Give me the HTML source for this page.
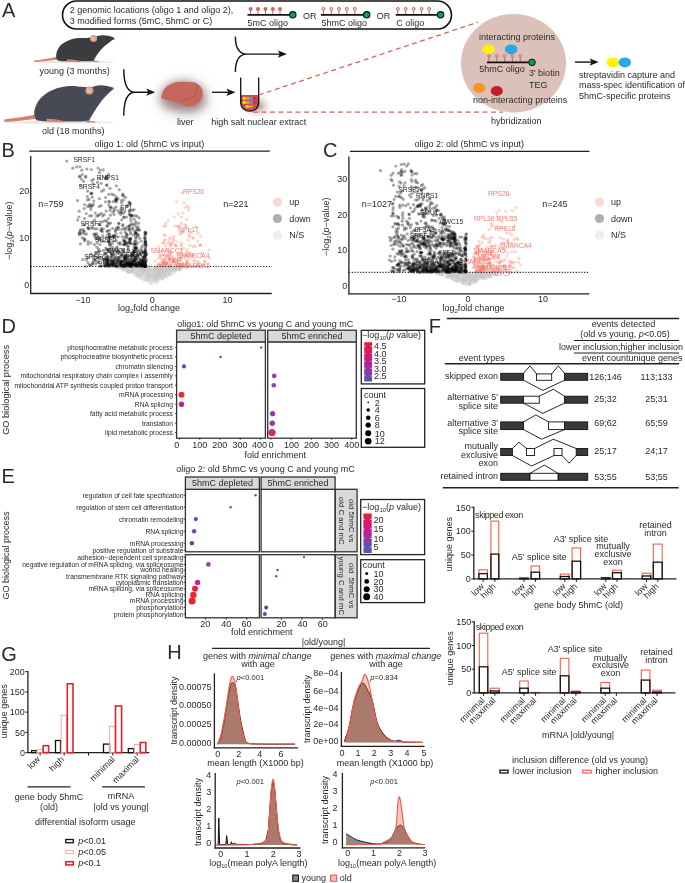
<!DOCTYPE html>
<html><head><meta charset="utf-8"><style>
html,body{margin:0;padding:0;background:#fff;}
svg{display:block;will-change:transform;}
svg{font-family:"Liberation Sans", sans-serif;font-size:9px;fill:#2a2a2a;}
</style></head><body>
<svg width="685" height="883" viewBox="0 0 685 883">
<rect width="685" height="883" fill="#fff"/>
<defs>
<radialGradient id="gshadow" cx="0.5" cy="0.5" r="0.5"><stop offset="0" stop-color="#5a4040" stop-opacity="0.75"/><stop offset="0.55" stop-color="#8a7878" stop-opacity="0.3"/><stop offset="1" stop-color="#ffffff" stop-opacity="0"/></radialGradient>
<radialGradient id="gfaint" cx="0.5" cy="0.5" r="0.5"><stop offset="0" stop-color="#a09090" stop-opacity="0.25"/><stop offset="1" stop-color="#ffffff" stop-opacity="0"/></radialGradient>
<radialGradient id="gtube" cx="0.5" cy="0.5" r="0.5"><stop offset="0" stop-color="#7a2a20" stop-opacity="0.6"/><stop offset="1" stop-color="#ffffff" stop-opacity="0"/></radialGradient>
<radialGradient id="ghalo" cx="0.5" cy="0.5" r="0.5"><stop offset="0.85" stop-color="#b0a0a0" stop-opacity="0.35"/><stop offset="1" stop-color="#ffffff" stop-opacity="0"/></radialGradient>
<linearGradient id="cbar1" x1="0" y1="0" x2="0" y2="1"><stop offset="0" stop-color="#ee1c2e"/><stop offset="0.45" stop-color="#c7168f"/><stop offset="0.75" stop-color="#8a3ca8"/><stop offset="1" stop-color="#4a5bb0"/></linearGradient>
<linearGradient id="cbar2" x1="0" y1="0" x2="0" y2="1"><stop offset="0" stop-color="#ee1c2e"/><stop offset="0.4" stop-color="#d0168a"/><stop offset="0.7" stop-color="#8a3ca8"/><stop offset="1" stop-color="#4a5bb0"/></linearGradient>
<filter id="blur5" x="-50%" y="-50%" width="200%" height="200%"><feGaussianBlur stdDeviation="5"/></filter>
<filter id="blur2" x="-50%" y="-50%" width="200%" height="200%"><feGaussianBlur stdDeviation="3"/></filter>
</defs>
<text x="2.0" y="16.9" font-size="20">A</text>
<rect x="62.5" y="1" width="389" height="28" rx="14" ry="14" fill="none" stroke="#111" stroke-width="1.6"/>
<text x="69.7" y="13.1">2 genomic locations (oligo 1 and oligo 2),</text>
<text x="69.7" y="24.1">3 modified forms (5mC, 5hmC or C)</text>
<line x1="250.6" y1="9.9" x2="250.6" y2="14.8" stroke="#c8695e" stroke-width="1.0"/>
<circle cx="250.6" cy="8.9" r="2.0" fill="#c8695e"/>
<line x1="258.0" y1="9.9" x2="258.0" y2="14.8" stroke="#c8695e" stroke-width="1.0"/>
<circle cx="258.0" cy="8.9" r="2.0" fill="#c8695e"/>
<line x1="265.5" y1="9.9" x2="265.5" y2="14.8" stroke="#c8695e" stroke-width="1.0"/>
<circle cx="265.5" cy="8.9" r="2.0" fill="#c8695e"/>
<line x1="272.8" y1="9.9" x2="272.8" y2="14.8" stroke="#c8695e" stroke-width="1.0"/>
<circle cx="272.8" cy="8.9" r="2.0" fill="#c8695e"/>
<line x1="280.0" y1="9.9" x2="280.0" y2="14.8" stroke="#c8695e" stroke-width="1.0"/>
<circle cx="280.0" cy="8.9" r="2.0" fill="#c8695e"/>
<line x1="247.5" y1="14.8" x2="292.8" y2="14.8" stroke="#111" stroke-width="1.7"/>
<circle cx="292.8" cy="14.8" r="3.2" fill="#00a651" stroke="#111" stroke-width="1.1"/>
<text x="247.5" y="26.0">5mC oligo</text>
<text x="302.9" y="19.4">OR</text>
<line x1="323.5" y1="9.9" x2="323.5" y2="14.8" stroke="#c8695e" stroke-width="1.0"/>
<circle cx="323.5" cy="8.9" r="1.45" fill="#f3dcd6" stroke="#c8695e" stroke-width="1.0"/>
<line x1="331.4" y1="9.9" x2="331.4" y2="14.8" stroke="#c8695e" stroke-width="1.0"/>
<circle cx="331.4" cy="8.9" r="1.45" fill="#f3dcd6" stroke="#c8695e" stroke-width="1.0"/>
<line x1="339.0" y1="9.9" x2="339.0" y2="14.8" stroke="#c8695e" stroke-width="1.0"/>
<circle cx="339.0" cy="8.9" r="1.45" fill="#f3dcd6" stroke="#c8695e" stroke-width="1.0"/>
<line x1="346.8" y1="9.9" x2="346.8" y2="14.8" stroke="#c8695e" stroke-width="1.0"/>
<circle cx="346.8" cy="8.9" r="1.45" fill="#f3dcd6" stroke="#c8695e" stroke-width="1.0"/>
<line x1="354.8" y1="9.9" x2="354.8" y2="14.8" stroke="#c8695e" stroke-width="1.0"/>
<circle cx="354.8" cy="8.9" r="1.45" fill="#f3dcd6" stroke="#c8695e" stroke-width="1.0"/>
<line x1="321.0" y1="14.8" x2="366.7" y2="14.8" stroke="#111" stroke-width="1.7"/>
<circle cx="366.7" cy="14.8" r="3.2" fill="#00a651" stroke="#111" stroke-width="1.1"/>
<text x="321.5" y="26.0">5hmC oligo</text>
<text x="376.7" y="19.4">OR</text>
<line x1="397.8" y1="9.9" x2="397.8" y2="14.8" stroke="#c8695e" stroke-width="1.0"/>
<circle cx="397.8" cy="8.9" r="1.45" fill="#f3dcd6" stroke="#c8695e" stroke-width="1.0"/>
<line x1="405.7" y1="9.9" x2="405.7" y2="14.8" stroke="#c8695e" stroke-width="1.0"/>
<circle cx="405.7" cy="8.9" r="1.45" fill="#f3dcd6" stroke="#c8695e" stroke-width="1.0"/>
<line x1="413.6" y1="9.9" x2="413.6" y2="14.8" stroke="#c8695e" stroke-width="1.0"/>
<circle cx="413.6" cy="8.9" r="1.45" fill="#f3dcd6" stroke="#c8695e" stroke-width="1.0"/>
<line x1="421.5" y1="9.9" x2="421.5" y2="14.8" stroke="#c8695e" stroke-width="1.0"/>
<circle cx="421.5" cy="8.9" r="1.45" fill="#f3dcd6" stroke="#c8695e" stroke-width="1.0"/>
<line x1="429.2" y1="9.9" x2="429.2" y2="14.8" stroke="#c8695e" stroke-width="1.0"/>
<circle cx="429.2" cy="8.9" r="1.45" fill="#f3dcd6" stroke="#c8695e" stroke-width="1.0"/>
<line x1="395.8" y1="14.8" x2="440.6" y2="14.8" stroke="#111" stroke-width="1.7"/>
<circle cx="440.6" cy="14.8" r="3.2" fill="#00a651" stroke="#111" stroke-width="1.1"/>
<text x="396.3" y="26.2">C oligo</text>
<ellipse cx="75" cy="62" rx="40" ry="1.2" fill="#d8d8d8" opacity="0.7"/>
<path d="M34,60.6 C40,59.9 50,58.8 57.5,56.6 L58.5,59.6 C50,60.8 42,61.7 34.3,62.1 Z" fill="#d7806b" stroke="none" stroke-width="1"/>
<path d="M56.8,59.2 C56.2,58.0 55.9,55.6 56.4,53.4 C56.9,51.2 58.2,48.1 60.0,46.0 C61.8,43.9 64.6,42.3 67.3,41.0 C70.0,39.7 72.9,38.8 76.1,38.3 C79.3,37.8 83.6,38.2 86.3,38.0 C89.0,37.8 89.8,37.7 92.2,37.3 C94.6,36.9 98.2,35.6 100.9,35.4 C103.6,35.1 106.0,35.4 108.2,35.8 C110.4,36.2 113.8,37.1 114.3,38.0 C114.8,38.9 112.8,39.5 111.1,41.0 C109.3,42.5 106.0,44.7 103.8,46.8 C101.6,48.9 99.6,51.3 98.0,53.4 C96.4,55.5 95.0,57.9 94.3,59.2 C93.6,60.5 95.4,60.8 93.6,61.1 C91.8,61.5 87.5,61.3 83.4,61.3 C79.3,61.3 72.7,61.4 68.8,61.3 C64.9,61.2 62.0,61.2 60.0,60.9 C58.0,60.5 57.4,60.5 56.8,59.2 Z" fill="#3a3c40" stroke="none" stroke-width="1"/>
<circle cx="93.6" cy="38.5" r="3.5" fill="#d49d8a"/>
<circle cx="93.2" cy="38.7" r="2.1" fill="#e3b8a5"/>
<path d="M67,59.6 C71,59.3 77,60 81,61.3 L80,62.2 C75,62.2 70,62 67,61.6 Z" fill="#d9826e" stroke="none" stroke-width="1"/>
<path d="M93,60.6 L99,61 L98,61.9 L92.5,61.8 Z" fill="#d9826e" stroke="none" stroke-width="1"/>
<circle cx="113.6" cy="39.2" r="0.9" fill="#d0504a"/>
<circle cx="107.2" cy="38.5" r="0.5" fill="#111"/>
<ellipse cx="60" cy="122.3" rx="55" ry="1.3" fill="#d8d8d8" opacity="0.7"/>
<path d="M4.2,119.4 C12,118.6 24,117.2 35.3,114.6 L36.5,118.8 C26,120.4 14,121.5 4.4,121.9 Z" fill="#d7806b" stroke="none" stroke-width="1"/>
<path d="M36.0,119.6 C35.4,118.2 33.9,115.0 34.2,112.0 C34.5,109.0 36.1,104.6 38.0,101.6 C39.9,98.6 42.4,96.2 45.5,94.0 C48.6,91.8 52.8,89.6 56.9,88.3 C61.0,87.0 66.1,86.2 70.2,86.0 C74.3,85.8 78.4,86.6 81.6,86.8 C84.8,87.0 86.3,87.5 89.2,87.3 C92.1,87.1 95.7,85.6 98.7,85.4 C101.7,85.2 104.7,85.5 107.2,86.0 C109.7,86.5 113.0,87.3 113.5,88.3 C114.0,89.3 111.8,90.2 110.0,92.1 C108.2,94.0 104.9,96.8 102.5,99.7 C100.1,102.6 97.9,106.1 95.8,109.2 C93.7,112.3 91.5,116.6 90.1,118.6 C88.7,120.6 91.2,120.6 87.3,121.1 C83.3,121.6 73.1,121.6 66.4,121.6 C59.8,121.6 52.1,121.5 47.4,121.3 C42.7,121.1 39.9,120.8 38.0,120.5 C36.1,120.2 36.6,121.0 36.0,119.6 Z" fill="#474a54" stroke="none" stroke-width="1"/>
<circle cx="89.4" cy="90.4" r="4.0" fill="#d49d8a"/>
<circle cx="89.0" cy="90.6" r="2.5" fill="#e3b8a5"/>
<path d="M46.5,118.8 C52,118.6 59,119.5 64.5,121.2 L63.5,122.3 C57,122.4 51,122.2 46.5,121.6 Z" fill="#d9826e" stroke="none" stroke-width="1"/>
<path d="M86,120.5 L95.5,121.3 L95,122.4 L85.5,122.2 Z" fill="#d9826e" stroke="none" stroke-width="1"/>
<circle cx="113.0" cy="88.6" r="1.0" fill="#d0504a"/>
<circle cx="105.5" cy="88.5" r="0.6" fill="#111"/>
<text x="39.6" y="73.9">young (3 months)</text>
<text x="42.0" y="134.3">old (18 months)</text>
<path d="M123.8,69.2 C123.8,84.2 126.8,92.2 135,92.2 M123.8,115.8 C123.8,100.2 126.8,92.2 135,92.2 L149.3,92.2" fill="none" stroke="#111" stroke-width="1.4"/>
<path d="M155.3,92.2 L146.3,88.60000000000001 L148.3,92.2 L146.3,95.8 Z" fill="#111" stroke="none" stroke-width="1"/>
<path d="M235.4,36.4 C235.4,46.1 238.4,54.1 247,54.1 M235.4,72 C235.4,62.1 238.4,54.1 247,54.1 L280.8,54.1" fill="none" stroke="#111" stroke-width="1.4"/>
<path d="M286.8,54.1 L277.8,50.5 L279.8,54.1 L277.8,57.7 Z" fill="#111" stroke="none" stroke-width="1"/>
<line x1="212.0" y1="92.3" x2="230.0" y2="92.3" stroke="#111" stroke-width="1.4"/>
<path d="M235.4,92.3 L226.4,88.7 L228.4,92.3 L226.4,95.9 Z" fill="#111" stroke="none" stroke-width="1"/>
<ellipse cx="186" cy="100" rx="46" ry="38" fill="url(#gfaint)"/><g filter="url(#blur5)" opacity="0.55"><path d="M160,100 C160,90 168,82 180,81 C192,80 205,86 206,96 C207,106 200,112 190,112 C178,112 160,110 160,100 Z" fill="#5a3838"/></g>
<path d="M161.1,98.3 C162,92 164.5,88 167.5,86 C171,83 175,82 179.2,81.9 C185,81.5 190,81.8 194.4,82.5 C199.5,84.5 202.6,88 202.6,92 C202.8,96.5 201.5,100.5 199,102.4 C196,105 192,106.6 188.5,106.5 C185,106.3 181.5,104.5 179.2,102.4 C176,102.2 173,101.8 171,101.2 C167,100.2 163.5,99.5 161.1,98.3 Z" fill="#c7665a" stroke="none" stroke-width="1"/>
<path d="M194.4,82.5 C197.5,85 198,90 196,94 C193.5,98 188,99.5 182,100" fill="none" stroke="#9b4a44" stroke-width="0.5"/>
<text x="177.0" y="125.1">liver</text>
<ellipse cx="257" cy="106" rx="18" ry="15" fill="url(#gtube)"/>
<path d="M240.9,95 L258.5,95 L258.5,102 C258.5,108 254.5,111 249.7,111 C244.9,111 240.9,108 240.9,102 Z" fill="#c0504d" stroke="none" stroke-width="1"/>
<ellipse cx="244.3" cy="98.3" rx="2.0" ry="1.6" fill="#f7d117"/>
<ellipse cx="247.8" cy="98.3" rx="2.0" ry="1.6" fill="#f39c1c"/>
<ellipse cx="251.3" cy="98.3" rx="2.0" ry="1.6" fill="#3aa7e0"/>
<ellipse cx="254.8" cy="98.3" rx="2.0" ry="1.6" fill="#d92b3a"/>
<ellipse cx="244.3" cy="102.4" rx="2.0" ry="1.6" fill="#f7d117"/>
<ellipse cx="247.8" cy="102.4" rx="2.0" ry="1.6" fill="#f39c1c"/>
<ellipse cx="251.3" cy="102.4" rx="2.0" ry="1.6" fill="#3aa7e0"/>
<ellipse cx="254.8" cy="102.4" rx="2.0" ry="1.6" fill="#d92b3a"/>
<ellipse cx="247.3" cy="106.5" rx="2.0" ry="1.6" fill="#f7d117"/>
<ellipse cx="251" cy="106.5" rx="2.0" ry="1.6" fill="#f39c1c"/>
<path d="M240.7,77.4 L240.7,102 C240.7,108 244.7,111.2 249.7,111.2 C254.7,111.2 258.7,108 258.7,102 L258.7,77.4" fill="none" stroke="#111" stroke-width="1.3"/>
<text x="211.3" y="124.8">high salt nuclear extract</text>
<line x1="258.7" y1="95.0" x2="478.0" y2="22.2" stroke="#c8695e" stroke-width="1.3" stroke-dasharray="5 3.5"/>
<line x1="253.0" y1="112.2" x2="503.0" y2="112.2" stroke="#c8695e" stroke-width="1.3" stroke-dasharray="5 3.5"/>
<ellipse cx="513.5" cy="63.5" rx="56" ry="53" fill="url(#ghalo)"/>
<ellipse cx="513.5" cy="63.2" rx="52.5" ry="49.2" fill="#dcc1b8"/>
<text x="478.9" y="39.5">interacting proteins</text>
<ellipse cx="488.5" cy="49.3" rx="6.3" ry="4.9" fill="#fff200"/>
<ellipse cx="511.2" cy="49.3" rx="6.3" ry="4.9" fill="#27aae1"/>
<line x1="489.0" y1="57.0" x2="489.0" y2="62.4" stroke="#c0574a" stroke-width="0.8"/>
<circle cx="489" cy="55.9" r="1.3" fill="none" stroke="#c0574a" stroke-width="0.7"/>
<line x1="496.8" y1="57.0" x2="496.8" y2="62.4" stroke="#c0574a" stroke-width="0.8"/>
<circle cx="496.8" cy="55.9" r="1.3" fill="none" stroke="#c0574a" stroke-width="0.7"/>
<line x1="504.6" y1="57.0" x2="504.6" y2="62.4" stroke="#c0574a" stroke-width="0.8"/>
<circle cx="504.6" cy="55.9" r="1.3" fill="none" stroke="#c0574a" stroke-width="0.7"/>
<line x1="512.4" y1="57.0" x2="512.4" y2="62.4" stroke="#c0574a" stroke-width="0.8"/>
<circle cx="512.4" cy="55.9" r="1.3" fill="none" stroke="#c0574a" stroke-width="0.7"/>
<line x1="520.3" y1="57.0" x2="520.3" y2="62.4" stroke="#c0574a" stroke-width="0.8"/>
<circle cx="520.3" cy="55.9" r="1.3" fill="none" stroke="#c0574a" stroke-width="0.7"/>
<line x1="487.0" y1="62.4" x2="532.0" y2="62.4" stroke="#111" stroke-width="1.8"/>
<circle cx="532" cy="62.4" r="3.3" fill="#00a651" stroke="#111" stroke-width="1"/>
<text x="479.3" y="72.3">5hmC oligo</text>
<text x="528.9" y="76.4">3' biotin</text>
<text x="529.0" y="87.6">TEG</text>
<ellipse cx="479.3" cy="88" rx="6" ry="4.9" fill="#f7941d"/>
<ellipse cx="496.8" cy="91" rx="6" ry="4.9" fill="#be1e2d"/>
<text x="473.1" y="103.0">non-interacting proteins</text>
<text x="491.1" y="124.4">hybridization</text>
<line x1="575.0" y1="62.1" x2="594.0" y2="62.1" stroke="#111" stroke-width="1.4"/>
<path d="M598.6,62.1 L589.6,58.5 L591.6,62.1 L589.6,65.7 Z" fill="#111" stroke="none" stroke-width="1"/>
<ellipse cx="612.9" cy="62.4" rx="6.2" ry="5" fill="#fff200"/>
<ellipse cx="624.8" cy="62.4" rx="6.2" ry="5" fill="#27aae1"/>
<text x="578.9" y="77.6">streptavidin capture and</text>
<text x="578.9" y="88.4">mass-spec identification of</text>
<text x="578.9" y="99.2">5hmC-specific proteins</text>
<text x="1.5" y="156.9" font-size="20">B</text>
<text x="94.6" y="147.3">oligo 1: old (5hmC vs input)</text>
<line x1="29.2" y1="151.1" x2="269.8" y2="151.1" stroke="#231f20" stroke-width="1.3"/>
<g fill="#c8c8c8" fill-opacity="0.28"><circle cx="152.9" cy="273.6" r="1.55"/><circle cx="172.5" cy="274.2" r="1.55"/><circle cx="147.4" cy="267.4" r="1.55"/><circle cx="161.7" cy="277.0" r="1.55"/><circle cx="164.6" cy="270.0" r="1.55"/><circle cx="178.1" cy="268.6" r="1.55"/><circle cx="163.5" cy="274.2" r="1.55"/><circle cx="146.0" cy="268.9" r="1.55"/><circle cx="165.9" cy="270.9" r="1.55"/><circle cx="149.8" cy="272.5" r="1.55"/><circle cx="137.9" cy="274.1" r="1.55"/><circle cx="158.8" cy="272.6" r="1.55"/><circle cx="120.6" cy="267.3" r="1.55"/><circle cx="144.6" cy="268.7" r="1.55"/><circle cx="127.7" cy="271.2" r="1.55"/><circle cx="167.1" cy="273.1" r="1.55"/><circle cx="140.0" cy="267.5" r="1.55"/><circle cx="164.1" cy="275.8" r="1.55"/><circle cx="161.3" cy="276.0" r="1.55"/><circle cx="148.9" cy="277.6" r="1.55"/><circle cx="158.0" cy="277.1" r="1.55"/><circle cx="170.4" cy="270.4" r="1.55"/><circle cx="141.4" cy="269.5" r="1.55"/><circle cx="123.7" cy="270.4" r="1.55"/><circle cx="161.0" cy="266.6" r="1.55"/><circle cx="175.2" cy="268.2" r="1.55"/><circle cx="162.7" cy="278.6" r="1.55"/><circle cx="168.1" cy="269.8" r="1.55"/><circle cx="162.4" cy="274.0" r="1.55"/><circle cx="123.1" cy="269.2" r="1.55"/><circle cx="148.2" cy="268.5" r="1.55"/><circle cx="145.1" cy="277.9" r="1.55"/><circle cx="158.0" cy="280.0" r="1.55"/><circle cx="162.2" cy="267.6" r="1.55"/><circle cx="160.4" cy="268.6" r="1.55"/><circle cx="170.2" cy="274.2" r="1.55"/><circle cx="149.4" cy="276.4" r="1.55"/><circle cx="173.1" cy="269.7" r="1.55"/><circle cx="126.3" cy="270.1" r="1.55"/><circle cx="160.0" cy="275.5" r="1.55"/><circle cx="135.7" cy="267.0" r="1.55"/><circle cx="131.5" cy="270.1" r="1.55"/><circle cx="173.8" cy="268.0" r="1.55"/><circle cx="147.3" cy="280.1" r="1.55"/><circle cx="156.3" cy="276.9" r="1.55"/><circle cx="185.7" cy="266.9" r="1.55"/><circle cx="142.8" cy="270.0" r="1.55"/><circle cx="178.4" cy="267.4" r="1.55"/><circle cx="140.0" cy="275.6" r="1.55"/><circle cx="152.0" cy="280.2" r="1.55"/><circle cx="140.2" cy="268.5" r="1.55"/><circle cx="157.4" cy="269.4" r="1.55"/><circle cx="148.6" cy="275.1" r="1.55"/><circle cx="144.3" cy="266.6" r="1.55"/><circle cx="149.2" cy="277.2" r="1.55"/><circle cx="174.3" cy="272.9" r="1.55"/><circle cx="187.1" cy="266.8" r="1.55"/><circle cx="144.7" cy="272.2" r="1.55"/><circle cx="174.1" cy="268.8" r="1.55"/><circle cx="138.8" cy="277.0" r="1.55"/><circle cx="162.1" cy="271.1" r="1.55"/><circle cx="147.8" cy="275.4" r="1.55"/><circle cx="155.5" cy="275.3" r="1.55"/><circle cx="152.7" cy="276.7" r="1.55"/><circle cx="145.4" cy="267.5" r="1.55"/><circle cx="117.0" cy="267.1" r="1.55"/><circle cx="165.4" cy="266.9" r="1.55"/><circle cx="161.9" cy="269.6" r="1.55"/><circle cx="174.1" cy="267.6" r="1.55"/><circle cx="169.1" cy="274.0" r="1.55"/><circle cx="140.8" cy="277.7" r="1.55"/><circle cx="144.2" cy="269.6" r="1.55"/><circle cx="143.3" cy="269.0" r="1.55"/><circle cx="156.5" cy="269.1" r="1.55"/><circle cx="120.6" cy="268.4" r="1.55"/><circle cx="156.0" cy="273.0" r="1.55"/><circle cx="161.8" cy="270.6" r="1.55"/><circle cx="140.4" cy="274.5" r="1.55"/><circle cx="164.8" cy="272.8" r="1.55"/><circle cx="187.4" cy="267.0" r="1.55"/><circle cx="158.7" cy="273.6" r="1.55"/><circle cx="161.5" cy="269.9" r="1.55"/><circle cx="155.6" cy="276.9" r="1.55"/><circle cx="127.5" cy="271.4" r="1.55"/><circle cx="171.0" cy="269.7" r="1.55"/><circle cx="154.4" cy="279.3" r="1.55"/><circle cx="162.5" cy="268.7" r="1.55"/><circle cx="157.4" cy="267.7" r="1.55"/><circle cx="153.8" cy="276.7" r="1.55"/><circle cx="149.6" cy="275.7" r="1.55"/><circle cx="158.7" cy="267.9" r="1.55"/><circle cx="161.9" cy="269.1" r="1.55"/><circle cx="166.9" cy="268.3" r="1.55"/><circle cx="140.2" cy="270.6" r="1.55"/><circle cx="143.0" cy="271.2" r="1.55"/><circle cx="142.8" cy="269.5" r="1.55"/><circle cx="138.3" cy="271.0" r="1.55"/><circle cx="153.0" cy="280.9" r="1.55"/><circle cx="152.4" cy="275.8" r="1.55"/><circle cx="181.8" cy="267.6" r="1.55"/><circle cx="160.2" cy="273.1" r="1.55"/><circle cx="128.4" cy="271.4" r="1.55"/><circle cx="168.8" cy="271.3" r="1.55"/><circle cx="156.6" cy="272.9" r="1.55"/><circle cx="153.6" cy="273.3" r="1.55"/><circle cx="157.9" cy="281.6" r="1.55"/><circle cx="162.7" cy="272.1" r="1.55"/><circle cx="165.4" cy="277.1" r="1.55"/><circle cx="134.3" cy="269.9" r="1.55"/><circle cx="180.2" cy="268.6" r="1.55"/><circle cx="143.8" cy="269.6" r="1.55"/><circle cx="144.8" cy="275.1" r="1.55"/><circle cx="153.8" cy="268.3" r="1.55"/><circle cx="155.5" cy="274.0" r="1.55"/><circle cx="140.8" cy="269.0" r="1.55"/><circle cx="127.3" cy="271.4" r="1.55"/><circle cx="165.9" cy="272.5" r="1.55"/><circle cx="151.9" cy="282.0" r="1.55"/><circle cx="147.9" cy="277.2" r="1.55"/><circle cx="154.8" cy="269.9" r="1.55"/><circle cx="145.2" cy="280.3" r="1.55"/><circle cx="161.7" cy="272.4" r="1.55"/><circle cx="127.9" cy="267.1" r="1.55"/><circle cx="148.8" cy="274.4" r="1.55"/><circle cx="168.6" cy="271.8" r="1.55"/><circle cx="145.4" cy="271.4" r="1.55"/><circle cx="167.8" cy="269.2" r="1.55"/><circle cx="169.6" cy="267.2" r="1.55"/><circle cx="164.5" cy="276.2" r="1.55"/><circle cx="165.6" cy="267.7" r="1.55"/><circle cx="118.2" cy="267.0" r="1.55"/><circle cx="162.3" cy="273.3" r="1.55"/><circle cx="158.4" cy="275.5" r="1.55"/><circle cx="177.8" cy="269.6" r="1.55"/><circle cx="160.6" cy="272.1" r="1.55"/><circle cx="132.6" cy="266.8" r="1.55"/><circle cx="158.0" cy="272.8" r="1.55"/><circle cx="162.2" cy="267.2" r="1.55"/><circle cx="120.9" cy="268.0" r="1.55"/><circle cx="156.6" cy="271.6" r="1.55"/><circle cx="155.0" cy="279.7" r="1.55"/><circle cx="160.1" cy="273.6" r="1.55"/><circle cx="171.7" cy="269.8" r="1.55"/><circle cx="157.1" cy="267.6" r="1.55"/><circle cx="134.9" cy="268.0" r="1.55"/><circle cx="177.5" cy="268.7" r="1.55"/><circle cx="147.6" cy="274.2" r="1.55"/><circle cx="144.4" cy="268.7" r="1.55"/><circle cx="141.3" cy="278.4" r="1.55"/><circle cx="126.3" cy="267.7" r="1.55"/><circle cx="143.8" cy="273.8" r="1.55"/><circle cx="148.6" cy="278.6" r="1.55"/><circle cx="154.8" cy="271.9" r="1.55"/><circle cx="158.9" cy="268.0" r="1.55"/><circle cx="131.2" cy="267.8" r="1.55"/><circle cx="147.2" cy="281.2" r="1.55"/><circle cx="122.4" cy="268.8" r="1.55"/><circle cx="159.9" cy="277.8" r="1.55"/><circle cx="179.3" cy="268.2" r="1.55"/><circle cx="155.2" cy="275.2" r="1.55"/><circle cx="139.7" cy="270.4" r="1.55"/><circle cx="151.7" cy="275.5" r="1.55"/><circle cx="166.2" cy="272.1" r="1.55"/><circle cx="139.8" cy="270.7" r="1.55"/><circle cx="195.8" cy="266.6" r="1.55"/><circle cx="106.4" cy="266.6" r="1.55"/><circle cx="137.9" cy="274.0" r="1.55"/><circle cx="149.4" cy="269.7" r="1.55"/><circle cx="167.7" cy="268.0" r="1.55"/><circle cx="155.4" cy="279.5" r="1.55"/><circle cx="157.9" cy="277.2" r="1.55"/><circle cx="161.1" cy="269.8" r="1.55"/><circle cx="173.3" cy="269.5" r="1.55"/><circle cx="151.0" cy="281.7" r="1.55"/><circle cx="143.0" cy="278.7" r="1.55"/><circle cx="106.2" cy="266.6" r="1.55"/><circle cx="161.6" cy="274.5" r="1.55"/><circle cx="169.6" cy="272.4" r="1.55"/><circle cx="158.4" cy="276.2" r="1.55"/><circle cx="148.5" cy="268.8" r="1.55"/><circle cx="178.9" cy="266.7" r="1.55"/><circle cx="175.8" cy="270.3" r="1.55"/><circle cx="116.0" cy="266.7" r="1.55"/><circle cx="152.8" cy="281.1" r="1.55"/><circle cx="150.2" cy="282.7" r="1.55"/><circle cx="127.6" cy="267.0" r="1.55"/><circle cx="145.0" cy="275.4" r="1.55"/><circle cx="159.9" cy="267.8" r="1.55"/><circle cx="157.5" cy="274.4" r="1.55"/><circle cx="164.8" cy="268.4" r="1.55"/><circle cx="143.3" cy="276.3" r="1.55"/><circle cx="181.1" cy="267.3" r="1.55"/><circle cx="168.7" cy="267.3" r="1.55"/><circle cx="143.0" cy="272.8" r="1.55"/><circle cx="154.3" cy="267.9" r="1.55"/><circle cx="162.4" cy="270.9" r="1.55"/><circle cx="142.5" cy="273.2" r="1.55"/><circle cx="178.7" cy="268.2" r="1.55"/><circle cx="159.5" cy="269.8" r="1.55"/><circle cx="159.4" cy="268.2" r="1.55"/><circle cx="158.3" cy="274.3" r="1.55"/><circle cx="158.1" cy="274.0" r="1.55"/><circle cx="158.5" cy="279.1" r="1.55"/><circle cx="161.3" cy="271.8" r="1.55"/><circle cx="138.9" cy="267.6" r="1.55"/><circle cx="148.5" cy="271.3" r="1.55"/><circle cx="151.6" cy="279.9" r="1.55"/><circle cx="176.3" cy="268.7" r="1.55"/><circle cx="173.3" cy="272.0" r="1.55"/><circle cx="150.5" cy="276.2" r="1.55"/><circle cx="147.7" cy="271.3" r="1.55"/><circle cx="154.1" cy="276.2" r="1.55"/><circle cx="151.7" cy="275.7" r="1.55"/><circle cx="155.0" cy="273.7" r="1.55"/><circle cx="131.4" cy="271.4" r="1.55"/><circle cx="151.0" cy="267.2" r="1.55"/><circle cx="164.6" cy="267.7" r="1.55"/><circle cx="127.9" cy="266.7" r="1.55"/><circle cx="141.0" cy="267.1" r="1.55"/><circle cx="149.3" cy="272.1" r="1.55"/><circle cx="173.7" cy="268.1" r="1.55"/><circle cx="139.9" cy="269.9" r="1.55"/><circle cx="127.3" cy="272.0" r="1.55"/><circle cx="167.7" cy="270.9" r="1.55"/><circle cx="145.1" cy="275.6" r="1.55"/><circle cx="169.6" cy="266.7" r="1.55"/><circle cx="144.8" cy="266.9" r="1.55"/><circle cx="159.7" cy="277.2" r="1.55"/><circle cx="147.2" cy="274.7" r="1.55"/><circle cx="180.2" cy="269.8" r="1.55"/><circle cx="149.1" cy="267.4" r="1.55"/><circle cx="121.2" cy="267.3" r="1.55"/><circle cx="134.8" cy="268.4" r="1.55"/><circle cx="164.2" cy="272.7" r="1.55"/><circle cx="149.1" cy="280.2" r="1.55"/><circle cx="164.1" cy="274.7" r="1.55"/><circle cx="140.3" cy="273.4" r="1.55"/><circle cx="164.2" cy="273.3" r="1.55"/><circle cx="167.7" cy="267.9" r="1.55"/><circle cx="156.1" cy="282.8" r="1.55"/><circle cx="165.3" cy="267.7" r="1.55"/><circle cx="153.8" cy="270.1" r="1.55"/><circle cx="131.8" cy="271.9" r="1.55"/><circle cx="145.4" cy="276.0" r="1.55"/><circle cx="150.6" cy="270.7" r="1.55"/><circle cx="157.6" cy="276.5" r="1.55"/><circle cx="169.6" cy="275.2" r="1.55"/><circle cx="158.2" cy="266.8" r="1.55"/><circle cx="147.0" cy="271.6" r="1.55"/><circle cx="155.9" cy="267.7" r="1.55"/><circle cx="131.7" cy="266.7" r="1.55"/><circle cx="164.4" cy="275.6" r="1.55"/><circle cx="156.3" cy="271.6" r="1.55"/><circle cx="135.6" cy="269.0" r="1.55"/><circle cx="158.1" cy="270.8" r="1.55"/><circle cx="140.0" cy="269.6" r="1.55"/><circle cx="165.2" cy="271.1" r="1.55"/><circle cx="169.4" cy="273.9" r="1.55"/><circle cx="150.4" cy="274.3" r="1.55"/><circle cx="151.7" cy="276.6" r="1.55"/><circle cx="131.6" cy="268.3" r="1.55"/><circle cx="139.4" cy="266.8" r="1.55"/><circle cx="124.3" cy="270.0" r="1.55"/><circle cx="162.2" cy="267.0" r="1.55"/><circle cx="170.0" cy="271.9" r="1.55"/><circle cx="126.6" cy="268.9" r="1.55"/><circle cx="144.7" cy="272.6" r="1.55"/><circle cx="170.8" cy="272.0" r="1.55"/><circle cx="151.9" cy="277.2" r="1.55"/><circle cx="136.6" cy="272.1" r="1.55"/><circle cx="137.8" cy="274.6" r="1.55"/><circle cx="157.9" cy="267.4" r="1.55"/><circle cx="170.1" cy="267.6" r="1.55"/><circle cx="143.1" cy="267.7" r="1.55"/><circle cx="130.0" cy="271.6" r="1.55"/><circle cx="169.0" cy="266.6" r="1.55"/><circle cx="170.1" cy="268.3" r="1.55"/><circle cx="148.8" cy="266.7" r="1.55"/><circle cx="146.2" cy="278.0" r="1.55"/><circle cx="174.2" cy="270.1" r="1.55"/><circle cx="142.2" cy="271.7" r="1.55"/><circle cx="162.2" cy="279.3" r="1.55"/><circle cx="154.9" cy="271.8" r="1.55"/><circle cx="125.9" cy="266.8" r="1.55"/><circle cx="155.0" cy="269.9" r="1.55"/><circle cx="130.2" cy="272.6" r="1.55"/><circle cx="137.2" cy="268.5" r="1.55"/><circle cx="135.4" cy="268.1" r="1.55"/><circle cx="180.3" cy="270.8" r="1.55"/><circle cx="173.3" cy="270.0" r="1.55"/><circle cx="133.8" cy="272.2" r="1.55"/><circle cx="136.1" cy="272.0" r="1.55"/><circle cx="133.3" cy="272.9" r="1.55"/><circle cx="161.8" cy="270.6" r="1.55"/><circle cx="165.2" cy="275.9" r="1.55"/><circle cx="139.3" cy="274.7" r="1.55"/><circle cx="122.6" cy="269.1" r="1.55"/><circle cx="124.9" cy="269.7" r="1.55"/><circle cx="122.8" cy="268.0" r="1.55"/><circle cx="158.8" cy="274.3" r="1.55"/><circle cx="142.5" cy="277.5" r="1.55"/><circle cx="154.1" cy="279.1" r="1.55"/><circle cx="162.5" cy="267.8" r="1.55"/><circle cx="131.9" cy="272.1" r="1.55"/><circle cx="158.0" cy="279.8" r="1.55"/><circle cx="178.9" cy="269.1" r="1.55"/><circle cx="136.6" cy="275.3" r="1.55"/><circle cx="153.2" cy="270.8" r="1.55"/><circle cx="177.1" cy="268.8" r="1.55"/><circle cx="157.6" cy="279.0" r="1.55"/><circle cx="173.6" cy="269.1" r="1.55"/><circle cx="129.2" cy="266.7" r="1.55"/><circle cx="170.9" cy="269.4" r="1.55"/><circle cx="154.7" cy="270.4" r="1.55"/><circle cx="149.3" cy="271.7" r="1.55"/><circle cx="179.2" cy="269.1" r="1.55"/><circle cx="150.3" cy="283.5" r="1.55"/><circle cx="172.2" cy="268.3" r="1.55"/><circle cx="151.7" cy="277.2" r="1.55"/><circle cx="161.0" cy="276.5" r="1.55"/><circle cx="144.6" cy="268.3" r="1.55"/><circle cx="146.1" cy="267.3" r="1.55"/><circle cx="150.6" cy="270.5" r="1.55"/><circle cx="151.8" cy="273.0" r="1.55"/><circle cx="189.7" cy="266.6" r="1.55"/><circle cx="157.4" cy="274.9" r="1.55"/><circle cx="118.0" cy="266.8" r="1.55"/><circle cx="132.7" cy="270.6" r="1.55"/><circle cx="192.6" cy="266.6" r="1.55"/><circle cx="172.2" cy="266.7" r="1.55"/><circle cx="179.2" cy="267.0" r="1.55"/><circle cx="114.1" cy="266.6" r="1.55"/><circle cx="155.4" cy="270.4" r="1.55"/><circle cx="170.7" cy="266.9" r="1.55"/><circle cx="171.0" cy="268.4" r="1.55"/><circle cx="139.7" cy="274.6" r="1.55"/><circle cx="166.2" cy="272.8" r="1.55"/><circle cx="166.5" cy="276.5" r="1.55"/><circle cx="165.6" cy="269.8" r="1.55"/><circle cx="145.2" cy="268.3" r="1.55"/><circle cx="156.2" cy="268.4" r="1.55"/><circle cx="147.7" cy="276.4" r="1.55"/><circle cx="163.5" cy="272.1" r="1.55"/><circle cx="180.6" cy="268.6" r="1.55"/><circle cx="133.5" cy="269.4" r="1.55"/><circle cx="179.7" cy="268.8" r="1.55"/><circle cx="137.6" cy="270.8" r="1.55"/><circle cx="140.9" cy="267.4" r="1.55"/><circle cx="178.0" cy="269.0" r="1.55"/><circle cx="154.7" cy="267.7" r="1.55"/><circle cx="151.3" cy="269.2" r="1.55"/><circle cx="166.8" cy="271.5" r="1.55"/><circle cx="154.0" cy="277.6" r="1.55"/><circle cx="159.3" cy="271.8" r="1.55"/><circle cx="186.1" cy="267.3" r="1.55"/><circle cx="134.2" cy="268.8" r="1.55"/><circle cx="137.5" cy="276.7" r="1.55"/><circle cx="157.7" cy="269.2" r="1.55"/><circle cx="139.7" cy="270.9" r="1.55"/><circle cx="142.5" cy="271.0" r="1.55"/><circle cx="140.4" cy="267.4" r="1.55"/><circle cx="185.9" cy="267.1" r="1.55"/><circle cx="176.9" cy="268.5" r="1.55"/><circle cx="149.8" cy="279.9" r="1.55"/><circle cx="159.8" cy="277.0" r="1.55"/><circle cx="168.3" cy="269.4" r="1.55"/><circle cx="172.2" cy="269.2" r="1.55"/><circle cx="134.9" cy="274.4" r="1.55"/><circle cx="155.2" cy="280.7" r="1.55"/><circle cx="147.0" cy="279.8" r="1.55"/><circle cx="168.5" cy="274.8" r="1.55"/><circle cx="153.7" cy="269.6" r="1.55"/><circle cx="149.4" cy="269.8" r="1.55"/><circle cx="128.3" cy="270.3" r="1.55"/><circle cx="136.8" cy="275.5" r="1.55"/><circle cx="142.4" cy="270.8" r="1.55"/><circle cx="164.6" cy="277.2" r="1.55"/><circle cx="141.2" cy="270.8" r="1.55"/><circle cx="144.6" cy="279.4" r="1.55"/><circle cx="154.4" cy="276.9" r="1.55"/><circle cx="146.9" cy="272.1" r="1.55"/><circle cx="155.9" cy="271.6" r="1.55"/><circle cx="178.9" cy="269.8" r="1.55"/><circle cx="142.9" cy="271.0" r="1.55"/><circle cx="156.0" cy="271.2" r="1.55"/><circle cx="142.7" cy="273.9" r="1.55"/><circle cx="155.4" cy="280.6" r="1.55"/><circle cx="137.5" cy="271.3" r="1.55"/><circle cx="133.7" cy="269.6" r="1.55"/><circle cx="160.6" cy="277.5" r="1.55"/><circle cx="163.7" cy="277.5" r="1.55"/><circle cx="135.3" cy="274.8" r="1.55"/><circle cx="132.4" cy="270.2" r="1.55"/><circle cx="128.8" cy="272.6" r="1.55"/><circle cx="141.3" cy="274.9" r="1.55"/><circle cx="193.3" cy="266.6" r="1.55"/><circle cx="131.6" cy="270.7" r="1.55"/><circle cx="171.5" cy="270.1" r="1.55"/><circle cx="128.0" cy="268.4" r="1.55"/><circle cx="170.9" cy="272.0" r="1.55"/><circle cx="139.0" cy="273.8" r="1.55"/><circle cx="172.2" cy="269.1" r="1.55"/><circle cx="146.0" cy="275.1" r="1.55"/><circle cx="188.1" cy="266.7" r="1.55"/><circle cx="168.0" cy="270.5" r="1.55"/><circle cx="163.2" cy="270.2" r="1.55"/><circle cx="156.9" cy="274.9" r="1.55"/><circle cx="130.4" cy="272.6" r="1.55"/><circle cx="146.5" cy="273.4" r="1.55"/><circle cx="163.9" cy="272.6" r="1.55"/><circle cx="136.7" cy="270.1" r="1.55"/><circle cx="150.3" cy="268.3" r="1.55"/><circle cx="137.2" cy="272.0" r="1.55"/><circle cx="160.6" cy="271.7" r="1.55"/><circle cx="187.8" cy="267.1" r="1.55"/><circle cx="149.1" cy="274.5" r="1.55"/><circle cx="160.6" cy="269.4" r="1.55"/><circle cx="143.8" cy="280.2" r="1.55"/><circle cx="155.6" cy="274.4" r="1.55"/><circle cx="133.8" cy="269.1" r="1.55"/><circle cx="168.3" cy="272.4" r="1.55"/><circle cx="160.5" cy="271.9" r="1.55"/><circle cx="194.9" cy="266.6" r="1.55"/><circle cx="169.5" cy="270.5" r="1.55"/><circle cx="153.2" cy="273.2" r="1.55"/><circle cx="169.5" cy="267.5" r="1.55"/><circle cx="157.5" cy="267.7" r="1.55"/><circle cx="153.8" cy="270.8" r="1.55"/><circle cx="170.7" cy="273.3" r="1.55"/><circle cx="123.9" cy="267.7" r="1.55"/><circle cx="123.8" cy="268.8" r="1.55"/><circle cx="152.6" cy="278.6" r="1.55"/><circle cx="170.0" cy="266.6" r="1.55"/><circle cx="156.7" cy="275.4" r="1.55"/><circle cx="176.5" cy="266.7" r="1.55"/><circle cx="156.3" cy="279.0" r="1.55"/><circle cx="151.5" cy="277.8" r="1.55"/><circle cx="169.4" cy="268.0" r="1.55"/><circle cx="161.0" cy="269.0" r="1.55"/><circle cx="156.4" cy="275.9" r="1.55"/><circle cx="187.7" cy="266.9" r="1.55"/><circle cx="156.7" cy="278.4" r="1.55"/><circle cx="162.5" cy="278.9" r="1.55"/><circle cx="159.5" cy="277.2" r="1.55"/><circle cx="127.7" cy="271.2" r="1.55"/><circle cx="132.1" cy="271.6" r="1.55"/><circle cx="133.0" cy="267.8" r="1.55"/><circle cx="151.5" cy="270.0" r="1.55"/><circle cx="162.0" cy="271.3" r="1.55"/><circle cx="175.7" cy="271.2" r="1.55"/><circle cx="118.0" cy="267.1" r="1.55"/><circle cx="147.9" cy="280.4" r="1.55"/><circle cx="187.8" cy="267.0" r="1.55"/><circle cx="193.4" cy="266.6" r="1.55"/><circle cx="166.4" cy="269.3" r="1.55"/><circle cx="192.6" cy="266.6" r="1.55"/><circle cx="144.7" cy="272.1" r="1.55"/><circle cx="129.9" cy="268.2" r="1.55"/><circle cx="150.7" cy="269.0" r="1.55"/><circle cx="158.5" cy="272.7" r="1.55"/><circle cx="174.3" cy="269.0" r="1.55"/><circle cx="167.2" cy="268.7" r="1.55"/><circle cx="158.7" cy="267.2" r="1.55"/><circle cx="153.2" cy="274.8" r="1.55"/><circle cx="116.5" cy="266.6" r="1.55"/><circle cx="153.7" cy="279.0" r="1.55"/><circle cx="128.3" cy="267.8" r="1.55"/><circle cx="138.2" cy="273.5" r="1.55"/><circle cx="142.1" cy="268.1" r="1.55"/><circle cx="166.6" cy="270.4" r="1.55"/><circle cx="164.8" cy="274.6" r="1.55"/><circle cx="153.8" cy="268.0" r="1.55"/><circle cx="129.0" cy="268.1" r="1.55"/><circle cx="154.0" cy="272.1" r="1.55"/><circle cx="175.9" cy="268.7" r="1.55"/><circle cx="166.7" cy="271.0" r="1.55"/><circle cx="164.4" cy="271.8" r="1.55"/><circle cx="146.1" cy="269.7" r="1.55"/><circle cx="139.9" cy="268.6" r="1.55"/><circle cx="159.1" cy="279.0" r="1.55"/><circle cx="174.0" cy="270.7" r="1.55"/><circle cx="149.5" cy="275.8" r="1.55"/><circle cx="161.2" cy="268.9" r="1.55"/><circle cx="174.9" cy="268.2" r="1.55"/><circle cx="140.0" cy="267.9" r="1.55"/><circle cx="148.3" cy="270.5" r="1.55"/><circle cx="127.4" cy="267.6" r="1.55"/><circle cx="136.9" cy="268.6" r="1.55"/><circle cx="121.0" cy="268.6" r="1.55"/><circle cx="150.0" cy="269.6" r="1.55"/><circle cx="170.8" cy="267.2" r="1.55"/><circle cx="160.9" cy="268.3" r="1.55"/><circle cx="155.7" cy="281.1" r="1.55"/><circle cx="160.7" cy="271.7" r="1.55"/><circle cx="129.6" cy="271.1" r="1.55"/><circle cx="135.7" cy="266.6" r="1.55"/><circle cx="159.5" cy="273.6" r="1.55"/><circle cx="119.1" cy="266.6" r="1.55"/><circle cx="142.1" cy="269.6" r="1.55"/><circle cx="142.5" cy="273.0" r="1.55"/><circle cx="149.6" cy="273.7" r="1.55"/><circle cx="137.9" cy="272.0" r="1.55"/><circle cx="153.6" cy="271.4" r="1.55"/><circle cx="189.8" cy="266.6" r="1.55"/><circle cx="154.3" cy="267.0" r="1.55"/><circle cx="146.4" cy="280.3" r="1.55"/><circle cx="161.7" cy="274.9" r="1.55"/><circle cx="158.8" cy="274.0" r="1.55"/><circle cx="121.3" cy="268.0" r="1.55"/><circle cx="190.4" cy="266.6" r="1.55"/><circle cx="151.4" cy="278.5" r="1.55"/><circle cx="131.3" cy="270.1" r="1.55"/><circle cx="106.3" cy="266.6" r="1.55"/><circle cx="166.6" cy="270.8" r="1.55"/><circle cx="164.8" cy="274.0" r="1.55"/><circle cx="191.8" cy="266.6" r="1.55"/><circle cx="129.8" cy="270.8" r="1.55"/><circle cx="175.9" cy="270.6" r="1.55"/><circle cx="169.6" cy="268.0" r="1.55"/><circle cx="132.7" cy="271.1" r="1.55"/><circle cx="178.2" cy="267.1" r="1.55"/><circle cx="145.1" cy="269.6" r="1.55"/><circle cx="133.0" cy="268.0" r="1.55"/><circle cx="161.9" cy="273.0" r="1.55"/><circle cx="128.6" cy="272.5" r="1.55"/><circle cx="152.6" cy="271.6" r="1.55"/><circle cx="151.9" cy="273.3" r="1.55"/><circle cx="162.1" cy="279.0" r="1.55"/><circle cx="156.0" cy="281.0" r="1.55"/><circle cx="158.8" cy="274.0" r="1.55"/><circle cx="117.4" cy="267.3" r="1.55"/><circle cx="147.9" cy="267.3" r="1.55"/><circle cx="149.6" cy="277.1" r="1.55"/><circle cx="155.8" cy="283.2" r="1.55"/><circle cx="144.9" cy="271.0" r="1.55"/><circle cx="182.7" cy="267.5" r="1.55"/><circle cx="146.7" cy="271.1" r="1.55"/><circle cx="158.6" cy="270.5" r="1.55"/><circle cx="165.0" cy="274.5" r="1.55"/><circle cx="157.2" cy="276.7" r="1.55"/><circle cx="135.6" cy="272.5" r="1.55"/><circle cx="146.3" cy="268.9" r="1.55"/><circle cx="157.0" cy="268.3" r="1.55"/><circle cx="140.6" cy="272.3" r="1.55"/><circle cx="164.3" cy="270.8" r="1.55"/><circle cx="184.6" cy="266.7" r="1.55"/><circle cx="156.1" cy="269.4" r="1.55"/><circle cx="155.9" cy="278.1" r="1.55"/><circle cx="129.8" cy="271.0" r="1.55"/><circle cx="149.4" cy="267.6" r="1.55"/><circle cx="145.2" cy="272.5" r="1.55"/><circle cx="163.8" cy="266.8" r="1.55"/><circle cx="142.3" cy="276.0" r="1.55"/><circle cx="147.6" cy="276.0" r="1.55"/><circle cx="146.6" cy="269.3" r="1.55"/><circle cx="168.2" cy="274.4" r="1.55"/><circle cx="136.1" cy="272.2" r="1.55"/><circle cx="141.5" cy="268.8" r="1.55"/><circle cx="133.0" cy="268.9" r="1.55"/><circle cx="163.7" cy="267.7" r="1.55"/><circle cx="137.2" cy="268.9" r="1.55"/><circle cx="154.4" cy="267.7" r="1.55"/><circle cx="166.1" cy="275.0" r="1.55"/><circle cx="130.6" cy="270.3" r="1.55"/><circle cx="157.2" cy="268.9" r="1.55"/><circle cx="157.3" cy="270.4" r="1.55"/><circle cx="147.0" cy="278.4" r="1.55"/><circle cx="169.3" cy="271.3" r="1.55"/><circle cx="100.8" cy="266.6" r="1.55"/><circle cx="158.1" cy="271.0" r="1.55"/><circle cx="164.0" cy="266.6" r="1.55"/><circle cx="175.8" cy="267.2" r="1.55"/><circle cx="167.9" cy="268.6" r="1.55"/><circle cx="166.3" cy="276.1" r="1.55"/><circle cx="143.6" cy="267.3" r="1.55"/><circle cx="159.2" cy="275.1" r="1.55"/><circle cx="150.3" cy="271.3" r="1.55"/><circle cx="156.1" cy="269.0" r="1.55"/><circle cx="161.3" cy="269.2" r="1.55"/><circle cx="147.6" cy="270.3" r="1.55"/><circle cx="144.3" cy="270.6" r="1.55"/><circle cx="140.3" cy="269.2" r="1.55"/><circle cx="152.7" cy="284.3" r="1.55"/><circle cx="153.4" cy="271.6" r="1.55"/><circle cx="134.0" cy="269.7" r="1.55"/><circle cx="127.3" cy="270.0" r="1.55"/><circle cx="155.0" cy="277.4" r="1.55"/><circle cx="155.7" cy="276.0" r="1.55"/><circle cx="132.6" cy="267.3" r="1.55"/><circle cx="146.1" cy="278.4" r="1.55"/><circle cx="149.2" cy="280.1" r="1.55"/><circle cx="174.4" cy="267.3" r="1.55"/><circle cx="180.3" cy="268.2" r="1.55"/><circle cx="142.1" cy="274.4" r="1.55"/><circle cx="184.3" cy="266.6" r="1.55"/><circle cx="159.8" cy="271.7" r="1.55"/><circle cx="167.2" cy="276.0" r="1.55"/><circle cx="180.9" cy="269.5" r="1.55"/><circle cx="131.7" cy="268.1" r="1.55"/><circle cx="145.9" cy="271.2" r="1.55"/><circle cx="158.5" cy="269.2" r="1.55"/><circle cx="146.5" cy="270.1" r="1.55"/><circle cx="147.6" cy="271.8" r="1.55"/><circle cx="123.2" cy="267.0" r="1.55"/><circle cx="128.2" cy="267.6" r="1.55"/><circle cx="141.8" cy="272.3" r="1.55"/><circle cx="135.0" cy="271.7" r="1.55"/><circle cx="148.4" cy="273.7" r="1.55"/><circle cx="192.8" cy="266.6" r="1.55"/><circle cx="141.4" cy="272.6" r="1.55"/><circle cx="134.5" cy="266.6" r="1.55"/><circle cx="148.0" cy="274.0" r="1.55"/><circle cx="127.4" cy="270.2" r="1.55"/><circle cx="132.2" cy="268.1" r="1.55"/><circle cx="158.1" cy="275.6" r="1.55"/><circle cx="159.4" cy="267.4" r="1.55"/><circle cx="166.7" cy="267.3" r="1.55"/><circle cx="157.9" cy="269.5" r="1.55"/><circle cx="147.1" cy="279.8" r="1.55"/><circle cx="162.3" cy="275.0" r="1.55"/><circle cx="137.5" cy="267.1" r="1.55"/><circle cx="166.1" cy="269.7" r="1.55"/><circle cx="115.1" cy="266.6" r="1.55"/><circle cx="186.3" cy="267.6" r="1.55"/><circle cx="142.8" cy="271.8" r="1.55"/><circle cx="160.5" cy="274.7" r="1.55"/><circle cx="152.7" cy="276.2" r="1.55"/><circle cx="164.6" cy="267.2" r="1.55"/><circle cx="130.2" cy="270.1" r="1.55"/><circle cx="156.6" cy="276.7" r="1.55"/><circle cx="160.8" cy="267.1" r="1.55"/><circle cx="161.1" cy="277.0" r="1.55"/><circle cx="129.9" cy="271.7" r="1.55"/><circle cx="175.2" cy="269.3" r="1.55"/><circle cx="151.6" cy="275.5" r="1.55"/><circle cx="176.0" cy="269.8" r="1.55"/><circle cx="157.7" cy="270.2" r="1.55"/><circle cx="139.5" cy="277.2" r="1.55"/><circle cx="138.4" cy="276.3" r="1.55"/><circle cx="150.0" cy="272.5" r="1.55"/><circle cx="117.2" cy="267.1" r="1.55"/><circle cx="157.6" cy="278.6" r="1.55"/><circle cx="145.6" cy="270.5" r="1.55"/><circle cx="163.4" cy="270.6" r="1.55"/><circle cx="138.7" cy="275.5" r="1.55"/><circle cx="146.5" cy="273.6" r="1.55"/><circle cx="127.3" cy="272.2" r="1.55"/><circle cx="137.6" cy="269.7" r="1.55"/><circle cx="150.4" cy="274.8" r="1.55"/><circle cx="145.5" cy="274.5" r="1.55"/></g>
<g fill="#f47a68" fill-opacity="0.3"><circle cx="165.8" cy="226.1" r="1.6"/><circle cx="191.4" cy="255.3" r="1.6"/><circle cx="170.5" cy="265.2" r="1.6"/><circle cx="177.1" cy="261.8" r="1.6"/><circle cx="158.8" cy="246.3" r="1.6"/><circle cx="180.9" cy="265.9" r="1.6"/><circle cx="190.6" cy="252.9" r="1.6"/><circle cx="198.3" cy="262.3" r="1.6"/><circle cx="178.1" cy="255.7" r="1.6"/><circle cx="165.2" cy="255.7" r="1.6"/><circle cx="181.3" cy="258.6" r="1.6"/><circle cx="163.9" cy="263.5" r="1.6"/><circle cx="164.0" cy="258.9" r="1.6"/><circle cx="164.0" cy="262.2" r="1.6"/><circle cx="187.9" cy="252.6" r="1.6"/><circle cx="163.5" cy="254.6" r="1.6"/><circle cx="173.4" cy="261.6" r="1.6"/><circle cx="161.0" cy="265.4" r="1.6"/><circle cx="194.3" cy="259.6" r="1.6"/><circle cx="178.0" cy="253.7" r="1.6"/><circle cx="185.8" cy="264.1" r="1.6"/><circle cx="169.2" cy="258.4" r="1.6"/><circle cx="178.5" cy="264.1" r="1.6"/><circle cx="159.3" cy="253.3" r="1.6"/><circle cx="163.9" cy="263.0" r="1.6"/><circle cx="202.7" cy="265.0" r="1.6"/><circle cx="181.4" cy="254.4" r="1.6"/><circle cx="175.3" cy="260.6" r="1.6"/><circle cx="160.1" cy="265.6" r="1.6"/><circle cx="173.7" cy="260.2" r="1.6"/><circle cx="186.1" cy="251.9" r="1.6"/><circle cx="169.6" cy="256.3" r="1.6"/><circle cx="176.6" cy="201.9" r="1.6"/><circle cx="181.2" cy="257.8" r="1.6"/><circle cx="161.9" cy="262.1" r="1.6"/><circle cx="160.9" cy="265.7" r="1.6"/><circle cx="165.7" cy="223.4" r="1.6"/><circle cx="180.1" cy="264.4" r="1.6"/><circle cx="172.9" cy="261.6" r="1.6"/><circle cx="191.1" cy="233.2" r="1.6"/><circle cx="166.7" cy="264.1" r="1.6"/><circle cx="160.3" cy="255.8" r="1.6"/><circle cx="156.3" cy="265.9" r="1.6"/><circle cx="160.6" cy="256.4" r="1.6"/><circle cx="189.3" cy="254.2" r="1.6"/><circle cx="188.6" cy="266.2" r="1.6"/><circle cx="201.7" cy="255.7" r="1.6"/><circle cx="170.9" cy="265.3" r="1.6"/><circle cx="187.5" cy="264.6" r="1.6"/><circle cx="165.6" cy="245.8" r="1.6"/><circle cx="182.7" cy="265.9" r="1.6"/><circle cx="193.0" cy="246.7" r="1.6"/><circle cx="163.1" cy="261.9" r="1.6"/><circle cx="170.3" cy="266.4" r="1.6"/><circle cx="203.0" cy="265.2" r="1.6"/><circle cx="180.1" cy="234.1" r="1.6"/><circle cx="187.3" cy="249.2" r="1.6"/><circle cx="197.6" cy="264.3" r="1.6"/><circle cx="201.3" cy="252.6" r="1.6"/><circle cx="170.3" cy="246.1" r="1.6"/><circle cx="171.1" cy="255.9" r="1.6"/><circle cx="180.3" cy="232.4" r="1.6"/><circle cx="167.8" cy="251.0" r="1.6"/><circle cx="163.5" cy="226.1" r="1.6"/><circle cx="173.6" cy="258.5" r="1.6"/><circle cx="181.2" cy="249.4" r="1.6"/><circle cx="170.2" cy="253.4" r="1.6"/><circle cx="159.0" cy="264.8" r="1.6"/><circle cx="178.4" cy="263.2" r="1.6"/><circle cx="165.1" cy="259.4" r="1.6"/><circle cx="166.2" cy="263.6" r="1.6"/><circle cx="168.3" cy="220.7" r="1.6"/><circle cx="173.0" cy="256.0" r="1.6"/><circle cx="178.3" cy="226.3" r="1.6"/><circle cx="163.2" cy="242.9" r="1.6"/><circle cx="195.1" cy="246.3" r="1.6"/><circle cx="209.4" cy="258.0" r="1.6"/><circle cx="161.0" cy="263.6" r="1.6"/><circle cx="176.4" cy="265.7" r="1.6"/><circle cx="162.3" cy="254.5" r="1.6"/><circle cx="175.4" cy="245.4" r="1.6"/><circle cx="171.3" cy="252.1" r="1.6"/><circle cx="173.7" cy="260.4" r="1.6"/><circle cx="181.4" cy="254.2" r="1.6"/><circle cx="171.7" cy="261.7" r="1.6"/><circle cx="176.5" cy="263.7" r="1.6"/><circle cx="163.0" cy="266.3" r="1.6"/><circle cx="201.5" cy="265.9" r="1.6"/><circle cx="187.1" cy="262.0" r="1.6"/><circle cx="189.1" cy="259.1" r="1.6"/><circle cx="166.2" cy="250.0" r="1.6"/><circle cx="209.0" cy="250.0" r="1.6"/><circle cx="168.0" cy="254.4" r="1.6"/><circle cx="166.4" cy="261.7" r="1.6"/><circle cx="204.6" cy="261.6" r="1.6"/><circle cx="200.6" cy="236.3" r="1.6"/><circle cx="183.5" cy="248.4" r="1.6"/><circle cx="169.5" cy="251.2" r="1.6"/><circle cx="186.5" cy="255.7" r="1.6"/><circle cx="194.0" cy="261.3" r="1.6"/><circle cx="179.5" cy="264.8" r="1.6"/><circle cx="180.1" cy="260.4" r="1.6"/><circle cx="168.8" cy="265.8" r="1.6"/><circle cx="167.0" cy="256.6" r="1.6"/><circle cx="190.0" cy="236.8" r="1.6"/><circle cx="176.6" cy="246.1" r="1.6"/><circle cx="165.8" cy="239.9" r="1.6"/><circle cx="169.4" cy="259.4" r="1.6"/><circle cx="163.9" cy="261.3" r="1.6"/><circle cx="164.5" cy="265.9" r="1.6"/><circle cx="162.6" cy="264.8" r="1.6"/><circle cx="177.2" cy="260.0" r="1.6"/><circle cx="186.0" cy="255.4" r="1.6"/><circle cx="164.0" cy="240.1" r="1.6"/><circle cx="175.6" cy="245.3" r="1.6"/><circle cx="177.2" cy="265.8" r="1.6"/><circle cx="173.7" cy="236.6" r="1.6"/><circle cx="170.4" cy="244.1" r="1.6"/><circle cx="186.2" cy="225.3" r="1.6"/><circle cx="182.0" cy="265.4" r="1.6"/><circle cx="180.5" cy="257.7" r="1.6"/><circle cx="164.3" cy="255.3" r="1.6"/><circle cx="171.2" cy="264.3" r="1.6"/><circle cx="167.6" cy="264.1" r="1.6"/><circle cx="182.6" cy="262.9" r="1.6"/><circle cx="162.1" cy="250.6" r="1.6"/><circle cx="169.3" cy="239.1" r="1.6"/><circle cx="162.4" cy="264.6" r="1.6"/><circle cx="181.6" cy="264.4" r="1.6"/><circle cx="168.0" cy="255.4" r="1.6"/><circle cx="170.5" cy="253.1" r="1.6"/><circle cx="185.5" cy="264.5" r="1.6"/><circle cx="167.3" cy="262.9" r="1.6"/><circle cx="166.4" cy="264.2" r="1.6"/><circle cx="180.0" cy="260.8" r="1.6"/><circle cx="170.1" cy="258.6" r="1.6"/><circle cx="187.3" cy="262.4" r="1.6"/><circle cx="205.2" cy="261.4" r="1.6"/><circle cx="182.2" cy="264.7" r="1.6"/><circle cx="164.7" cy="263.4" r="1.6"/><circle cx="177.3" cy="265.6" r="1.6"/><circle cx="158.1" cy="263.7" r="1.6"/><circle cx="173.3" cy="239.0" r="1.6"/><circle cx="184.5" cy="255.2" r="1.6"/><circle cx="172.4" cy="258.5" r="1.6"/><circle cx="186.6" cy="262.8" r="1.6"/><circle cx="197.6" cy="261.1" r="1.6"/><circle cx="189.9" cy="245.3" r="1.6"/><circle cx="172.2" cy="242.6" r="1.6"/><circle cx="176.9" cy="241.5" r="1.6"/><circle cx="185.3" cy="259.3" r="1.6"/><circle cx="183.3" cy="266.2" r="1.6"/><circle cx="158.8" cy="258.0" r="1.6"/><circle cx="161.4" cy="259.3" r="1.6"/><circle cx="173.6" cy="240.3" r="1.6"/><circle cx="181.2" cy="245.9" r="1.6"/><circle cx="177.7" cy="226.1" r="1.6"/><circle cx="175.1" cy="263.9" r="1.6"/><circle cx="165.9" cy="265.4" r="1.6"/><circle cx="164.0" cy="263.8" r="1.6"/><circle cx="187.3" cy="261.1" r="1.6"/><circle cx="181.5" cy="244.3" r="1.6"/><circle cx="198.6" cy="264.9" r="1.6"/><circle cx="169.5" cy="259.8" r="1.6"/><circle cx="193.2" cy="255.6" r="1.6"/><circle cx="155.0" cy="260.8" r="1.6"/><circle cx="174.6" cy="265.0" r="1.6"/><circle cx="182.2" cy="232.8" r="1.6"/><circle cx="159.1" cy="265.2" r="1.6"/><circle cx="183.7" cy="231.7" r="1.6"/><circle cx="190.3" cy="229.2" r="1.6"/><circle cx="174.4" cy="260.1" r="1.6"/><circle cx="167.7" cy="256.1" r="1.6"/><circle cx="172.9" cy="261.9" r="1.6"/><circle cx="199.1" cy="265.2" r="1.6"/><circle cx="200.5" cy="244.5" r="1.6"/><circle cx="181.5" cy="242.6" r="1.6"/><circle cx="174.1" cy="216.9" r="1.6"/><circle cx="189.0" cy="232.6" r="1.6"/><circle cx="187.9" cy="239.9" r="1.6"/><circle cx="188.3" cy="210.3" r="1.6"/><circle cx="164.1" cy="242.8" r="1.6"/><circle cx="173.2" cy="244.1" r="1.6"/><circle cx="197.9" cy="233.2" r="1.6"/><circle cx="186.6" cy="219.5" r="1.6"/><circle cx="188.8" cy="235.6" r="1.6"/><circle cx="171.1" cy="244.8" r="1.6"/><circle cx="169.4" cy="241.9" r="1.6"/><circle cx="193.4" cy="237.5" r="1.6"/><circle cx="178.1" cy="213.7" r="1.6"/><circle cx="199.9" cy="245.5" r="1.6"/><circle cx="185.6" cy="227.3" r="1.6"/><circle cx="170.4" cy="237.5" r="1.6"/><circle cx="192.9" cy="238.7" r="1.6"/><circle cx="184.6" cy="224.5" r="1.6"/><circle cx="164.2" cy="234.6" r="1.6"/><circle cx="195.9" cy="226.6" r="1.6"/><circle cx="179.9" cy="226.0" r="1.6"/><circle cx="188.8" cy="207.4" r="1.6"/><circle cx="182.3" cy="230.8" r="1.6"/><circle cx="181.4" cy="217.1" r="1.6"/><circle cx="187.2" cy="205.9" r="1.6"/><circle cx="185.2" cy="207.5" r="1.6"/><circle cx="181.3" cy="223.4" r="1.6"/><circle cx="197.5" cy="241.2" r="1.6"/><circle cx="174.9" cy="226.2" r="1.6"/><circle cx="167.7" cy="243.4" r="1.6"/><circle cx="182.9" cy="213.0" r="1.6"/><circle cx="200.3" cy="245.4" r="1.6"/><circle cx="165.1" cy="235.7" r="1.6"/><circle cx="182.3" cy="193.0" r="1.6"/><circle cx="183.8" cy="202.9" r="1.6"/></g>
<g fill="#000" fill-opacity="0.34"><circle cx="82.3" cy="237.8" r="1.6"/><circle cx="115.5" cy="199.9" r="1.6"/><circle cx="127.1" cy="226.9" r="1.6"/><circle cx="96.0" cy="238.7" r="1.6"/><circle cx="94.9" cy="234.2" r="1.6"/><circle cx="135.3" cy="233.6" r="1.6"/><circle cx="87.4" cy="200.0" r="1.6"/><circle cx="109.7" cy="243.9" r="1.6"/><circle cx="139.2" cy="218.0" r="1.6"/><circle cx="97.5" cy="182.4" r="1.6"/><circle cx="109.6" cy="202.0" r="1.6"/><circle cx="121.2" cy="208.3" r="1.6"/><circle cx="108.7" cy="238.3" r="1.6"/><circle cx="129.7" cy="229.7" r="1.6"/><circle cx="108.8" cy="194.3" r="1.6"/><circle cx="123.0" cy="194.2" r="1.6"/><circle cx="105.5" cy="201.8" r="1.6"/><circle cx="85.0" cy="239.6" r="1.6"/><circle cx="97.0" cy="228.8" r="1.6"/><circle cx="109.0" cy="233.5" r="1.6"/><circle cx="136.9" cy="233.7" r="1.6"/><circle cx="105.1" cy="177.8" r="1.6"/><circle cx="129.2" cy="213.9" r="1.6"/><circle cx="135.7" cy="221.8" r="1.6"/><circle cx="100.3" cy="170.1" r="1.6"/><circle cx="80.2" cy="176.3" r="1.6"/><circle cx="107.4" cy="225.9" r="1.6"/><circle cx="110.7" cy="223.0" r="1.6"/><circle cx="132.7" cy="215.9" r="1.6"/><circle cx="126.4" cy="237.2" r="1.6"/><circle cx="108.6" cy="241.9" r="1.6"/><circle cx="126.2" cy="243.8" r="1.6"/><circle cx="106.0" cy="237.7" r="1.6"/><circle cx="132.3" cy="210.3" r="1.6"/><circle cx="99.3" cy="178.6" r="1.6"/><circle cx="91.8" cy="193.5" r="1.6"/><circle cx="96.7" cy="216.2" r="1.6"/><circle cx="118.7" cy="229.3" r="1.6"/><circle cx="93.2" cy="204.4" r="1.6"/><circle cx="129.1" cy="202.1" r="1.6"/><circle cx="101.4" cy="230.3" r="1.6"/><circle cx="84.4" cy="233.9" r="1.6"/><circle cx="80.1" cy="230.9" r="1.6"/><circle cx="125.3" cy="241.5" r="1.6"/><circle cx="120.8" cy="232.9" r="1.6"/><circle cx="95.3" cy="213.1" r="1.6"/><circle cx="108.4" cy="218.6" r="1.6"/><circle cx="87.5" cy="206.4" r="1.6"/><circle cx="135.0" cy="244.6" r="1.6"/><circle cx="84.7" cy="204.5" r="1.6"/><circle cx="101.1" cy="230.7" r="1.6"/><circle cx="139.7" cy="238.3" r="1.6"/><circle cx="136.0" cy="226.6" r="1.6"/><circle cx="80.5" cy="229.8" r="1.6"/><circle cx="84.3" cy="208.6" r="1.6"/><circle cx="135.4" cy="243.9" r="1.6"/><circle cx="80.3" cy="243.8" r="1.6"/><circle cx="98.2" cy="236.4" r="1.6"/><circle cx="138.6" cy="223.2" r="1.6"/><circle cx="137.0" cy="228.7" r="1.6"/><circle cx="130.6" cy="218.2" r="1.6"/><circle cx="99.4" cy="198.7" r="1.6"/><circle cx="99.2" cy="214.7" r="1.6"/><circle cx="130.7" cy="238.6" r="1.6"/><circle cx="91.6" cy="180.6" r="1.6"/><circle cx="110.1" cy="236.9" r="1.6"/><circle cx="101.1" cy="228.7" r="1.6"/><circle cx="134.7" cy="231.0" r="1.6"/><circle cx="136.0" cy="231.8" r="1.6"/><circle cx="137.0" cy="216.3" r="1.6"/><circle cx="116.2" cy="199.8" r="1.6"/><circle cx="99.1" cy="239.4" r="1.6"/><circle cx="118.4" cy="243.2" r="1.6"/><circle cx="110.3" cy="206.8" r="1.6"/><circle cx="127.6" cy="205.6" r="1.6"/><circle cx="93.6" cy="179.3" r="1.6"/><circle cx="112.0" cy="207.9" r="1.6"/><circle cx="110.0" cy="188.3" r="1.6"/><circle cx="99.9" cy="244.5" r="1.6"/><circle cx="131.0" cy="220.8" r="1.6"/><circle cx="124.8" cy="241.1" r="1.6"/><circle cx="93.8" cy="201.1" r="1.6"/><circle cx="126.5" cy="217.0" r="1.6"/><circle cx="117.9" cy="210.3" r="1.6"/><circle cx="89.7" cy="215.8" r="1.6"/><circle cx="101.8" cy="191.3" r="1.6"/><circle cx="113.3" cy="201.7" r="1.6"/><circle cx="123.5" cy="200.1" r="1.6"/><circle cx="132.5" cy="243.8" r="1.6"/><circle cx="122.0" cy="229.3" r="1.6"/><circle cx="86.3" cy="213.5" r="1.6"/><circle cx="131.8" cy="215.4" r="1.6"/><circle cx="86.6" cy="234.1" r="1.6"/><circle cx="123.5" cy="196.2" r="1.6"/><circle cx="84.4" cy="240.9" r="1.6"/><circle cx="123.6" cy="217.2" r="1.6"/><circle cx="130.0" cy="239.2" r="1.6"/><circle cx="111.9" cy="194.2" r="1.6"/><circle cx="105.1" cy="220.5" r="1.6"/><circle cx="80.8" cy="185.6" r="1.6"/><circle cx="109.1" cy="223.8" r="1.6"/><circle cx="121.3" cy="200.7" r="1.6"/><circle cx="133.1" cy="235.0" r="1.6"/><circle cx="118.6" cy="227.2" r="1.6"/><circle cx="131.6" cy="215.3" r="1.6"/><circle cx="121.7" cy="203.0" r="1.6"/><circle cx="112.8" cy="212.2" r="1.6"/><circle cx="90.8" cy="193.8" r="1.6"/><circle cx="99.2" cy="206.6" r="1.6"/><circle cx="77.6" cy="220.0" r="1.6"/><circle cx="119.0" cy="212.8" r="1.6"/><circle cx="116.0" cy="233.8" r="1.6"/><circle cx="121.2" cy="212.7" r="1.6"/><circle cx="117.5" cy="227.3" r="1.6"/><circle cx="90.0" cy="207.0" r="1.6"/><circle cx="82.4" cy="174.5" r="1.6"/><circle cx="103.3" cy="228.6" r="1.6"/><circle cx="109.3" cy="240.6" r="1.6"/><circle cx="134.0" cy="209.7" r="1.6"/><circle cx="130.7" cy="224.5" r="1.6"/><circle cx="137.1" cy="236.8" r="1.6"/><circle cx="110.2" cy="237.1" r="1.6"/><circle cx="107.7" cy="178.7" r="1.6"/><circle cx="121.7" cy="219.9" r="1.6"/><circle cx="114.4" cy="208.8" r="1.6"/><circle cx="118.7" cy="223.5" r="1.6"/><circle cx="112.9" cy="241.0" r="1.6"/><circle cx="108.9" cy="201.3" r="1.6"/><circle cx="94.9" cy="229.0" r="1.6"/><circle cx="129.7" cy="241.3" r="1.6"/><circle cx="93.0" cy="183.7" r="1.6"/><circle cx="87.8" cy="227.3" r="1.6"/><circle cx="135.5" cy="233.5" r="1.6"/><circle cx="130.4" cy="215.4" r="1.6"/><circle cx="79.6" cy="232.9" r="1.6"/><circle cx="135.5" cy="236.6" r="1.6"/><circle cx="106.5" cy="176.4" r="1.6"/><circle cx="86.9" cy="169.1" r="1.6"/><circle cx="120.8" cy="214.3" r="1.6"/><circle cx="77.5" cy="200.7" r="1.6"/><circle cx="130.6" cy="232.0" r="1.6"/><circle cx="84.1" cy="238.5" r="1.6"/><circle cx="84.5" cy="218.6" r="1.6"/><circle cx="130.4" cy="243.5" r="1.6"/><circle cx="106.6" cy="221.1" r="1.6"/><circle cx="106.1" cy="211.1" r="1.6"/><circle cx="114.3" cy="236.0" r="1.6"/><circle cx="129.1" cy="226.0" r="1.6"/><circle cx="103.2" cy="169.8" r="1.6"/><circle cx="124.2" cy="239.6" r="1.6"/><circle cx="138.6" cy="229.9" r="1.6"/><circle cx="102.5" cy="231.7" r="1.6"/><circle cx="83.7" cy="231.3" r="1.6"/><circle cx="99.2" cy="224.1" r="1.6"/><circle cx="139.7" cy="230.1" r="1.6"/><circle cx="92.8" cy="222.1" r="1.6"/><circle cx="108.2" cy="241.5" r="1.6"/><circle cx="110.4" cy="215.2" r="1.6"/><circle cx="135.4" cy="232.8" r="1.6"/><circle cx="123.2" cy="213.2" r="1.6"/><circle cx="91.6" cy="206.1" r="1.6"/><circle cx="109.2" cy="237.4" r="1.6"/><circle cx="79.9" cy="166.8" r="1.6"/><circle cx="85.5" cy="177.3" r="1.6"/><circle cx="104.1" cy="241.3" r="1.6"/><circle cx="138.4" cy="227.0" r="1.6"/><circle cx="106.5" cy="185.2" r="1.6"/><circle cx="124.3" cy="228.2" r="1.6"/><circle cx="124.8" cy="211.4" r="1.6"/><circle cx="91.4" cy="193.1" r="1.6"/><circle cx="135.8" cy="223.8" r="1.6"/><circle cx="129.4" cy="202.9" r="1.6"/><circle cx="129.2" cy="228.2" r="1.6"/><circle cx="115.9" cy="200.8" r="1.6"/><circle cx="120.0" cy="242.7" r="1.6"/><circle cx="83.1" cy="229.3" r="1.6"/><circle cx="130.4" cy="238.5" r="1.6"/><circle cx="101.2" cy="183.3" r="1.6"/><circle cx="88.3" cy="228.8" r="1.6"/><circle cx="97.1" cy="243.0" r="1.6"/><circle cx="126.2" cy="233.4" r="1.6"/><circle cx="106.7" cy="226.0" r="1.6"/><circle cx="83.5" cy="181.2" r="1.6"/><circle cx="88.7" cy="228.4" r="1.6"/><circle cx="125.0" cy="231.7" r="1.6"/><circle cx="112.7" cy="228.3" r="1.6"/><circle cx="115.8" cy="230.1" r="1.6"/><circle cx="109.6" cy="244.5" r="1.6"/><circle cx="79.1" cy="211.2" r="1.6"/><circle cx="130.4" cy="203.8" r="1.6"/><circle cx="129.6" cy="225.9" r="1.6"/><circle cx="120.7" cy="211.6" r="1.6"/><circle cx="125.5" cy="197.4" r="1.6"/><circle cx="102.7" cy="216.1" r="1.6"/><circle cx="128.2" cy="238.3" r="1.6"/><circle cx="85.9" cy="176.1" r="1.6"/><circle cx="79.2" cy="176.6" r="1.6"/><circle cx="135.7" cy="241.2" r="1.6"/><circle cx="126.9" cy="235.0" r="1.6"/><circle cx="98.1" cy="168.0" r="1.6"/><circle cx="134.2" cy="219.2" r="1.6"/><circle cx="108.4" cy="174.4" r="1.6"/><circle cx="116.4" cy="185.8" r="1.6"/><circle cx="125.0" cy="243.7" r="1.6"/><circle cx="129.3" cy="210.7" r="1.6"/><circle cx="133.9" cy="224.8" r="1.6"/><circle cx="81.2" cy="179.1" r="1.6"/><circle cx="107.6" cy="235.2" r="1.6"/><circle cx="93.9" cy="234.1" r="1.6"/><circle cx="130.3" cy="243.2" r="1.6"/><circle cx="135.9" cy="244.5" r="1.6"/><circle cx="125.1" cy="237.0" r="1.6"/><circle cx="113.1" cy="237.2" r="1.6"/><circle cx="134.9" cy="241.3" r="1.6"/><circle cx="110.3" cy="207.6" r="1.6"/><circle cx="109.5" cy="234.4" r="1.6"/><circle cx="99.3" cy="172.7" r="1.6"/><circle cx="88.1" cy="244.2" r="1.6"/><circle cx="135.4" cy="215.5" r="1.6"/><circle cx="123.0" cy="224.7" r="1.6"/><circle cx="137.7" cy="234.5" r="1.6"/><circle cx="78.9" cy="217.0" r="1.6"/><circle cx="114.0" cy="214.6" r="1.6"/><circle cx="134.3" cy="243.5" r="1.6"/><circle cx="132.4" cy="227.8" r="1.6"/><circle cx="125.6" cy="228.9" r="1.6"/><circle cx="99.7" cy="224.7" r="1.6"/><circle cx="98.3" cy="215.6" r="1.6"/><circle cx="118.0" cy="198.5" r="1.6"/><circle cx="91.6" cy="215.8" r="1.6"/><circle cx="114.1" cy="195.2" r="1.6"/><circle cx="124.4" cy="217.4" r="1.6"/><circle cx="122.4" cy="225.6" r="1.6"/><circle cx="129.8" cy="211.2" r="1.6"/><circle cx="116.1" cy="240.6" r="1.6"/><circle cx="107.8" cy="231.0" r="1.6"/><circle cx="92.8" cy="227.6" r="1.6"/><circle cx="130.5" cy="233.8" r="1.6"/><circle cx="108.0" cy="223.0" r="1.6"/><circle cx="92.3" cy="205.8" r="1.6"/><circle cx="107.2" cy="177.2" r="1.6"/><circle cx="119.2" cy="189.7" r="1.6"/><circle cx="132.7" cy="229.2" r="1.6"/><circle cx="79.2" cy="233.4" r="1.6"/><circle cx="87.6" cy="191.2" r="1.6"/><circle cx="89.0" cy="199.4" r="1.6"/><circle cx="101.4" cy="213.4" r="1.6"/><circle cx="127.0" cy="234.7" r="1.6"/><circle cx="91.4" cy="228.2" r="1.6"/><circle cx="137.3" cy="229.8" r="1.6"/><circle cx="99.1" cy="237.7" r="1.6"/><circle cx="83.7" cy="224.8" r="1.6"/><circle cx="118.9" cy="223.3" r="1.6"/><circle cx="130.1" cy="203.6" r="1.6"/><circle cx="116.4" cy="228.7" r="1.6"/><circle cx="129.1" cy="242.7" r="1.6"/><circle cx="127.2" cy="205.9" r="1.6"/><circle cx="128.1" cy="242.3" r="1.6"/><circle cx="117.0" cy="199.5" r="1.6"/><circle cx="106.9" cy="185.1" r="1.6"/><circle cx="91.0" cy="209.4" r="1.6"/><circle cx="115.7" cy="199.1" r="1.6"/><circle cx="106.9" cy="231.2" r="1.6"/><circle cx="124.5" cy="241.5" r="1.6"/><circle cx="104.2" cy="214.7" r="1.6"/><circle cx="128.7" cy="229.9" r="1.6"/><circle cx="115.9" cy="207.1" r="1.6"/><circle cx="122.4" cy="195.0" r="1.6"/><circle cx="110.1" cy="210.3" r="1.6"/><circle cx="79.5" cy="234.8" r="1.6"/><circle cx="96.6" cy="233.5" r="1.6"/><circle cx="113.4" cy="236.1" r="1.6"/><circle cx="116.4" cy="197.1" r="1.6"/><circle cx="84.1" cy="231.4" r="1.6"/><circle cx="112.1" cy="243.3" r="1.6"/><circle cx="89.4" cy="205.5" r="1.6"/><circle cx="106.2" cy="178.9" r="1.6"/><circle cx="116.4" cy="202.0" r="1.6"/><circle cx="102.9" cy="221.6" r="1.6"/><circle cx="132.4" cy="223.9" r="1.6"/><circle cx="135.7" cy="238.7" r="1.6"/><circle cx="87.3" cy="196.6" r="1.6"/><circle cx="88.1" cy="241.6" r="1.6"/><circle cx="105.6" cy="197.6" r="1.6"/><circle cx="103.8" cy="189.9" r="1.6"/><circle cx="109.6" cy="230.2" r="1.6"/><circle cx="114.3" cy="210.9" r="1.6"/><circle cx="89.9" cy="204.1" r="1.6"/><circle cx="91.2" cy="169.5" r="1.6"/><circle cx="114.1" cy="235.9" r="1.6"/><circle cx="81.6" cy="233.3" r="1.6"/><circle cx="101.1" cy="205.6" r="1.6"/><circle cx="121.8" cy="210.1" r="1.6"/><circle cx="108.7" cy="204.8" r="1.6"/><circle cx="115.4" cy="231.2" r="1.6"/><circle cx="94.6" cy="219.9" r="1.6"/><circle cx="123.2" cy="240.6" r="1.6"/><circle cx="120.2" cy="244.3" r="1.6"/><circle cx="92.2" cy="197.2" r="1.6"/><circle cx="129.9" cy="214.8" r="1.6"/><circle cx="131.0" cy="256.4" r="1.6"/><circle cx="143.6" cy="244.5" r="1.6"/><circle cx="140.5" cy="253.9" r="1.6"/><circle cx="94.4" cy="244.7" r="1.6"/><circle cx="108.5" cy="265.1" r="1.6"/><circle cx="125.8" cy="263.3" r="1.6"/><circle cx="135.5" cy="264.7" r="1.6"/><circle cx="109.3" cy="266.4" r="1.6"/><circle cx="131.4" cy="265.1" r="1.6"/><circle cx="136.3" cy="247.5" r="1.6"/><circle cx="140.7" cy="265.9" r="1.6"/><circle cx="96.5" cy="238.7" r="1.6"/><circle cx="95.3" cy="260.6" r="1.6"/><circle cx="107.7" cy="249.7" r="1.6"/><circle cx="137.6" cy="266.1" r="1.6"/><circle cx="112.8" cy="235.9" r="1.6"/><circle cx="121.2" cy="261.6" r="1.6"/><circle cx="95.0" cy="259.8" r="1.6"/><circle cx="96.9" cy="247.2" r="1.6"/><circle cx="135.1" cy="255.6" r="1.6"/><circle cx="96.2" cy="252.7" r="1.6"/><circle cx="121.5" cy="254.9" r="1.6"/><circle cx="129.1" cy="256.1" r="1.6"/><circle cx="133.8" cy="256.6" r="1.6"/><circle cx="88.1" cy="257.4" r="1.6"/><circle cx="135.4" cy="265.6" r="1.6"/><circle cx="139.6" cy="265.4" r="1.6"/><circle cx="133.5" cy="249.8" r="1.6"/><circle cx="131.8" cy="266.4" r="1.6"/><circle cx="142.8" cy="266.2" r="1.6"/><circle cx="102.8" cy="235.7" r="1.6"/><circle cx="125.9" cy="257.5" r="1.6"/><circle cx="110.5" cy="245.6" r="1.6"/><circle cx="112.6" cy="247.4" r="1.6"/><circle cx="97.4" cy="257.1" r="1.6"/><circle cx="131.8" cy="259.2" r="1.6"/><circle cx="106.9" cy="257.0" r="1.6"/><circle cx="134.8" cy="261.7" r="1.6"/><circle cx="92.7" cy="262.3" r="1.6"/><circle cx="123.8" cy="261.5" r="1.6"/><circle cx="135.6" cy="257.6" r="1.6"/><circle cx="98.5" cy="251.2" r="1.6"/><circle cx="134.4" cy="251.0" r="1.6"/><circle cx="113.3" cy="265.6" r="1.6"/><circle cx="87.9" cy="262.8" r="1.6"/><circle cx="91.0" cy="254.0" r="1.6"/><circle cx="128.5" cy="246.6" r="1.6"/><circle cx="89.9" cy="265.4" r="1.6"/><circle cx="123.1" cy="250.2" r="1.6"/><circle cx="85.5" cy="266.4" r="1.6"/><circle cx="134.9" cy="249.2" r="1.6"/><circle cx="132.5" cy="263.1" r="1.6"/><circle cx="109.1" cy="251.2" r="1.6"/><circle cx="104.4" cy="263.8" r="1.6"/><circle cx="122.3" cy="236.8" r="1.6"/><circle cx="86.6" cy="259.8" r="1.6"/><circle cx="92.2" cy="264.8" r="1.6"/><circle cx="133.9" cy="246.8" r="1.6"/><circle cx="135.4" cy="247.9" r="1.6"/><circle cx="103.5" cy="250.4" r="1.6"/><circle cx="94.0" cy="259.9" r="1.6"/><circle cx="124.5" cy="257.8" r="1.6"/><circle cx="125.8" cy="261.7" r="1.6"/><circle cx="101.7" cy="257.7" r="1.6"/><circle cx="120.8" cy="264.0" r="1.6"/><circle cx="111.2" cy="260.7" r="1.6"/><circle cx="118.4" cy="259.8" r="1.6"/><circle cx="130.2" cy="265.1" r="1.6"/><circle cx="123.1" cy="252.6" r="1.6"/><circle cx="97.7" cy="258.0" r="1.6"/><circle cx="82.9" cy="259.6" r="1.6"/><circle cx="118.5" cy="257.5" r="1.6"/><circle cx="132.8" cy="260.7" r="1.6"/><circle cx="117.1" cy="262.2" r="1.6"/><circle cx="125.6" cy="265.5" r="1.6"/><circle cx="89.9" cy="264.8" r="1.6"/><circle cx="116.8" cy="248.0" r="1.6"/><circle cx="95.6" cy="252.6" r="1.6"/><circle cx="136.8" cy="247.8" r="1.6"/><circle cx="92.9" cy="263.4" r="1.6"/><circle cx="134.5" cy="251.1" r="1.6"/><circle cx="99.6" cy="257.3" r="1.6"/><circle cx="137.4" cy="263.0" r="1.6"/><circle cx="131.6" cy="264.0" r="1.6"/><circle cx="143.7" cy="265.5" r="1.6"/><circle cx="114.5" cy="259.7" r="1.6"/><circle cx="141.8" cy="251.0" r="1.6"/><circle cx="125.0" cy="255.5" r="1.6"/><circle cx="132.5" cy="255.7" r="1.6"/><circle cx="120.4" cy="262.5" r="1.6"/><circle cx="137.0" cy="264.7" r="1.6"/><circle cx="140.4" cy="262.4" r="1.6"/><circle cx="123.5" cy="266.1" r="1.6"/><circle cx="105.9" cy="262.8" r="1.6"/><circle cx="131.8" cy="255.7" r="1.6"/><circle cx="143.4" cy="262.5" r="1.6"/><circle cx="139.3" cy="262.3" r="1.6"/><circle cx="98.4" cy="262.6" r="1.6"/><circle cx="143.7" cy="253.0" r="1.6"/><circle cx="135.3" cy="264.8" r="1.6"/><circle cx="124.8" cy="244.2" r="1.6"/><circle cx="104.8" cy="258.9" r="1.6"/><circle cx="111.9" cy="261.0" r="1.6"/><circle cx="142.1" cy="260.9" r="1.6"/><circle cx="116.2" cy="236.6" r="1.6"/><circle cx="140.4" cy="264.2" r="1.6"/><circle cx="115.8" cy="263.5" r="1.6"/><circle cx="127.1" cy="264.3" r="1.6"/><circle cx="118.9" cy="257.6" r="1.6"/><circle cx="112.4" cy="265.2" r="1.6"/><circle cx="95.7" cy="263.8" r="1.6"/><circle cx="141.8" cy="266.5" r="1.6"/><circle cx="139.6" cy="250.9" r="1.6"/><circle cx="110.0" cy="248.7" r="1.6"/><circle cx="141.2" cy="241.0" r="1.6"/><circle cx="120.4" cy="261.7" r="1.6"/><circle cx="130.2" cy="239.3" r="1.6"/><circle cx="114.3" cy="262.6" r="1.6"/><circle cx="117.6" cy="265.8" r="1.6"/><circle cx="137.7" cy="251.6" r="1.6"/><circle cx="120.7" cy="262.0" r="1.6"/><circle cx="136.4" cy="258.6" r="1.6"/><circle cx="113.3" cy="262.6" r="1.6"/><circle cx="113.3" cy="254.6" r="1.6"/><circle cx="136.5" cy="265.8" r="1.6"/><circle cx="127.5" cy="246.1" r="1.6"/><circle cx="125.4" cy="256.4" r="1.6"/><circle cx="121.0" cy="263.0" r="1.6"/><circle cx="128.5" cy="264.0" r="1.6"/><circle cx="135.7" cy="247.7" r="1.6"/><circle cx="117.0" cy="247.2" r="1.6"/><circle cx="111.1" cy="253.4" r="1.6"/><circle cx="103.8" cy="259.8" r="1.6"/><circle cx="113.0" cy="263.9" r="1.6"/><circle cx="134.4" cy="264.0" r="1.6"/><circle cx="114.1" cy="254.3" r="1.6"/><circle cx="106.7" cy="261.5" r="1.6"/><circle cx="125.7" cy="255.0" r="1.6"/><circle cx="118.3" cy="237.0" r="1.6"/><circle cx="138.8" cy="258.3" r="1.6"/><circle cx="141.7" cy="260.6" r="1.6"/><circle cx="99.4" cy="239.2" r="1.6"/><circle cx="123.9" cy="251.5" r="1.6"/><circle cx="109.4" cy="237.0" r="1.6"/><circle cx="144.0" cy="256.9" r="1.6"/><circle cx="121.2" cy="254.7" r="1.6"/><circle cx="108.7" cy="258.8" r="1.6"/><circle cx="130.1" cy="240.5" r="1.6"/><circle cx="142.6" cy="261.1" r="1.6"/><circle cx="127.6" cy="258.7" r="1.6"/><circle cx="94.6" cy="236.4" r="1.6"/><circle cx="136.9" cy="249.6" r="1.6"/><circle cx="141.1" cy="248.9" r="1.6"/><circle cx="123.3" cy="244.4" r="1.6"/><circle cx="143.6" cy="252.4" r="1.6"/><circle cx="135.1" cy="248.3" r="1.6"/><circle cx="104.6" cy="266.1" r="1.6"/><circle cx="93.9" cy="256.6" r="1.6"/><circle cx="142.7" cy="258.9" r="1.6"/><circle cx="141.1" cy="264.2" r="1.6"/><circle cx="100.1" cy="251.0" r="1.6"/><circle cx="137.9" cy="242.8" r="1.6"/><circle cx="124.3" cy="259.7" r="1.6"/><circle cx="135.5" cy="257.1" r="1.6"/><circle cx="111.4" cy="249.8" r="1.6"/><circle cx="94.6" cy="255.9" r="1.6"/><circle cx="142.3" cy="263.2" r="1.6"/><circle cx="135.3" cy="265.9" r="1.6"/><circle cx="98.6" cy="249.1" r="1.6"/><circle cx="144.0" cy="266.0" r="1.6"/><circle cx="120.1" cy="256.8" r="1.6"/><circle cx="107.1" cy="256.1" r="1.6"/><circle cx="124.5" cy="244.8" r="1.6"/><circle cx="133.7" cy="252.0" r="1.6"/><circle cx="136.4" cy="251.1" r="1.6"/><circle cx="100.0" cy="265.9" r="1.6"/><circle cx="120.0" cy="263.8" r="1.6"/><circle cx="126.8" cy="243.4" r="1.6"/><circle cx="123.1" cy="262.1" r="1.6"/><circle cx="97.9" cy="261.8" r="1.6"/><circle cx="133.7" cy="260.2" r="1.6"/><circle cx="134.2" cy="260.9" r="1.6"/><circle cx="139.2" cy="253.5" r="1.6"/><circle cx="131.0" cy="266.5" r="1.6"/><circle cx="121.9" cy="265.0" r="1.6"/><circle cx="105.5" cy="253.3" r="1.6"/><circle cx="126.0" cy="263.6" r="1.6"/><circle cx="132.3" cy="252.5" r="1.6"/><circle cx="105.9" cy="248.0" r="1.6"/><circle cx="130.0" cy="261.7" r="1.6"/><circle cx="98.4" cy="252.9" r="1.6"/><circle cx="134.9" cy="258.0" r="1.6"/><circle cx="111.9" cy="263.7" r="1.6"/><circle cx="106.3" cy="253.3" r="1.6"/><circle cx="101.5" cy="241.4" r="1.6"/><circle cx="133.1" cy="254.1" r="1.6"/><circle cx="103.8" cy="259.9" r="1.6"/><circle cx="142.2" cy="264.7" r="1.6"/><circle cx="107.6" cy="265.9" r="1.6"/><circle cx="125.2" cy="259.4" r="1.6"/><circle cx="142.5" cy="251.7" r="1.6"/><circle cx="100.4" cy="266.0" r="1.6"/><circle cx="109.2" cy="251.5" r="1.6"/><circle cx="109.3" cy="242.0" r="1.6"/><circle cx="136.9" cy="254.7" r="1.6"/><circle cx="101.6" cy="265.9" r="1.6"/><circle cx="129.5" cy="263.6" r="1.6"/><circle cx="106.6" cy="249.7" r="1.6"/><circle cx="96.3" cy="235.3" r="1.6"/><circle cx="142.0" cy="246.7" r="1.6"/><circle cx="127.4" cy="263.4" r="1.6"/><circle cx="130.1" cy="262.3" r="1.6"/><circle cx="138.5" cy="235.3" r="1.6"/><circle cx="125.3" cy="258.4" r="1.6"/><circle cx="118.3" cy="250.9" r="1.6"/><circle cx="139.0" cy="263.6" r="1.6"/><circle cx="117.0" cy="250.7" r="1.6"/><circle cx="90.9" cy="242.9" r="1.6"/><circle cx="136.2" cy="257.9" r="1.6"/><circle cx="128.9" cy="260.7" r="1.6"/><circle cx="140.0" cy="263.4" r="1.6"/><circle cx="143.3" cy="262.0" r="1.6"/><circle cx="113.7" cy="263.2" r="1.6"/><circle cx="107.9" cy="256.8" r="1.6"/><circle cx="115.3" cy="266.1" r="1.6"/><circle cx="112.7" cy="261.1" r="1.6"/><circle cx="107.3" cy="259.3" r="1.6"/><circle cx="114.3" cy="251.3" r="1.6"/><circle cx="107.6" cy="263.9" r="1.6"/><circle cx="137.7" cy="255.1" r="1.6"/><circle cx="124.5" cy="257.5" r="1.6"/><circle cx="127.4" cy="255.6" r="1.6"/><circle cx="129.0" cy="261.3" r="1.6"/><circle cx="129.0" cy="265.9" r="1.6"/><circle cx="132.8" cy="256.0" r="1.6"/><circle cx="134.9" cy="265.1" r="1.6"/><circle cx="116.4" cy="259.4" r="1.6"/><circle cx="140.4" cy="261.3" r="1.6"/><circle cx="112.1" cy="256.9" r="1.6"/><circle cx="128.8" cy="266.0" r="1.6"/><circle cx="110.3" cy="265.0" r="1.6"/><circle cx="122.6" cy="256.5" r="1.6"/><circle cx="117.3" cy="266.5" r="1.6"/><circle cx="120.4" cy="259.1" r="1.6"/><circle cx="135.8" cy="259.0" r="1.6"/><circle cx="115.6" cy="264.7" r="1.6"/><circle cx="108.7" cy="265.7" r="1.6"/><circle cx="107.1" cy="261.4" r="1.6"/><circle cx="142.0" cy="260.4" r="1.6"/><circle cx="131.6" cy="254.1" r="1.6"/><circle cx="120.8" cy="264.8" r="1.6"/><circle cx="139.0" cy="266.0" r="1.6"/><circle cx="135.2" cy="265.6" r="1.6"/><circle cx="122.5" cy="264.4" r="1.6"/><circle cx="125.0" cy="263.3" r="1.6"/><circle cx="108.1" cy="261.7" r="1.6"/><circle cx="123.3" cy="261.1" r="1.6"/><circle cx="104.9" cy="253.3" r="1.6"/><circle cx="107.0" cy="260.0" r="1.6"/><circle cx="127.2" cy="259.0" r="1.6"/><circle cx="108.6" cy="262.8" r="1.6"/><circle cx="118.1" cy="251.5" r="1.6"/><circle cx="135.9" cy="264.0" r="1.6"/><circle cx="123.2" cy="265.7" r="1.6"/><circle cx="145.1" cy="264.2" r="1.6"/><circle cx="106.9" cy="265.5" r="1.6"/><circle cx="141.2" cy="265.1" r="1.6"/><circle cx="107.1" cy="263.1" r="1.6"/><circle cx="130.4" cy="263.5" r="1.6"/><circle cx="118.1" cy="260.8" r="1.6"/><circle cx="105.5" cy="266.0" r="1.6"/><circle cx="122.2" cy="249.5" r="1.6"/><circle cx="120.2" cy="265.8" r="1.6"/><circle cx="136.7" cy="265.4" r="1.6"/><circle cx="111.6" cy="253.8" r="1.6"/><circle cx="132.3" cy="261.8" r="1.6"/><circle cx="130.6" cy="263.2" r="1.6"/><circle cx="121.3" cy="265.1" r="1.6"/><circle cx="122.3" cy="260.6" r="1.6"/><circle cx="117.7" cy="264.9" r="1.6"/><circle cx="115.7" cy="256.7" r="1.6"/><circle cx="135.6" cy="262.6" r="1.6"/><circle cx="119.6" cy="264.1" r="1.6"/><circle cx="110.9" cy="260.5" r="1.6"/><circle cx="119.1" cy="253.7" r="1.6"/><circle cx="123.0" cy="266.1" r="1.6"/><circle cx="106.5" cy="259.4" r="1.6"/><circle cx="132.5" cy="263.2" r="1.6"/><circle cx="114.1" cy="261.3" r="1.6"/><circle cx="127.9" cy="262.8" r="1.6"/><circle cx="130.6" cy="265.3" r="1.6"/><circle cx="114.1" cy="249.5" r="1.6"/><circle cx="128.0" cy="250.3" r="1.6"/><circle cx="144.5" cy="266.2" r="1.6"/><circle cx="134.5" cy="260.7" r="1.6"/><circle cx="132.2" cy="255.2" r="1.6"/><circle cx="126.0" cy="255.5" r="1.6"/><circle cx="134.0" cy="264.9" r="1.6"/><circle cx="124.8" cy="259.4" r="1.6"/><circle cx="127.0" cy="257.3" r="1.6"/><circle cx="112.5" cy="262.1" r="1.6"/><circle cx="127.8" cy="263.8" r="1.6"/><circle cx="138.7" cy="262.8" r="1.6"/><circle cx="125.3" cy="265.1" r="1.6"/><circle cx="140.3" cy="260.6" r="1.6"/><circle cx="115.7" cy="266.3" r="1.6"/><circle cx="111.6" cy="254.4" r="1.6"/><circle cx="141.9" cy="264.1" r="1.6"/><circle cx="131.7" cy="264.7" r="1.6"/><circle cx="126.0" cy="260.5" r="1.6"/><circle cx="124.7" cy="266.4" r="1.6"/><circle cx="128.6" cy="264.3" r="1.6"/><circle cx="116.7" cy="261.6" r="1.6"/><circle cx="132.0" cy="261.4" r="1.6"/><circle cx="134.4" cy="259.3" r="1.6"/><circle cx="117.3" cy="253.4" r="1.6"/><circle cx="111.6" cy="266.2" r="1.6"/><circle cx="121.2" cy="265.8" r="1.6"/><circle cx="134.9" cy="265.2" r="1.6"/><circle cx="106.4" cy="259.2" r="1.6"/><circle cx="143.3" cy="261.2" r="1.6"/><circle cx="144.0" cy="261.1" r="1.6"/><circle cx="143.2" cy="263.3" r="1.6"/><circle cx="138.1" cy="265.8" r="1.6"/><circle cx="111.1" cy="263.9" r="1.6"/><circle cx="132.1" cy="263.8" r="1.6"/><circle cx="141.2" cy="265.8" r="1.6"/><circle cx="111.7" cy="263.6" r="1.6"/><circle cx="121.4" cy="261.8" r="1.6"/><circle cx="105.0" cy="263.0" r="1.6"/><circle cx="144.6" cy="265.9" r="1.6"/><circle cx="143.9" cy="257.4" r="1.6"/><circle cx="111.9" cy="251.6" r="1.6"/><circle cx="111.2" cy="257.9" r="1.6"/><circle cx="116.9" cy="257.8" r="1.6"/><circle cx="112.5" cy="262.4" r="1.6"/><circle cx="130.3" cy="265.6" r="1.6"/><circle cx="128.5" cy="264.7" r="1.6"/><circle cx="140.5" cy="264.6" r="1.6"/><circle cx="136.4" cy="261.2" r="1.6"/><circle cx="142.5" cy="265.7" r="1.6"/><circle cx="142.9" cy="263.8" r="1.6"/><circle cx="126.5" cy="263.6" r="1.6"/><circle cx="124.2" cy="257.6" r="1.6"/><circle cx="128.9" cy="264.8" r="1.6"/><circle cx="126.5" cy="266.1" r="1.6"/><circle cx="113.1" cy="265.2" r="1.6"/><circle cx="126.6" cy="262.5" r="1.6"/><circle cx="131.1" cy="264.8" r="1.6"/><circle cx="119.7" cy="251.5" r="1.6"/><circle cx="138.5" cy="264.3" r="1.6"/><circle cx="133.0" cy="263.2" r="1.6"/><circle cx="130.4" cy="265.9" r="1.6"/><circle cx="108.3" cy="262.9" r="1.6"/><circle cx="133.3" cy="254.4" r="1.6"/><circle cx="136.8" cy="263.6" r="1.6"/><circle cx="106.0" cy="265.2" r="1.6"/><circle cx="121.3" cy="261.7" r="1.6"/><circle cx="122.7" cy="266.5" r="1.6"/><circle cx="108.5" cy="264.5" r="1.6"/><circle cx="131.1" cy="266.4" r="1.6"/><circle cx="114.2" cy="257.3" r="1.6"/><circle cx="136.6" cy="266.1" r="1.6"/><circle cx="107.6" cy="259.4" r="1.6"/><circle cx="141.1" cy="264.3" r="1.6"/><circle cx="104.5" cy="265.3" r="1.6"/><circle cx="113.6" cy="264.4" r="1.6"/><circle cx="123.7" cy="264.2" r="1.6"/><circle cx="142.6" cy="259.3" r="1.6"/><circle cx="110.8" cy="256.6" r="1.6"/><circle cx="141.8" cy="261.7" r="1.6"/><circle cx="128.0" cy="265.4" r="1.6"/><circle cx="134.2" cy="260.5" r="1.6"/><circle cx="117.6" cy="262.8" r="1.6"/><circle cx="139.5" cy="264.0" r="1.6"/><circle cx="133.5" cy="252.3" r="1.6"/><circle cx="107.8" cy="260.3" r="1.6"/><circle cx="132.3" cy="264.4" r="1.6"/><circle cx="145.4" cy="262.8" r="1.6"/><circle cx="137.2" cy="255.1" r="1.6"/><circle cx="130.6" cy="258.6" r="1.6"/><circle cx="122.6" cy="254.9" r="1.6"/><circle cx="128.0" cy="262.3" r="1.6"/><circle cx="118.4" cy="260.8" r="1.6"/><circle cx="129.8" cy="265.4" r="1.6"/><circle cx="143.0" cy="257.1" r="1.6"/><circle cx="141.3" cy="265.4" r="1.6"/><circle cx="115.6" cy="265.1" r="1.6"/><circle cx="114.3" cy="259.7" r="1.6"/><circle cx="110.3" cy="264.4" r="1.6"/><circle cx="141.2" cy="253.8" r="1.6"/><circle cx="107.7" cy="264.4" r="1.6"/><circle cx="125.4" cy="266.4" r="1.6"/><circle cx="134.2" cy="252.7" r="1.6"/><circle cx="124.8" cy="265.1" r="1.6"/><circle cx="108.5" cy="250.1" r="1.6"/><circle cx="131.4" cy="264.2" r="1.6"/><circle cx="141.5" cy="263.8" r="1.6"/><circle cx="123.6" cy="265.5" r="1.6"/><circle cx="138.5" cy="256.5" r="1.6"/><circle cx="145.3" cy="241.4" r="1.6"/><circle cx="144.9" cy="264.0" r="1.6"/><circle cx="144.6" cy="261.5" r="1.6"/><circle cx="145.6" cy="254.8" r="1.6"/><circle cx="145.1" cy="252.1" r="1.6"/><circle cx="145.4" cy="256.1" r="1.6"/><circle cx="145.9" cy="244.3" r="1.6"/><circle cx="145.4" cy="242.3" r="1.6"/><circle cx="146.0" cy="260.4" r="1.6"/><circle cx="145.5" cy="249.9" r="1.6"/><circle cx="145.8" cy="233.4" r="1.6"/><circle cx="145.0" cy="263.5" r="1.6"/><circle cx="145.4" cy="240.0" r="1.6"/><circle cx="146.2" cy="265.6" r="1.6"/><circle cx="145.6" cy="266.1" r="1.6"/><circle cx="144.9" cy="254.9" r="1.6"/><circle cx="145.3" cy="265.6" r="1.6"/><circle cx="145.6" cy="243.1" r="1.6"/><circle cx="146.3" cy="259.6" r="1.6"/><circle cx="145.4" cy="254.3" r="1.6"/><circle cx="145.8" cy="244.5" r="1.6"/><circle cx="145.6" cy="251.8" r="1.6"/><circle cx="145.5" cy="252.5" r="1.6"/><circle cx="145.0" cy="262.2" r="1.6"/><circle cx="144.7" cy="262.7" r="1.6"/><circle cx="144.9" cy="232.5" r="1.6"/><circle cx="145.3" cy="249.8" r="1.6"/><circle cx="145.0" cy="237.9" r="1.6"/><circle cx="145.3" cy="251.2" r="1.6"/><circle cx="145.9" cy="232.7" r="1.6"/><circle cx="145.7" cy="256.9" r="1.6"/><circle cx="145.1" cy="234.6" r="1.6"/><circle cx="144.7" cy="237.4" r="1.6"/><circle cx="144.7" cy="266.4" r="1.6"/><circle cx="145.2" cy="266.2" r="1.6"/><circle cx="144.9" cy="263.9" r="1.6"/><circle cx="145.3" cy="232.4" r="1.6"/><circle cx="145.3" cy="266.0" r="1.6"/><circle cx="145.1" cy="247.9" r="1.6"/><circle cx="144.3" cy="258.1" r="1.6"/><circle cx="145.6" cy="245.3" r="1.6"/><circle cx="146.0" cy="246.6" r="1.6"/><circle cx="145.3" cy="266.0" r="1.6"/><circle cx="144.7" cy="252.5" r="1.6"/><circle cx="144.9" cy="238.5" r="1.6"/><circle cx="145.4" cy="242.0" r="1.6"/><circle cx="145.2" cy="266.4" r="1.6"/><circle cx="145.3" cy="234.9" r="1.6"/><circle cx="145.6" cy="266.6" r="1.6"/><circle cx="145.0" cy="260.8" r="1.6"/><circle cx="144.8" cy="257.8" r="1.6"/><circle cx="145.1" cy="241.7" r="1.6"/><circle cx="145.7" cy="262.2" r="1.6"/><circle cx="146.1" cy="254.6" r="1.6"/><circle cx="146.7" cy="254.2" r="1.6"/><circle cx="66.8" cy="161.1" r="1.6"/><circle cx="72.8" cy="168.2" r="1.6"/><circle cx="76.6" cy="166.8" r="1.6"/><circle cx="81.8" cy="170.2" r="1.6"/></g>
<line x1="30.7" y1="266.5" x2="271.7" y2="266.5" stroke="#231f20" stroke-width="1.1" stroke-dasharray="1.2 1.6"/>
<line x1="30.7" y1="156.0" x2="30.7" y2="294.1" stroke="#231f20" stroke-width="1.3"/>
<line x1="30.1" y1="293.5" x2="271.7" y2="293.5" stroke="#231f20" stroke-width="1.3"/>
<text x="29.3" y="193.5" text-anchor="end">20</text>
<text x="29.3" y="240.9" text-anchor="end">10</text>
<text x="29.3" y="288.4" text-anchor="end">0</text>
<text x="82.9" y="302.6" text-anchor="middle">−10</text>
<text x="152.3" y="302.6" text-anchor="middle">0</text>
<text x="227.4" y="302.6" text-anchor="middle">10</text>
<text x="118" y="311">log<tspan font-size="6" dy="2">2</tspan><tspan dy="-2">fold change</tspan></text>
<text transform="translate(12.4,230.7) rotate(-90)" text-anchor="middle">−log<tspan font-size="6" dy="2">2</tspan><tspan dy="-2">(</tspan><tspan font-style="italic">p</tspan>−value)</text>
<text x="38.2" y="207.3">n=759</text>
<text x="223.2" y="207.3">n=221</text>
<text x="73.4" y="162.1" font-size="6.7">SRSF1</text>
<text x="96.7" y="180.2" font-size="6.7">RNPS1</text>
<text x="78.4" y="188.5" font-size="6.7">SRSF4</text>
<text x="120.1" y="210.4" font-size="6.7">SF1</text>
<text x="80.4" y="226.0" font-size="6.7">SRSF2</text>
<text x="95.0" y="241.8" font-size="6.7">SRSF5</text>
<text x="106.8" y="253.1" font-size="6.7">CWC15</text>
<text x="84.2" y="258.9" font-size="6.7">SRSF6</text>
<text x="125.6" y="256.9" font-size="6.7">SF3A2</text>
<text x="98.0" y="264.4" font-size="6.7">SRSF7</text>
<text x="125.6" y="263.3" font-size="6.7">SF3A1</text>
<text x="182.9" y="193.8" font-size="6.7" fill="#f37f70">RPS26</text>
<text x="178.2" y="232.0" font-size="6.7" fill="#f37f70">RPL17</text>
<text x="150.5" y="252.5" font-size="6.7" fill="#f37f70">SMARCC1</text>
<text x="177.1" y="257.7" font-size="6.7" fill="#f37f70">SMARCA4</text>
<text x="162.8" y="263.0" font-size="6.7" fill="#f37f70">CTCF</text>
<text x="177.7" y="268.3" font-size="6.7" fill="#f37f70">SMARCA5</text>
<circle cx="277.4" cy="202.0" r="4.6" fill="#fbd9d3"/>
<circle cx="277.4" cy="218.5" r="4.6" fill="#b0b0b0"/>
<circle cx="277.4" cy="235.2" r="4.6" fill="#eeeeee"/>
<text x="289.2" y="204.6">up</text>
<text x="289.2" y="221.5">down</text>
<text x="289.2" y="238.3">N/S</text>
<text x="323.1" y="156.9" font-size="20">C</text>
<text x="414.5" y="147.3">oligo 2: old (5hmC vs input)</text>
<line x1="350.0" y1="151.3" x2="589.4" y2="151.3" stroke="#231f20" stroke-width="1.3"/>
<g fill="#c8c8c8" fill-opacity="0.28"><circle cx="473.4" cy="275.8" r="1.55"/><circle cx="441.2" cy="275.0" r="1.55"/><circle cx="467.3" cy="272.6" r="1.55"/><circle cx="456.0" cy="279.4" r="1.55"/><circle cx="464.6" cy="275.3" r="1.55"/><circle cx="476.7" cy="274.9" r="1.55"/><circle cx="442.6" cy="274.9" r="1.55"/><circle cx="491.3" cy="273.4" r="1.55"/><circle cx="500.7" cy="273.1" r="1.55"/><circle cx="452.7" cy="276.4" r="1.55"/><circle cx="477.4" cy="274.9" r="1.55"/><circle cx="455.7" cy="281.2" r="1.55"/><circle cx="465.8" cy="277.6" r="1.55"/><circle cx="469.9" cy="276.2" r="1.55"/><circle cx="456.4" cy="278.6" r="1.55"/><circle cx="475.5" cy="279.7" r="1.55"/><circle cx="450.3" cy="275.0" r="1.55"/><circle cx="475.8" cy="277.5" r="1.55"/><circle cx="473.9" cy="280.4" r="1.55"/><circle cx="471.6" cy="279.6" r="1.55"/><circle cx="470.8" cy="280.9" r="1.55"/><circle cx="462.9" cy="274.8" r="1.55"/><circle cx="452.5" cy="276.0" r="1.55"/><circle cx="447.6" cy="275.8" r="1.55"/><circle cx="469.2" cy="284.9" r="1.55"/><circle cx="464.0" cy="272.6" r="1.55"/><circle cx="489.3" cy="276.8" r="1.55"/><circle cx="485.6" cy="276.1" r="1.55"/><circle cx="457.0" cy="281.1" r="1.55"/><circle cx="469.7" cy="282.8" r="1.55"/><circle cx="457.2" cy="273.2" r="1.55"/><circle cx="457.6" cy="274.8" r="1.55"/><circle cx="478.0" cy="279.2" r="1.55"/><circle cx="467.1" cy="276.1" r="1.55"/><circle cx="467.7" cy="276.7" r="1.55"/><circle cx="460.3" cy="279.8" r="1.55"/><circle cx="477.7" cy="278.4" r="1.55"/><circle cx="465.9" cy="273.4" r="1.55"/><circle cx="475.9" cy="280.5" r="1.55"/><circle cx="463.9" cy="283.7" r="1.55"/><circle cx="471.0" cy="275.1" r="1.55"/><circle cx="487.1" cy="273.2" r="1.55"/><circle cx="478.4" cy="275.0" r="1.55"/><circle cx="479.1" cy="273.0" r="1.55"/><circle cx="475.5" cy="282.1" r="1.55"/><circle cx="442.8" cy="274.1" r="1.55"/><circle cx="462.7" cy="273.5" r="1.55"/><circle cx="481.3" cy="273.8" r="1.55"/><circle cx="446.7" cy="277.5" r="1.55"/><circle cx="464.0" cy="274.0" r="1.55"/><circle cx="439.6" cy="273.9" r="1.55"/><circle cx="465.9" cy="282.3" r="1.55"/><circle cx="451.8" cy="276.1" r="1.55"/><circle cx="447.3" cy="276.3" r="1.55"/><circle cx="480.1" cy="276.0" r="1.55"/><circle cx="474.0" cy="278.2" r="1.55"/><circle cx="481.2" cy="276.6" r="1.55"/><circle cx="465.0" cy="284.4" r="1.55"/><circle cx="487.1" cy="274.3" r="1.55"/><circle cx="452.7" cy="273.7" r="1.55"/><circle cx="467.0" cy="272.9" r="1.55"/><circle cx="454.8" cy="276.2" r="1.55"/><circle cx="488.0" cy="272.6" r="1.55"/><circle cx="478.3" cy="277.4" r="1.55"/><circle cx="438.2" cy="273.3" r="1.55"/><circle cx="457.4" cy="274.7" r="1.55"/><circle cx="453.2" cy="279.9" r="1.55"/><circle cx="448.8" cy="272.8" r="1.55"/><circle cx="437.4" cy="273.5" r="1.55"/><circle cx="488.2" cy="277.7" r="1.55"/><circle cx="472.9" cy="277.0" r="1.55"/><circle cx="460.6" cy="274.1" r="1.55"/><circle cx="471.2" cy="280.8" r="1.55"/><circle cx="458.5" cy="275.3" r="1.55"/><circle cx="452.7" cy="276.9" r="1.55"/><circle cx="476.0" cy="277.1" r="1.55"/><circle cx="462.0" cy="282.6" r="1.55"/><circle cx="484.5" cy="277.2" r="1.55"/><circle cx="490.6" cy="273.1" r="1.55"/><circle cx="459.1" cy="272.6" r="1.55"/><circle cx="475.8" cy="274.8" r="1.55"/><circle cx="466.4" cy="279.8" r="1.55"/><circle cx="480.7" cy="277.4" r="1.55"/><circle cx="457.3" cy="281.1" r="1.55"/><circle cx="462.5" cy="283.3" r="1.55"/><circle cx="469.0" cy="278.4" r="1.55"/><circle cx="474.4" cy="276.8" r="1.55"/><circle cx="474.4" cy="277.9" r="1.55"/><circle cx="463.9" cy="278.7" r="1.55"/><circle cx="460.7" cy="277.5" r="1.55"/><circle cx="468.3" cy="278.5" r="1.55"/><circle cx="480.1" cy="276.7" r="1.55"/><circle cx="466.3" cy="275.2" r="1.55"/><circle cx="483.5" cy="277.9" r="1.55"/><circle cx="451.8" cy="273.3" r="1.55"/><circle cx="461.8" cy="279.5" r="1.55"/><circle cx="479.6" cy="272.8" r="1.55"/><circle cx="466.1" cy="275.5" r="1.55"/><circle cx="477.4" cy="273.9" r="1.55"/><circle cx="458.4" cy="273.9" r="1.55"/><circle cx="459.7" cy="279.0" r="1.55"/><circle cx="457.4" cy="275.3" r="1.55"/><circle cx="482.3" cy="276.6" r="1.55"/><circle cx="452.3" cy="276.8" r="1.55"/><circle cx="469.4" cy="280.7" r="1.55"/><circle cx="437.2" cy="272.7" r="1.55"/><circle cx="470.0" cy="276.9" r="1.55"/><circle cx="427.4" cy="272.4" r="1.55"/><circle cx="459.3" cy="273.6" r="1.55"/><circle cx="463.1" cy="274.6" r="1.55"/><circle cx="476.4" cy="276.3" r="1.55"/><circle cx="459.6" cy="273.0" r="1.55"/><circle cx="467.5" cy="273.6" r="1.55"/><circle cx="465.8" cy="281.8" r="1.55"/><circle cx="441.9" cy="272.9" r="1.55"/><circle cx="474.4" cy="278.8" r="1.55"/><circle cx="489.1" cy="273.4" r="1.55"/><circle cx="463.4" cy="279.2" r="1.55"/><circle cx="497.8" cy="274.3" r="1.55"/><circle cx="454.5" cy="279.5" r="1.55"/><circle cx="447.4" cy="276.1" r="1.55"/><circle cx="471.1" cy="279.8" r="1.55"/><circle cx="471.7" cy="276.5" r="1.55"/><circle cx="456.6" cy="277.9" r="1.55"/><circle cx="464.0" cy="272.9" r="1.55"/><circle cx="455.5" cy="276.5" r="1.55"/><circle cx="465.9" cy="276.8" r="1.55"/><circle cx="483.0" cy="275.8" r="1.55"/><circle cx="451.3" cy="272.7" r="1.55"/><circle cx="464.2" cy="281.5" r="1.55"/><circle cx="482.1" cy="273.5" r="1.55"/><circle cx="461.5" cy="279.1" r="1.55"/><circle cx="486.4" cy="273.7" r="1.55"/><circle cx="452.9" cy="279.7" r="1.55"/><circle cx="455.9" cy="274.1" r="1.55"/><circle cx="474.7" cy="277.6" r="1.55"/><circle cx="458.8" cy="278.1" r="1.55"/><circle cx="482.7" cy="279.1" r="1.55"/><circle cx="463.2" cy="274.5" r="1.55"/><circle cx="468.3" cy="277.3" r="1.55"/><circle cx="453.0" cy="276.8" r="1.55"/><circle cx="436.5" cy="272.9" r="1.55"/><circle cx="484.0" cy="273.1" r="1.55"/><circle cx="458.5" cy="281.2" r="1.55"/><circle cx="465.9" cy="272.6" r="1.55"/><circle cx="485.5" cy="273.0" r="1.55"/><circle cx="488.5" cy="273.3" r="1.55"/><circle cx="457.4" cy="276.0" r="1.55"/><circle cx="467.7" cy="274.4" r="1.55"/><circle cx="475.5" cy="273.2" r="1.55"/><circle cx="487.8" cy="272.7" r="1.55"/><circle cx="472.1" cy="283.8" r="1.55"/><circle cx="466.6" cy="285.0" r="1.55"/><circle cx="478.0" cy="279.0" r="1.55"/><circle cx="468.6" cy="283.1" r="1.55"/><circle cx="464.1" cy="282.7" r="1.55"/><circle cx="480.9" cy="276.7" r="1.55"/><circle cx="464.0" cy="279.0" r="1.55"/><circle cx="453.7" cy="273.2" r="1.55"/><circle cx="452.1" cy="277.9" r="1.55"/><circle cx="452.1" cy="275.3" r="1.55"/><circle cx="462.4" cy="272.9" r="1.55"/><circle cx="483.1" cy="274.1" r="1.55"/><circle cx="481.0" cy="275.4" r="1.55"/><circle cx="492.5" cy="274.6" r="1.55"/><circle cx="472.9" cy="279.6" r="1.55"/><circle cx="472.7" cy="279.8" r="1.55"/><circle cx="478.3" cy="279.3" r="1.55"/><circle cx="469.4" cy="283.7" r="1.55"/><circle cx="479.5" cy="274.7" r="1.55"/><circle cx="476.5" cy="279.8" r="1.55"/><circle cx="472.7" cy="276.7" r="1.55"/><circle cx="461.1" cy="273.1" r="1.55"/><circle cx="489.4" cy="274.5" r="1.55"/><circle cx="462.5" cy="279.8" r="1.55"/><circle cx="462.9" cy="274.0" r="1.55"/><circle cx="461.8" cy="280.6" r="1.55"/><circle cx="454.3" cy="273.8" r="1.55"/><circle cx="479.9" cy="277.2" r="1.55"/><circle cx="495.3" cy="272.8" r="1.55"/><circle cx="502.0" cy="272.5" r="1.55"/><circle cx="472.1" cy="279.6" r="1.55"/><circle cx="474.6" cy="280.9" r="1.55"/><circle cx="463.2" cy="280.0" r="1.55"/><circle cx="487.1" cy="275.7" r="1.55"/><circle cx="475.1" cy="273.9" r="1.55"/><circle cx="430.9" cy="272.4" r="1.55"/><circle cx="472.9" cy="279.5" r="1.55"/><circle cx="451.7" cy="272.9" r="1.55"/><circle cx="494.4" cy="272.6" r="1.55"/><circle cx="477.4" cy="274.8" r="1.55"/><circle cx="479.2" cy="272.8" r="1.55"/><circle cx="479.5" cy="275.6" r="1.55"/><circle cx="472.4" cy="279.0" r="1.55"/><circle cx="463.6" cy="275.4" r="1.55"/><circle cx="460.2" cy="280.1" r="1.55"/><circle cx="489.6" cy="273.8" r="1.55"/><circle cx="479.6" cy="275.3" r="1.55"/><circle cx="451.3" cy="274.4" r="1.55"/><circle cx="462.9" cy="279.8" r="1.55"/><circle cx="450.3" cy="274.2" r="1.55"/><circle cx="490.2" cy="276.9" r="1.55"/><circle cx="467.7" cy="278.7" r="1.55"/><circle cx="472.5" cy="278.0" r="1.55"/><circle cx="493.5" cy="274.3" r="1.55"/><circle cx="432.0" cy="272.4" r="1.55"/><circle cx="476.3" cy="272.7" r="1.55"/><circle cx="469.5" cy="282.8" r="1.55"/><circle cx="496.9" cy="272.9" r="1.55"/><circle cx="494.8" cy="274.4" r="1.55"/><circle cx="481.9" cy="273.5" r="1.55"/><circle cx="451.6" cy="274.6" r="1.55"/><circle cx="471.8" cy="275.5" r="1.55"/><circle cx="470.0" cy="283.0" r="1.55"/><circle cx="436.7" cy="273.1" r="1.55"/><circle cx="449.4" cy="274.9" r="1.55"/><circle cx="440.6" cy="273.6" r="1.55"/><circle cx="476.9" cy="278.2" r="1.55"/><circle cx="466.7" cy="277.2" r="1.55"/><circle cx="450.9" cy="278.5" r="1.55"/><circle cx="449.4" cy="277.1" r="1.55"/><circle cx="435.1" cy="272.5" r="1.55"/><circle cx="481.7" cy="278.9" r="1.55"/><circle cx="485.1" cy="274.8" r="1.55"/><circle cx="453.1" cy="276.3" r="1.55"/><circle cx="475.8" cy="280.0" r="1.55"/><circle cx="450.0" cy="273.4" r="1.55"/><circle cx="489.1" cy="275.1" r="1.55"/><circle cx="464.6" cy="273.2" r="1.55"/><circle cx="468.1" cy="273.4" r="1.55"/><circle cx="480.6" cy="277.3" r="1.55"/><circle cx="469.1" cy="272.7" r="1.55"/><circle cx="455.8" cy="276.3" r="1.55"/><circle cx="475.2" cy="281.8" r="1.55"/><circle cx="476.3" cy="277.8" r="1.55"/><circle cx="485.8" cy="276.1" r="1.55"/><circle cx="475.8" cy="276.6" r="1.55"/><circle cx="431.2" cy="272.4" r="1.55"/><circle cx="488.9" cy="274.5" r="1.55"/><circle cx="472.6" cy="275.6" r="1.55"/><circle cx="470.4" cy="275.6" r="1.55"/><circle cx="453.0" cy="274.4" r="1.55"/><circle cx="487.4" cy="274.0" r="1.55"/><circle cx="458.8" cy="277.1" r="1.55"/><circle cx="483.6" cy="273.0" r="1.55"/><circle cx="465.4" cy="279.5" r="1.55"/><circle cx="480.8" cy="275.2" r="1.55"/><circle cx="466.2" cy="278.3" r="1.55"/><circle cx="483.7" cy="275.4" r="1.55"/><circle cx="470.3" cy="281.6" r="1.55"/><circle cx="466.9" cy="279.7" r="1.55"/><circle cx="476.9" cy="274.7" r="1.55"/><circle cx="466.9" cy="279.9" r="1.55"/><circle cx="465.0" cy="278.8" r="1.55"/><circle cx="486.8" cy="278.4" r="1.55"/><circle cx="451.9" cy="277.3" r="1.55"/><circle cx="463.5" cy="281.0" r="1.55"/><circle cx="472.3" cy="275.9" r="1.55"/><circle cx="466.5" cy="275.5" r="1.55"/><circle cx="443.2" cy="274.5" r="1.55"/><circle cx="477.0" cy="272.9" r="1.55"/><circle cx="449.0" cy="275.0" r="1.55"/><circle cx="483.6" cy="276.3" r="1.55"/><circle cx="432.1" cy="272.4" r="1.55"/><circle cx="479.3" cy="272.8" r="1.55"/><circle cx="451.9" cy="274.3" r="1.55"/><circle cx="459.5" cy="273.9" r="1.55"/><circle cx="496.0" cy="274.9" r="1.55"/><circle cx="483.8" cy="273.0" r="1.55"/><circle cx="453.3" cy="273.1" r="1.55"/><circle cx="484.1" cy="278.5" r="1.55"/><circle cx="467.7" cy="281.9" r="1.55"/><circle cx="462.7" cy="272.4" r="1.55"/><circle cx="470.0" cy="275.3" r="1.55"/><circle cx="462.5" cy="281.0" r="1.55"/><circle cx="441.8" cy="272.7" r="1.55"/><circle cx="489.4" cy="275.7" r="1.55"/><circle cx="477.6" cy="274.2" r="1.55"/><circle cx="477.5" cy="281.0" r="1.55"/><circle cx="471.8" cy="276.4" r="1.55"/><circle cx="512.3" cy="272.4" r="1.55"/><circle cx="452.4" cy="274.6" r="1.55"/><circle cx="491.0" cy="274.3" r="1.55"/><circle cx="474.6" cy="276.7" r="1.55"/><circle cx="460.3" cy="278.3" r="1.55"/><circle cx="485.1" cy="274.1" r="1.55"/><circle cx="497.5" cy="273.4" r="1.55"/><circle cx="463.9" cy="280.0" r="1.55"/><circle cx="437.3" cy="273.9" r="1.55"/><circle cx="462.7" cy="274.7" r="1.55"/><circle cx="484.8" cy="278.8" r="1.55"/><circle cx="442.1" cy="272.8" r="1.55"/><circle cx="452.2" cy="273.2" r="1.55"/><circle cx="462.1" cy="280.0" r="1.55"/><circle cx="496.4" cy="274.4" r="1.55"/><circle cx="479.1" cy="274.8" r="1.55"/><circle cx="469.4" cy="285.0" r="1.55"/><circle cx="468.9" cy="280.4" r="1.55"/><circle cx="462.8" cy="273.8" r="1.55"/><circle cx="459.0" cy="276.0" r="1.55"/><circle cx="464.2" cy="272.7" r="1.55"/><circle cx="483.2" cy="273.4" r="1.55"/><circle cx="448.1" cy="276.2" r="1.55"/><circle cx="444.5" cy="275.1" r="1.55"/><circle cx="492.0" cy="273.0" r="1.55"/><circle cx="449.2" cy="277.3" r="1.55"/><circle cx="476.4" cy="272.5" r="1.55"/><circle cx="469.3" cy="276.4" r="1.55"/><circle cx="447.6" cy="277.7" r="1.55"/><circle cx="475.1" cy="274.6" r="1.55"/><circle cx="465.0" cy="275.3" r="1.55"/><circle cx="459.1" cy="279.3" r="1.55"/><circle cx="479.6" cy="276.8" r="1.55"/><circle cx="453.4" cy="273.7" r="1.55"/><circle cx="459.9" cy="280.5" r="1.55"/><circle cx="468.2" cy="275.9" r="1.55"/><circle cx="456.8" cy="275.8" r="1.55"/><circle cx="467.6" cy="273.7" r="1.55"/><circle cx="467.7" cy="275.0" r="1.55"/><circle cx="499.3" cy="273.0" r="1.55"/><circle cx="493.0" cy="274.5" r="1.55"/><circle cx="489.1" cy="275.7" r="1.55"/><circle cx="476.4" cy="280.2" r="1.55"/><circle cx="466.6" cy="274.4" r="1.55"/><circle cx="458.6" cy="274.0" r="1.55"/><circle cx="452.0" cy="272.8" r="1.55"/><circle cx="460.6" cy="276.4" r="1.55"/><circle cx="486.4" cy="274.6" r="1.55"/><circle cx="455.3" cy="275.3" r="1.55"/><circle cx="462.1" cy="274.2" r="1.55"/><circle cx="457.0" cy="280.9" r="1.55"/><circle cx="459.3" cy="277.4" r="1.55"/><circle cx="437.9" cy="273.2" r="1.55"/><circle cx="481.9" cy="277.8" r="1.55"/><circle cx="467.0" cy="280.8" r="1.55"/><circle cx="483.1" cy="275.8" r="1.55"/><circle cx="511.5" cy="272.4" r="1.55"/><circle cx="455.0" cy="278.1" r="1.55"/><circle cx="449.3" cy="273.5" r="1.55"/><circle cx="472.8" cy="279.0" r="1.55"/><circle cx="474.3" cy="282.9" r="1.55"/><circle cx="487.6" cy="277.1" r="1.55"/><circle cx="480.7" cy="276.0" r="1.55"/><circle cx="455.8" cy="279.8" r="1.55"/><circle cx="462.4" cy="277.1" r="1.55"/><circle cx="486.4" cy="277.2" r="1.55"/><circle cx="481.1" cy="272.4" r="1.55"/><circle cx="490.8" cy="276.3" r="1.55"/><circle cx="474.2" cy="277.3" r="1.55"/><circle cx="470.4" cy="272.5" r="1.55"/><circle cx="442.3" cy="273.1" r="1.55"/><circle cx="472.8" cy="275.8" r="1.55"/><circle cx="452.4" cy="278.0" r="1.55"/><circle cx="471.2" cy="276.1" r="1.55"/><circle cx="456.0" cy="277.8" r="1.55"/><circle cx="480.2" cy="273.7" r="1.55"/><circle cx="474.9" cy="272.9" r="1.55"/><circle cx="463.7" cy="278.6" r="1.55"/><circle cx="495.0" cy="274.8" r="1.55"/><circle cx="462.9" cy="273.1" r="1.55"/><circle cx="472.7" cy="281.9" r="1.55"/><circle cx="471.5" cy="278.7" r="1.55"/><circle cx="509.0" cy="272.4" r="1.55"/><circle cx="453.2" cy="276.8" r="1.55"/><circle cx="466.2" cy="276.7" r="1.55"/><circle cx="487.9" cy="273.9" r="1.55"/><circle cx="466.5" cy="272.6" r="1.55"/><circle cx="476.6" cy="274.3" r="1.55"/><circle cx="460.8" cy="273.0" r="1.55"/><circle cx="466.4" cy="275.2" r="1.55"/><circle cx="479.6" cy="275.6" r="1.55"/><circle cx="461.3" cy="280.2" r="1.55"/><circle cx="457.6" cy="277.1" r="1.55"/><circle cx="454.6" cy="273.5" r="1.55"/><circle cx="473.6" cy="279.7" r="1.55"/><circle cx="456.2" cy="276.2" r="1.55"/><circle cx="485.2" cy="273.0" r="1.55"/><circle cx="453.2" cy="274.2" r="1.55"/><circle cx="493.8" cy="274.2" r="1.55"/><circle cx="469.1" cy="275.4" r="1.55"/><circle cx="478.4" cy="277.3" r="1.55"/><circle cx="466.2" cy="283.5" r="1.55"/><circle cx="473.4" cy="279.1" r="1.55"/><circle cx="488.5" cy="275.2" r="1.55"/><circle cx="464.7" cy="272.7" r="1.55"/><circle cx="483.2" cy="276.2" r="1.55"/><circle cx="471.1" cy="278.0" r="1.55"/><circle cx="459.4" cy="273.7" r="1.55"/><circle cx="474.1" cy="279.5" r="1.55"/><circle cx="466.4" cy="275.2" r="1.55"/><circle cx="448.8" cy="276.3" r="1.55"/><circle cx="460.9" cy="274.2" r="1.55"/><circle cx="489.2" cy="275.3" r="1.55"/><circle cx="477.2" cy="274.6" r="1.55"/><circle cx="463.2" cy="276.0" r="1.55"/><circle cx="447.1" cy="275.6" r="1.55"/><circle cx="499.2" cy="273.0" r="1.55"/><circle cx="470.0" cy="284.2" r="1.55"/><circle cx="477.1" cy="276.6" r="1.55"/><circle cx="482.6" cy="275.6" r="1.55"/><circle cx="459.6" cy="279.4" r="1.55"/><circle cx="456.6" cy="272.7" r="1.55"/><circle cx="491.4" cy="276.0" r="1.55"/><circle cx="446.7" cy="275.6" r="1.55"/><circle cx="473.7" cy="272.9" r="1.55"/><circle cx="459.3" cy="276.7" r="1.55"/><circle cx="486.1" cy="273.1" r="1.55"/><circle cx="465.1" cy="273.0" r="1.55"/><circle cx="481.0" cy="272.9" r="1.55"/><circle cx="440.4" cy="273.7" r="1.55"/><circle cx="448.1" cy="275.0" r="1.55"/><circle cx="484.7" cy="275.5" r="1.55"/><circle cx="470.5" cy="283.2" r="1.55"/><circle cx="483.1" cy="275.8" r="1.55"/><circle cx="453.6" cy="273.9" r="1.55"/><circle cx="474.2" cy="275.1" r="1.55"/><circle cx="439.3" cy="274.5" r="1.55"/><circle cx="494.8" cy="272.7" r="1.55"/><circle cx="464.6" cy="279.1" r="1.55"/><circle cx="485.2" cy="277.0" r="1.55"/><circle cx="473.9" cy="275.8" r="1.55"/><circle cx="471.1" cy="274.7" r="1.55"/><circle cx="469.4" cy="284.7" r="1.55"/><circle cx="482.7" cy="275.4" r="1.55"/><circle cx="470.5" cy="279.9" r="1.55"/><circle cx="450.9" cy="272.9" r="1.55"/><circle cx="479.6" cy="274.2" r="1.55"/><circle cx="467.9" cy="273.8" r="1.55"/><circle cx="455.1" cy="273.1" r="1.55"/><circle cx="466.7" cy="275.9" r="1.55"/><circle cx="469.9" cy="283.7" r="1.55"/><circle cx="487.3" cy="275.0" r="1.55"/><circle cx="476.8" cy="275.3" r="1.55"/><circle cx="457.0" cy="278.1" r="1.55"/><circle cx="470.6" cy="277.5" r="1.55"/><circle cx="442.8" cy="273.4" r="1.55"/><circle cx="471.0" cy="280.9" r="1.55"/><circle cx="457.3" cy="281.2" r="1.55"/><circle cx="466.8" cy="274.1" r="1.55"/><circle cx="439.2" cy="272.7" r="1.55"/><circle cx="491.9" cy="272.6" r="1.55"/><circle cx="457.6" cy="275.8" r="1.55"/><circle cx="449.9" cy="273.9" r="1.55"/><circle cx="490.6" cy="276.3" r="1.55"/><circle cx="487.2" cy="273.1" r="1.55"/><circle cx="488.9" cy="274.2" r="1.55"/><circle cx="490.4" cy="277.1" r="1.55"/><circle cx="468.1" cy="276.8" r="1.55"/><circle cx="462.5" cy="276.0" r="1.55"/><circle cx="489.2" cy="273.9" r="1.55"/><circle cx="480.4" cy="276.2" r="1.55"/><circle cx="472.9" cy="281.0" r="1.55"/><circle cx="449.5" cy="273.0" r="1.55"/><circle cx="442.6" cy="274.5" r="1.55"/><circle cx="465.2" cy="280.0" r="1.55"/><circle cx="453.7" cy="274.2" r="1.55"/><circle cx="484.2" cy="276.7" r="1.55"/><circle cx="451.2" cy="272.7" r="1.55"/><circle cx="483.4" cy="275.7" r="1.55"/><circle cx="481.4" cy="273.9" r="1.55"/><circle cx="463.5" cy="277.2" r="1.55"/><circle cx="469.7" cy="280.1" r="1.55"/><circle cx="487.8" cy="274.2" r="1.55"/><circle cx="493.4" cy="272.6" r="1.55"/><circle cx="457.0" cy="279.9" r="1.55"/><circle cx="518.8" cy="272.4" r="1.55"/><circle cx="457.0" cy="274.2" r="1.55"/><circle cx="473.1" cy="274.5" r="1.55"/><circle cx="460.8" cy="283.0" r="1.55"/><circle cx="459.4" cy="278.8" r="1.55"/><circle cx="468.2" cy="280.6" r="1.55"/><circle cx="436.8" cy="272.5" r="1.55"/><circle cx="447.8" cy="276.5" r="1.55"/><circle cx="468.9" cy="282.7" r="1.55"/><circle cx="464.4" cy="282.2" r="1.55"/><circle cx="477.6" cy="275.7" r="1.55"/><circle cx="485.0" cy="272.7" r="1.55"/><circle cx="476.6" cy="274.4" r="1.55"/><circle cx="474.1" cy="282.4" r="1.55"/><circle cx="472.7" cy="279.6" r="1.55"/><circle cx="484.3" cy="274.5" r="1.55"/><circle cx="456.8" cy="277.6" r="1.55"/><circle cx="466.5" cy="278.9" r="1.55"/><circle cx="468.1" cy="275.6" r="1.55"/><circle cx="455.8" cy="275.7" r="1.55"/><circle cx="468.6" cy="284.0" r="1.55"/><circle cx="466.6" cy="274.0" r="1.55"/><circle cx="465.2" cy="278.8" r="1.55"/><circle cx="468.4" cy="275.5" r="1.55"/><circle cx="474.8" cy="275.7" r="1.55"/><circle cx="484.4" cy="273.6" r="1.55"/><circle cx="482.8" cy="274.9" r="1.55"/><circle cx="441.6" cy="272.7" r="1.55"/><circle cx="442.4" cy="275.8" r="1.55"/><circle cx="468.4" cy="281.1" r="1.55"/><circle cx="463.8" cy="276.3" r="1.55"/><circle cx="479.8" cy="274.3" r="1.55"/><circle cx="473.3" cy="278.9" r="1.55"/><circle cx="494.2" cy="274.7" r="1.55"/><circle cx="446.2" cy="277.3" r="1.55"/><circle cx="464.3" cy="276.1" r="1.55"/><circle cx="475.8" cy="276.0" r="1.55"/><circle cx="445.8" cy="272.6" r="1.55"/><circle cx="466.5" cy="275.2" r="1.55"/><circle cx="475.8" cy="281.5" r="1.55"/><circle cx="456.5" cy="277.1" r="1.55"/><circle cx="485.5" cy="272.7" r="1.55"/><circle cx="451.6" cy="276.2" r="1.55"/><circle cx="454.6" cy="273.5" r="1.55"/><circle cx="464.0" cy="280.9" r="1.55"/><circle cx="461.0" cy="272.7" r="1.55"/><circle cx="462.5" cy="278.0" r="1.55"/><circle cx="470.3" cy="273.4" r="1.55"/><circle cx="465.4" cy="279.4" r="1.55"/><circle cx="463.7" cy="275.9" r="1.55"/><circle cx="465.4" cy="280.3" r="1.55"/><circle cx="455.8" cy="273.2" r="1.55"/><circle cx="487.3" cy="273.8" r="1.55"/><circle cx="478.6" cy="274.2" r="1.55"/><circle cx="466.5" cy="283.0" r="1.55"/><circle cx="450.7" cy="277.0" r="1.55"/><circle cx="472.7" cy="273.0" r="1.55"/><circle cx="446.1" cy="272.5" r="1.55"/><circle cx="472.2" cy="274.4" r="1.55"/><circle cx="478.8" cy="276.9" r="1.55"/><circle cx="477.3" cy="278.8" r="1.55"/><circle cx="450.0" cy="273.4" r="1.55"/><circle cx="479.2" cy="273.4" r="1.55"/><circle cx="462.3" cy="275.5" r="1.55"/><circle cx="469.2" cy="275.7" r="1.55"/><circle cx="482.9" cy="275.3" r="1.55"/><circle cx="453.4" cy="279.8" r="1.55"/><circle cx="452.4" cy="274.6" r="1.55"/><circle cx="452.8" cy="273.8" r="1.55"/><circle cx="469.8" cy="278.5" r="1.55"/><circle cx="476.0" cy="272.6" r="1.55"/><circle cx="451.5" cy="272.9" r="1.55"/><circle cx="472.1" cy="273.9" r="1.55"/><circle cx="460.7" cy="278.8" r="1.55"/><circle cx="468.5" cy="273.6" r="1.55"/><circle cx="479.3" cy="274.0" r="1.55"/><circle cx="477.4" cy="275.5" r="1.55"/><circle cx="449.5" cy="275.8" r="1.55"/><circle cx="475.0" cy="278.3" r="1.55"/><circle cx="467.2" cy="278.5" r="1.55"/><circle cx="450.9" cy="277.1" r="1.55"/><circle cx="456.8" cy="275.2" r="1.55"/><circle cx="480.0" cy="273.0" r="1.55"/><circle cx="473.4" cy="280.5" r="1.55"/><circle cx="463.5" cy="283.1" r="1.55"/></g>
<g fill="#f47a68" fill-opacity="0.3"><circle cx="474.5" cy="259.9" r="1.6"/><circle cx="488.2" cy="258.5" r="1.6"/><circle cx="492.5" cy="265.6" r="1.6"/><circle cx="499.4" cy="271.3" r="1.6"/><circle cx="493.6" cy="258.2" r="1.6"/><circle cx="491.7" cy="251.5" r="1.6"/><circle cx="478.5" cy="257.8" r="1.6"/><circle cx="508.1" cy="241.3" r="1.6"/><circle cx="505.9" cy="268.6" r="1.6"/><circle cx="505.7" cy="270.2" r="1.6"/><circle cx="483.0" cy="259.6" r="1.6"/><circle cx="487.8" cy="271.3" r="1.6"/><circle cx="500.5" cy="238.1" r="1.6"/><circle cx="491.5" cy="272.1" r="1.6"/><circle cx="475.7" cy="261.4" r="1.6"/><circle cx="491.2" cy="268.7" r="1.6"/><circle cx="500.1" cy="267.6" r="1.6"/><circle cx="518.4" cy="262.4" r="1.6"/><circle cx="486.7" cy="269.2" r="1.6"/><circle cx="478.9" cy="263.5" r="1.6"/><circle cx="478.3" cy="259.1" r="1.6"/><circle cx="484.6" cy="269.5" r="1.6"/><circle cx="482.5" cy="265.4" r="1.6"/><circle cx="510.7" cy="263.3" r="1.6"/><circle cx="481.3" cy="266.1" r="1.6"/><circle cx="475.9" cy="252.1" r="1.6"/><circle cx="484.0" cy="260.3" r="1.6"/><circle cx="497.0" cy="268.7" r="1.6"/><circle cx="484.1" cy="270.9" r="1.6"/><circle cx="514.7" cy="262.1" r="1.6"/><circle cx="484.3" cy="269.2" r="1.6"/><circle cx="474.6" cy="266.9" r="1.6"/><circle cx="501.9" cy="221.9" r="1.6"/><circle cx="498.2" cy="270.0" r="1.6"/><circle cx="478.3" cy="266.1" r="1.6"/><circle cx="479.6" cy="245.1" r="1.6"/><circle cx="477.6" cy="266.8" r="1.6"/><circle cx="485.5" cy="253.4" r="1.6"/><circle cx="490.6" cy="265.8" r="1.6"/><circle cx="480.0" cy="270.1" r="1.6"/><circle cx="488.0" cy="249.0" r="1.6"/><circle cx="482.9" cy="269.3" r="1.6"/><circle cx="481.5" cy="268.8" r="1.6"/><circle cx="479.6" cy="260.6" r="1.6"/><circle cx="477.5" cy="251.4" r="1.6"/><circle cx="506.7" cy="233.1" r="1.6"/><circle cx="473.7" cy="256.6" r="1.6"/><circle cx="488.7" cy="269.9" r="1.6"/><circle cx="475.1" cy="265.0" r="1.6"/><circle cx="491.4" cy="252.5" r="1.6"/><circle cx="483.0" cy="267.9" r="1.6"/><circle cx="492.4" cy="271.3" r="1.6"/><circle cx="480.5" cy="258.5" r="1.6"/><circle cx="488.4" cy="254.6" r="1.6"/><circle cx="482.8" cy="257.9" r="1.6"/><circle cx="483.7" cy="237.5" r="1.6"/><circle cx="479.6" cy="270.7" r="1.6"/><circle cx="483.5" cy="267.1" r="1.6"/><circle cx="511.9" cy="268.4" r="1.6"/><circle cx="507.9" cy="252.9" r="1.6"/><circle cx="488.5" cy="265.4" r="1.6"/><circle cx="476.2" cy="269.9" r="1.6"/><circle cx="520.6" cy="264.9" r="1.6"/><circle cx="514.1" cy="239.6" r="1.6"/><circle cx="486.9" cy="267.5" r="1.6"/><circle cx="496.8" cy="267.2" r="1.6"/><circle cx="474.2" cy="264.7" r="1.6"/><circle cx="495.7" cy="271.7" r="1.6"/><circle cx="485.4" cy="256.5" r="1.6"/><circle cx="485.3" cy="266.1" r="1.6"/><circle cx="490.6" cy="254.5" r="1.6"/><circle cx="474.4" cy="263.2" r="1.6"/><circle cx="485.2" cy="271.2" r="1.6"/><circle cx="503.1" cy="270.8" r="1.6"/><circle cx="500.4" cy="262.0" r="1.6"/><circle cx="489.7" cy="263.3" r="1.6"/><circle cx="496.2" cy="271.9" r="1.6"/><circle cx="480.9" cy="271.2" r="1.6"/><circle cx="496.7" cy="256.1" r="1.6"/><circle cx="477.3" cy="268.2" r="1.6"/><circle cx="480.9" cy="249.2" r="1.6"/><circle cx="482.2" cy="242.6" r="1.6"/><circle cx="488.9" cy="264.6" r="1.6"/><circle cx="478.8" cy="267.3" r="1.6"/><circle cx="473.8" cy="261.0" r="1.6"/><circle cx="481.8" cy="236.8" r="1.6"/><circle cx="507.2" cy="271.5" r="1.6"/><circle cx="505.8" cy="269.6" r="1.6"/><circle cx="494.3" cy="269.9" r="1.6"/><circle cx="491.1" cy="254.6" r="1.6"/><circle cx="503.4" cy="261.0" r="1.6"/><circle cx="483.3" cy="267.6" r="1.6"/><circle cx="483.2" cy="267.7" r="1.6"/><circle cx="498.9" cy="257.9" r="1.6"/><circle cx="499.8" cy="261.7" r="1.6"/><circle cx="496.4" cy="261.7" r="1.6"/><circle cx="512.7" cy="263.2" r="1.6"/><circle cx="491.0" cy="268.0" r="1.6"/><circle cx="477.1" cy="266.5" r="1.6"/><circle cx="489.2" cy="262.1" r="1.6"/><circle cx="490.3" cy="238.1" r="1.6"/><circle cx="478.8" cy="241.4" r="1.6"/><circle cx="485.3" cy="251.1" r="1.6"/><circle cx="504.6" cy="259.6" r="1.6"/><circle cx="480.3" cy="271.7" r="1.6"/><circle cx="488.4" cy="258.5" r="1.6"/><circle cx="498.8" cy="262.3" r="1.6"/><circle cx="491.5" cy="226.8" r="1.6"/><circle cx="477.3" cy="264.3" r="1.6"/><circle cx="490.0" cy="272.1" r="1.6"/><circle cx="473.4" cy="267.6" r="1.6"/><circle cx="503.8" cy="239.2" r="1.6"/><circle cx="507.1" cy="256.0" r="1.6"/><circle cx="490.6" cy="254.0" r="1.6"/><circle cx="516.8" cy="271.2" r="1.6"/><circle cx="483.9" cy="255.5" r="1.6"/><circle cx="514.0" cy="267.3" r="1.6"/><circle cx="497.3" cy="272.0" r="1.6"/><circle cx="503.9" cy="265.7" r="1.6"/><circle cx="499.3" cy="267.7" r="1.6"/><circle cx="505.3" cy="266.2" r="1.6"/><circle cx="476.4" cy="253.3" r="1.6"/><circle cx="475.2" cy="258.3" r="1.6"/><circle cx="479.3" cy="268.2" r="1.6"/><circle cx="482.8" cy="254.6" r="1.6"/><circle cx="487.6" cy="258.8" r="1.6"/><circle cx="482.6" cy="271.3" r="1.6"/><circle cx="505.7" cy="249.7" r="1.6"/><circle cx="482.7" cy="266.7" r="1.6"/><circle cx="519.1" cy="258.4" r="1.6"/><circle cx="482.4" cy="269.3" r="1.6"/><circle cx="478.3" cy="262.0" r="1.6"/><circle cx="482.3" cy="260.8" r="1.6"/><circle cx="483.6" cy="269.3" r="1.6"/><circle cx="493.0" cy="264.3" r="1.6"/><circle cx="492.7" cy="224.8" r="1.6"/><circle cx="475.9" cy="272.1" r="1.6"/><circle cx="476.9" cy="270.4" r="1.6"/><circle cx="510.7" cy="266.2" r="1.6"/><circle cx="494.0" cy="271.4" r="1.6"/><circle cx="486.3" cy="265.1" r="1.6"/><circle cx="493.7" cy="256.2" r="1.6"/><circle cx="476.6" cy="265.9" r="1.6"/><circle cx="491.7" cy="271.2" r="1.6"/><circle cx="482.1" cy="266.4" r="1.6"/><circle cx="500.6" cy="270.0" r="1.6"/><circle cx="485.4" cy="256.0" r="1.6"/><circle cx="475.5" cy="257.6" r="1.6"/><circle cx="494.5" cy="245.8" r="1.6"/><circle cx="478.6" cy="252.1" r="1.6"/><circle cx="509.6" cy="266.7" r="1.6"/><circle cx="509.4" cy="261.2" r="1.6"/><circle cx="483.0" cy="264.0" r="1.6"/><circle cx="474.0" cy="257.8" r="1.6"/><circle cx="507.7" cy="239.8" r="1.6"/><circle cx="491.5" cy="247.0" r="1.6"/><circle cx="491.0" cy="251.4" r="1.6"/><circle cx="474.5" cy="267.7" r="1.6"/><circle cx="485.3" cy="260.0" r="1.6"/><circle cx="476.5" cy="271.1" r="1.6"/><circle cx="494.7" cy="269.3" r="1.6"/><circle cx="509.4" cy="265.7" r="1.6"/><circle cx="477.5" cy="270.1" r="1.6"/><circle cx="511.5" cy="261.5" r="1.6"/><circle cx="481.4" cy="267.5" r="1.6"/><circle cx="500.7" cy="260.9" r="1.6"/><circle cx="498.4" cy="269.7" r="1.6"/><circle cx="511.8" cy="251.8" r="1.6"/><circle cx="499.2" cy="263.9" r="1.6"/><circle cx="481.0" cy="268.9" r="1.6"/><circle cx="488.2" cy="259.5" r="1.6"/><circle cx="477.1" cy="271.6" r="1.6"/><circle cx="501.6" cy="266.7" r="1.6"/><circle cx="474.9" cy="253.9" r="1.6"/><circle cx="481.2" cy="266.0" r="1.6"/><circle cx="495.1" cy="258.6" r="1.6"/><circle cx="481.4" cy="271.4" r="1.6"/><circle cx="488.9" cy="229.7" r="1.6"/><circle cx="491.3" cy="251.6" r="1.6"/><circle cx="492.0" cy="237.5" r="1.6"/><circle cx="480.0" cy="269.8" r="1.6"/><circle cx="504.9" cy="265.7" r="1.6"/><circle cx="488.6" cy="251.8" r="1.6"/><circle cx="486.1" cy="259.9" r="1.6"/><circle cx="480.3" cy="261.7" r="1.6"/><circle cx="479.8" cy="268.0" r="1.6"/><circle cx="490.1" cy="265.2" r="1.6"/><circle cx="497.6" cy="256.1" r="1.6"/><circle cx="486.9" cy="262.6" r="1.6"/><circle cx="480.4" cy="271.0" r="1.6"/><circle cx="489.6" cy="262.5" r="1.6"/><circle cx="509.9" cy="271.0" r="1.6"/><circle cx="483.5" cy="258.1" r="1.6"/><circle cx="484.3" cy="266.8" r="1.6"/><circle cx="496.1" cy="268.0" r="1.6"/><circle cx="498.5" cy="246.2" r="1.6"/><circle cx="516.7" cy="238.2" r="1.6"/><circle cx="509.2" cy="243.4" r="1.6"/><circle cx="487.2" cy="246.8" r="1.6"/><circle cx="483.1" cy="251.8" r="1.6"/><circle cx="476.5" cy="246.4" r="1.6"/><circle cx="507.2" cy="242.2" r="1.6"/><circle cx="496.7" cy="212.9" r="1.6"/><circle cx="477.9" cy="249.8" r="1.6"/><circle cx="484.9" cy="238.5" r="1.6"/><circle cx="495.1" cy="245.8" r="1.6"/><circle cx="499.4" cy="210.4" r="1.6"/><circle cx="512.4" cy="243.1" r="1.6"/><circle cx="481.8" cy="251.0" r="1.6"/><circle cx="501.9" cy="243.4" r="1.6"/><circle cx="503.6" cy="243.1" r="1.6"/><circle cx="505.8" cy="211.3" r="1.6"/><circle cx="497.1" cy="216.6" r="1.6"/><circle cx="486.5" cy="253.2" r="1.6"/><circle cx="477.9" cy="246.1" r="1.6"/><circle cx="478.6" cy="246.9" r="1.6"/><circle cx="501.8" cy="248.3" r="1.6"/><circle cx="514.3" cy="225.8" r="1.6"/><circle cx="493.8" cy="249.1" r="1.6"/><circle cx="497.7" cy="227.1" r="1.6"/><circle cx="510.0" cy="217.4" r="1.6"/><circle cx="490.7" cy="246.3" r="1.6"/><circle cx="487.6" cy="239.0" r="1.6"/><circle cx="478.8" cy="252.7" r="1.6"/><circle cx="490.3" cy="241.1" r="1.6"/><circle cx="475.8" cy="253.3" r="1.6"/><circle cx="487.6" cy="252.2" r="1.6"/><circle cx="489.0" cy="242.7" r="1.6"/><circle cx="505.1" cy="228.8" r="1.6"/><circle cx="509.8" cy="233.1" r="1.6"/><circle cx="477.4" cy="253.5" r="1.6"/><circle cx="491.1" cy="223.7" r="1.6"/><circle cx="515.3" cy="251.5" r="1.6"/><circle cx="491.8" cy="245.8" r="1.6"/><circle cx="517.8" cy="239.4" r="1.6"/><circle cx="498.8" cy="219.9" r="1.6"/><circle cx="477.0" cy="247.2" r="1.6"/><circle cx="501.9" cy="228.3" r="1.6"/><circle cx="483.9" cy="234.9" r="1.6"/><circle cx="511.7" cy="234.8" r="1.6"/><circle cx="509.2" cy="194.7" r="1.6"/><circle cx="515.9" cy="207.6" r="1.6"/><circle cx="512.2" cy="210.5" r="1.6"/></g>
<g fill="#000" fill-opacity="0.34"><circle cx="398.4" cy="173.3" r="1.6"/><circle cx="422.0" cy="193.1" r="1.6"/><circle cx="445.1" cy="236.7" r="1.6"/><circle cx="424.8" cy="187.5" r="1.6"/><circle cx="401.2" cy="235.1" r="1.6"/><circle cx="394.3" cy="241.6" r="1.6"/><circle cx="426.5" cy="246.2" r="1.6"/><circle cx="435.0" cy="212.5" r="1.6"/><circle cx="423.2" cy="238.0" r="1.6"/><circle cx="406.5" cy="221.2" r="1.6"/><circle cx="432.2" cy="234.5" r="1.6"/><circle cx="455.0" cy="241.7" r="1.6"/><circle cx="400.0" cy="242.6" r="1.6"/><circle cx="452.0" cy="238.7" r="1.6"/><circle cx="405.1" cy="182.8" r="1.6"/><circle cx="393.1" cy="173.1" r="1.6"/><circle cx="455.4" cy="234.9" r="1.6"/><circle cx="411.7" cy="171.6" r="1.6"/><circle cx="449.3" cy="244.1" r="1.6"/><circle cx="436.0" cy="244.1" r="1.6"/><circle cx="404.1" cy="164.2" r="1.6"/><circle cx="401.5" cy="174.9" r="1.6"/><circle cx="451.3" cy="231.2" r="1.6"/><circle cx="398.4" cy="217.2" r="1.6"/><circle cx="430.3" cy="208.8" r="1.6"/><circle cx="420.6" cy="204.1" r="1.6"/><circle cx="397.2" cy="192.0" r="1.6"/><circle cx="410.4" cy="207.8" r="1.6"/><circle cx="444.6" cy="219.4" r="1.6"/><circle cx="440.3" cy="214.9" r="1.6"/><circle cx="411.0" cy="239.5" r="1.6"/><circle cx="455.1" cy="238.8" r="1.6"/><circle cx="444.8" cy="220.0" r="1.6"/><circle cx="442.4" cy="223.6" r="1.6"/><circle cx="413.9" cy="236.8" r="1.6"/><circle cx="399.5" cy="181.9" r="1.6"/><circle cx="455.5" cy="237.1" r="1.6"/><circle cx="423.9" cy="228.1" r="1.6"/><circle cx="402.9" cy="218.2" r="1.6"/><circle cx="400.1" cy="193.4" r="1.6"/><circle cx="429.9" cy="227.1" r="1.6"/><circle cx="422.0" cy="203.9" r="1.6"/><circle cx="428.1" cy="225.8" r="1.6"/><circle cx="401.5" cy="169.5" r="1.6"/><circle cx="402.8" cy="212.9" r="1.6"/><circle cx="450.0" cy="246.0" r="1.6"/><circle cx="424.6" cy="217.2" r="1.6"/><circle cx="421.7" cy="244.5" r="1.6"/><circle cx="453.9" cy="232.4" r="1.6"/><circle cx="402.6" cy="205.2" r="1.6"/><circle cx="415.6" cy="241.4" r="1.6"/><circle cx="414.5" cy="191.8" r="1.6"/><circle cx="411.0" cy="170.4" r="1.6"/><circle cx="438.4" cy="210.7" r="1.6"/><circle cx="447.3" cy="228.9" r="1.6"/><circle cx="455.1" cy="239.8" r="1.6"/><circle cx="398.0" cy="224.2" r="1.6"/><circle cx="415.9" cy="182.2" r="1.6"/><circle cx="435.6" cy="229.6" r="1.6"/><circle cx="411.9" cy="181.5" r="1.6"/><circle cx="417.5" cy="191.5" r="1.6"/><circle cx="420.4" cy="205.2" r="1.6"/><circle cx="450.5" cy="234.7" r="1.6"/><circle cx="449.1" cy="236.7" r="1.6"/><circle cx="403.1" cy="236.8" r="1.6"/><circle cx="399.1" cy="225.1" r="1.6"/><circle cx="394.6" cy="236.9" r="1.6"/><circle cx="416.8" cy="187.7" r="1.6"/><circle cx="421.4" cy="185.7" r="1.6"/><circle cx="414.6" cy="173.5" r="1.6"/><circle cx="453.1" cy="232.8" r="1.6"/><circle cx="431.4" cy="237.6" r="1.6"/><circle cx="425.0" cy="214.1" r="1.6"/><circle cx="421.6" cy="190.0" r="1.6"/><circle cx="418.0" cy="245.2" r="1.6"/><circle cx="393.1" cy="213.2" r="1.6"/><circle cx="455.3" cy="240.1" r="1.6"/><circle cx="418.1" cy="206.3" r="1.6"/><circle cx="447.3" cy="239.4" r="1.6"/><circle cx="443.3" cy="245.1" r="1.6"/><circle cx="416.3" cy="223.0" r="1.6"/><circle cx="422.8" cy="216.6" r="1.6"/><circle cx="410.6" cy="237.8" r="1.6"/><circle cx="450.5" cy="235.0" r="1.6"/><circle cx="395.8" cy="196.4" r="1.6"/><circle cx="396.6" cy="216.0" r="1.6"/><circle cx="395.8" cy="166.0" r="1.6"/><circle cx="418.5" cy="205.2" r="1.6"/><circle cx="436.2" cy="246.0" r="1.6"/><circle cx="454.9" cy="244.9" r="1.6"/><circle cx="392.7" cy="213.6" r="1.6"/><circle cx="423.4" cy="188.8" r="1.6"/><circle cx="430.4" cy="204.2" r="1.6"/><circle cx="414.1" cy="211.0" r="1.6"/><circle cx="424.8" cy="232.5" r="1.6"/><circle cx="425.6" cy="244.0" r="1.6"/><circle cx="429.6" cy="245.7" r="1.6"/><circle cx="402.8" cy="172.3" r="1.6"/><circle cx="442.3" cy="238.6" r="1.6"/><circle cx="433.6" cy="235.4" r="1.6"/><circle cx="402.1" cy="221.2" r="1.6"/><circle cx="393.4" cy="215.8" r="1.6"/><circle cx="399.9" cy="207.4" r="1.6"/><circle cx="429.5" cy="206.3" r="1.6"/><circle cx="454.3" cy="237.5" r="1.6"/><circle cx="442.8" cy="222.4" r="1.6"/><circle cx="445.3" cy="228.8" r="1.6"/><circle cx="432.5" cy="203.6" r="1.6"/><circle cx="436.7" cy="210.3" r="1.6"/><circle cx="440.4" cy="243.7" r="1.6"/><circle cx="444.6" cy="224.0" r="1.6"/><circle cx="416.9" cy="206.3" r="1.6"/><circle cx="416.8" cy="173.7" r="1.6"/><circle cx="417.4" cy="200.0" r="1.6"/><circle cx="421.9" cy="209.8" r="1.6"/><circle cx="399.3" cy="238.9" r="1.6"/><circle cx="410.3" cy="227.6" r="1.6"/><circle cx="435.3" cy="232.6" r="1.6"/><circle cx="442.3" cy="236.2" r="1.6"/><circle cx="439.2" cy="230.4" r="1.6"/><circle cx="413.5" cy="238.4" r="1.6"/><circle cx="417.5" cy="223.9" r="1.6"/><circle cx="394.1" cy="199.6" r="1.6"/><circle cx="396.6" cy="229.2" r="1.6"/><circle cx="411.4" cy="179.5" r="1.6"/><circle cx="414.5" cy="246.0" r="1.6"/><circle cx="423.6" cy="236.2" r="1.6"/><circle cx="400.6" cy="172.3" r="1.6"/><circle cx="396.5" cy="234.2" r="1.6"/><circle cx="397.6" cy="231.9" r="1.6"/><circle cx="392.9" cy="209.9" r="1.6"/><circle cx="441.3" cy="233.3" r="1.6"/><circle cx="433.1" cy="208.3" r="1.6"/><circle cx="431.6" cy="241.6" r="1.6"/><circle cx="444.3" cy="217.1" r="1.6"/><circle cx="456.2" cy="244.6" r="1.6"/><circle cx="447.1" cy="241.7" r="1.6"/><circle cx="409.5" cy="218.3" r="1.6"/><circle cx="435.1" cy="233.2" r="1.6"/><circle cx="409.2" cy="224.9" r="1.6"/><circle cx="393.0" cy="203.4" r="1.6"/><circle cx="433.4" cy="228.8" r="1.6"/><circle cx="454.7" cy="236.5" r="1.6"/><circle cx="413.4" cy="204.6" r="1.6"/><circle cx="424.3" cy="237.8" r="1.6"/><circle cx="415.5" cy="200.0" r="1.6"/><circle cx="414.2" cy="237.8" r="1.6"/><circle cx="415.0" cy="234.7" r="1.6"/><circle cx="411.6" cy="243.3" r="1.6"/><circle cx="425.9" cy="225.8" r="1.6"/><circle cx="409.4" cy="195.0" r="1.6"/><circle cx="449.5" cy="239.4" r="1.6"/><circle cx="411.5" cy="189.5" r="1.6"/><circle cx="441.5" cy="239.1" r="1.6"/><circle cx="417.0" cy="240.9" r="1.6"/><circle cx="442.5" cy="231.2" r="1.6"/><circle cx="448.5" cy="237.6" r="1.6"/><circle cx="412.1" cy="175.1" r="1.6"/><circle cx="391.2" cy="216.0" r="1.6"/><circle cx="426.9" cy="227.0" r="1.6"/><circle cx="439.2" cy="218.3" r="1.6"/><circle cx="439.0" cy="236.2" r="1.6"/><circle cx="424.6" cy="238.8" r="1.6"/><circle cx="394.8" cy="244.1" r="1.6"/><circle cx="442.6" cy="230.7" r="1.6"/><circle cx="425.5" cy="208.9" r="1.6"/><circle cx="436.0" cy="221.0" r="1.6"/><circle cx="423.1" cy="199.9" r="1.6"/><circle cx="401.5" cy="197.7" r="1.6"/><circle cx="412.8" cy="240.2" r="1.6"/><circle cx="436.5" cy="209.9" r="1.6"/><circle cx="399.5" cy="241.3" r="1.6"/><circle cx="426.1" cy="223.2" r="1.6"/><circle cx="395.9" cy="231.4" r="1.6"/><circle cx="425.5" cy="240.5" r="1.6"/><circle cx="428.7" cy="243.6" r="1.6"/><circle cx="434.5" cy="220.5" r="1.6"/><circle cx="440.7" cy="214.6" r="1.6"/><circle cx="453.0" cy="234.5" r="1.6"/><circle cx="429.2" cy="211.3" r="1.6"/><circle cx="426.8" cy="208.2" r="1.6"/><circle cx="431.7" cy="219.8" r="1.6"/><circle cx="399.1" cy="186.4" r="1.6"/><circle cx="404.1" cy="185.8" r="1.6"/><circle cx="452.4" cy="239.1" r="1.6"/><circle cx="438.1" cy="246.1" r="1.6"/><circle cx="448.5" cy="241.1" r="1.6"/><circle cx="398.6" cy="217.9" r="1.6"/><circle cx="402.5" cy="225.1" r="1.6"/><circle cx="404.9" cy="171.1" r="1.6"/><circle cx="448.6" cy="236.9" r="1.6"/><circle cx="432.2" cy="237.6" r="1.6"/><circle cx="427.2" cy="200.6" r="1.6"/><circle cx="402.5" cy="215.4" r="1.6"/><circle cx="396.8" cy="242.2" r="1.6"/><circle cx="408.2" cy="240.6" r="1.6"/><circle cx="451.8" cy="233.7" r="1.6"/><circle cx="398.6" cy="196.3" r="1.6"/><circle cx="454.2" cy="241.9" r="1.6"/><circle cx="411.9" cy="193.6" r="1.6"/><circle cx="453.9" cy="238.4" r="1.6"/><circle cx="417.6" cy="240.3" r="1.6"/><circle cx="407.3" cy="233.9" r="1.6"/><circle cx="453.4" cy="234.7" r="1.6"/><circle cx="391.2" cy="245.5" r="1.6"/><circle cx="395.8" cy="223.9" r="1.6"/><circle cx="430.9" cy="202.3" r="1.6"/><circle cx="417.5" cy="238.3" r="1.6"/><circle cx="451.7" cy="237.1" r="1.6"/><circle cx="394.0" cy="237.5" r="1.6"/><circle cx="454.7" cy="234.6" r="1.6"/><circle cx="437.6" cy="245.5" r="1.6"/><circle cx="442.9" cy="239.3" r="1.6"/><circle cx="446.8" cy="245.8" r="1.6"/><circle cx="412.5" cy="211.8" r="1.6"/><circle cx="440.8" cy="232.6" r="1.6"/><circle cx="420.9" cy="189.4" r="1.6"/><circle cx="407.6" cy="224.1" r="1.6"/><circle cx="432.0" cy="226.8" r="1.6"/><circle cx="419.7" cy="234.4" r="1.6"/><circle cx="418.0" cy="241.3" r="1.6"/><circle cx="425.4" cy="207.9" r="1.6"/><circle cx="404.2" cy="235.9" r="1.6"/><circle cx="435.0" cy="207.5" r="1.6"/><circle cx="401.1" cy="175.2" r="1.6"/><circle cx="449.7" cy="230.8" r="1.6"/><circle cx="444.0" cy="239.1" r="1.6"/><circle cx="436.1" cy="237.3" r="1.6"/><circle cx="391.2" cy="175.2" r="1.6"/><circle cx="415.5" cy="180.2" r="1.6"/><circle cx="420.5" cy="243.2" r="1.6"/><circle cx="443.7" cy="224.8" r="1.6"/><circle cx="454.5" cy="237.4" r="1.6"/><circle cx="451.7" cy="237.4" r="1.6"/><circle cx="401.2" cy="164.5" r="1.6"/><circle cx="399.6" cy="205.2" r="1.6"/><circle cx="394.9" cy="223.6" r="1.6"/><circle cx="397.9" cy="244.9" r="1.6"/><circle cx="453.5" cy="238.2" r="1.6"/><circle cx="404.4" cy="229.7" r="1.6"/><circle cx="437.1" cy="240.2" r="1.6"/><circle cx="392.1" cy="180.8" r="1.6"/><circle cx="430.3" cy="231.3" r="1.6"/><circle cx="439.5" cy="242.8" r="1.6"/><circle cx="436.2" cy="233.2" r="1.6"/><circle cx="426.3" cy="210.0" r="1.6"/><circle cx="450.4" cy="238.0" r="1.6"/><circle cx="396.3" cy="240.4" r="1.6"/><circle cx="432.2" cy="220.5" r="1.6"/><circle cx="452.3" cy="242.6" r="1.6"/><circle cx="447.7" cy="235.2" r="1.6"/><circle cx="456.2" cy="244.0" r="1.6"/><circle cx="401.4" cy="191.5" r="1.6"/><circle cx="408.2" cy="204.2" r="1.6"/><circle cx="429.6" cy="197.7" r="1.6"/><circle cx="439.8" cy="223.1" r="1.6"/><circle cx="391.1" cy="179.4" r="1.6"/><circle cx="400.3" cy="246.3" r="1.6"/><circle cx="448.7" cy="234.5" r="1.6"/><circle cx="416.7" cy="235.5" r="1.6"/><circle cx="445.7" cy="230.1" r="1.6"/><circle cx="449.6" cy="226.6" r="1.6"/><circle cx="415.5" cy="187.1" r="1.6"/><circle cx="406.8" cy="166.1" r="1.6"/><circle cx="444.2" cy="233.1" r="1.6"/><circle cx="403.4" cy="246.1" r="1.6"/><circle cx="423.0" cy="197.8" r="1.6"/><circle cx="428.2" cy="193.8" r="1.6"/><circle cx="408.4" cy="163.9" r="1.6"/><circle cx="414.4" cy="230.3" r="1.6"/><circle cx="423.8" cy="241.1" r="1.6"/><circle cx="406.5" cy="228.4" r="1.6"/><circle cx="391.4" cy="238.9" r="1.6"/><circle cx="423.6" cy="216.1" r="1.6"/><circle cx="401.1" cy="183.1" r="1.6"/><circle cx="414.8" cy="230.4" r="1.6"/><circle cx="450.6" cy="242.2" r="1.6"/><circle cx="417.8" cy="206.3" r="1.6"/><circle cx="393.4" cy="207.5" r="1.6"/><circle cx="454.5" cy="233.4" r="1.6"/><circle cx="393.9" cy="244.2" r="1.6"/><circle cx="447.1" cy="237.4" r="1.6"/><circle cx="430.4" cy="229.8" r="1.6"/><circle cx="393.5" cy="185.2" r="1.6"/><circle cx="437.8" cy="240.7" r="1.6"/><circle cx="433.4" cy="236.1" r="1.6"/><circle cx="436.4" cy="215.2" r="1.6"/><circle cx="428.4" cy="237.0" r="1.6"/><circle cx="427.6" cy="240.0" r="1.6"/><circle cx="443.6" cy="220.5" r="1.6"/><circle cx="433.8" cy="245.3" r="1.6"/><circle cx="422.4" cy="210.0" r="1.6"/><circle cx="406.4" cy="244.6" r="1.6"/><circle cx="436.2" cy="245.4" r="1.6"/><circle cx="409.1" cy="214.4" r="1.6"/><circle cx="398.3" cy="236.7" r="1.6"/><circle cx="392.3" cy="204.1" r="1.6"/><circle cx="455.5" cy="241.7" r="1.6"/><circle cx="419.0" cy="198.2" r="1.6"/><circle cx="433.5" cy="215.6" r="1.6"/><circle cx="397.8" cy="223.5" r="1.6"/><circle cx="408.2" cy="222.7" r="1.6"/><circle cx="446.5" cy="225.8" r="1.6"/><circle cx="454.5" cy="234.7" r="1.6"/><circle cx="418.5" cy="213.8" r="1.6"/><circle cx="418.9" cy="246.2" r="1.6"/><circle cx="448.6" cy="230.7" r="1.6"/><circle cx="399.7" cy="196.6" r="1.6"/><circle cx="404.6" cy="227.9" r="1.6"/><circle cx="442.6" cy="218.3" r="1.6"/><circle cx="432.2" cy="244.5" r="1.6"/><circle cx="411.6" cy="186.6" r="1.6"/><circle cx="409.2" cy="214.1" r="1.6"/><circle cx="418.5" cy="228.4" r="1.6"/><circle cx="423.6" cy="243.4" r="1.6"/><circle cx="411.4" cy="224.8" r="1.6"/><circle cx="432.1" cy="232.1" r="1.6"/><circle cx="425.0" cy="245.0" r="1.6"/><circle cx="429.9" cy="245.9" r="1.6"/><circle cx="414.9" cy="208.5" r="1.6"/><circle cx="436.6" cy="205.7" r="1.6"/><circle cx="418.1" cy="245.0" r="1.6"/><circle cx="411.7" cy="231.9" r="1.6"/><circle cx="450.4" cy="246.2" r="1.6"/><circle cx="411.6" cy="171.8" r="1.6"/><circle cx="429.4" cy="241.7" r="1.6"/><circle cx="405.6" cy="205.7" r="1.6"/><circle cx="422.5" cy="213.4" r="1.6"/><circle cx="441.9" cy="239.1" r="1.6"/><circle cx="419.5" cy="246.2" r="1.6"/><circle cx="429.9" cy="199.0" r="1.6"/><circle cx="455.1" cy="238.5" r="1.6"/><circle cx="424.4" cy="244.7" r="1.6"/><circle cx="411.1" cy="197.0" r="1.6"/><circle cx="419.8" cy="214.1" r="1.6"/><circle cx="398.4" cy="228.3" r="1.6"/><circle cx="408.4" cy="244.8" r="1.6"/><circle cx="446.5" cy="244.1" r="1.6"/><circle cx="420.9" cy="221.1" r="1.6"/><circle cx="451.8" cy="232.5" r="1.6"/><circle cx="401.3" cy="171.4" r="1.6"/><circle cx="444.2" cy="224.2" r="1.6"/><circle cx="441.3" cy="214.0" r="1.6"/><circle cx="448.6" cy="230.7" r="1.6"/><circle cx="425.5" cy="212.9" r="1.6"/><circle cx="448.7" cy="241.8" r="1.6"/><circle cx="446.6" cy="230.1" r="1.6"/><circle cx="423.1" cy="214.5" r="1.6"/><circle cx="440.1" cy="243.1" r="1.6"/><circle cx="414.2" cy="238.6" r="1.6"/><circle cx="419.3" cy="205.2" r="1.6"/><circle cx="420.3" cy="206.5" r="1.6"/><circle cx="421.2" cy="190.5" r="1.6"/><circle cx="443.2" cy="239.6" r="1.6"/><circle cx="422.8" cy="184.6" r="1.6"/><circle cx="419.1" cy="236.0" r="1.6"/><circle cx="392.9" cy="226.9" r="1.6"/><circle cx="453.7" cy="239.0" r="1.6"/><circle cx="409.8" cy="245.2" r="1.6"/><circle cx="421.4" cy="241.3" r="1.6"/><circle cx="403.2" cy="199.3" r="1.6"/><circle cx="442.1" cy="216.3" r="1.6"/><circle cx="445.3" cy="222.0" r="1.6"/><circle cx="425.1" cy="223.2" r="1.6"/><circle cx="417.7" cy="182.8" r="1.6"/><circle cx="444.2" cy="223.1" r="1.6"/><circle cx="398.0" cy="237.7" r="1.6"/><circle cx="442.0" cy="227.5" r="1.6"/><circle cx="450.4" cy="244.1" r="1.6"/><circle cx="402.4" cy="239.1" r="1.6"/><circle cx="403.2" cy="270.6" r="1.6"/><circle cx="461.8" cy="266.4" r="1.6"/><circle cx="452.2" cy="236.8" r="1.6"/><circle cx="404.4" cy="256.4" r="1.6"/><circle cx="437.4" cy="257.7" r="1.6"/><circle cx="425.7" cy="263.3" r="1.6"/><circle cx="420.5" cy="252.8" r="1.6"/><circle cx="446.3" cy="265.8" r="1.6"/><circle cx="404.0" cy="266.1" r="1.6"/><circle cx="428.2" cy="236.3" r="1.6"/><circle cx="425.3" cy="270.4" r="1.6"/><circle cx="444.8" cy="271.0" r="1.6"/><circle cx="452.2" cy="266.9" r="1.6"/><circle cx="424.5" cy="266.7" r="1.6"/><circle cx="433.2" cy="256.9" r="1.6"/><circle cx="399.1" cy="271.3" r="1.6"/><circle cx="434.5" cy="246.8" r="1.6"/><circle cx="419.6" cy="242.0" r="1.6"/><circle cx="398.7" cy="265.0" r="1.6"/><circle cx="454.1" cy="251.2" r="1.6"/><circle cx="398.2" cy="264.2" r="1.6"/><circle cx="405.5" cy="256.2" r="1.6"/><circle cx="410.4" cy="267.2" r="1.6"/><circle cx="427.7" cy="263.7" r="1.6"/><circle cx="424.8" cy="257.0" r="1.6"/><circle cx="441.3" cy="247.0" r="1.6"/><circle cx="451.1" cy="260.1" r="1.6"/><circle cx="459.0" cy="271.3" r="1.6"/><circle cx="431.5" cy="266.9" r="1.6"/><circle cx="412.2" cy="267.8" r="1.6"/><circle cx="440.8" cy="260.4" r="1.6"/><circle cx="394.8" cy="260.3" r="1.6"/><circle cx="457.1" cy="268.8" r="1.6"/><circle cx="405.4" cy="264.7" r="1.6"/><circle cx="457.1" cy="266.3" r="1.6"/><circle cx="456.1" cy="263.7" r="1.6"/><circle cx="442.9" cy="242.9" r="1.6"/><circle cx="440.5" cy="265.5" r="1.6"/><circle cx="458.5" cy="270.4" r="1.6"/><circle cx="460.0" cy="271.4" r="1.6"/><circle cx="390.4" cy="240.7" r="1.6"/><circle cx="414.8" cy="267.3" r="1.6"/><circle cx="401.8" cy="250.5" r="1.6"/><circle cx="428.7" cy="258.6" r="1.6"/><circle cx="444.3" cy="243.6" r="1.6"/><circle cx="394.0" cy="272.0" r="1.6"/><circle cx="459.1" cy="263.7" r="1.6"/><circle cx="401.0" cy="265.9" r="1.6"/><circle cx="424.0" cy="246.5" r="1.6"/><circle cx="430.0" cy="253.0" r="1.6"/><circle cx="446.4" cy="262.4" r="1.6"/><circle cx="451.5" cy="270.7" r="1.6"/><circle cx="440.3" cy="265.3" r="1.6"/><circle cx="449.4" cy="254.4" r="1.6"/><circle cx="399.2" cy="271.2" r="1.6"/><circle cx="397.8" cy="269.6" r="1.6"/><circle cx="446.9" cy="271.4" r="1.6"/><circle cx="399.2" cy="250.9" r="1.6"/><circle cx="453.8" cy="261.0" r="1.6"/><circle cx="414.4" cy="254.1" r="1.6"/><circle cx="446.9" cy="272.4" r="1.6"/><circle cx="449.9" cy="271.1" r="1.6"/><circle cx="438.8" cy="264.5" r="1.6"/><circle cx="438.2" cy="253.4" r="1.6"/><circle cx="408.8" cy="262.0" r="1.6"/><circle cx="461.9" cy="237.1" r="1.6"/><circle cx="413.3" cy="264.6" r="1.6"/><circle cx="456.4" cy="264.0" r="1.6"/><circle cx="460.7" cy="259.4" r="1.6"/><circle cx="444.4" cy="254.2" r="1.6"/><circle cx="401.8" cy="262.2" r="1.6"/><circle cx="417.4" cy="259.2" r="1.6"/><circle cx="449.9" cy="239.7" r="1.6"/><circle cx="423.0" cy="259.6" r="1.6"/><circle cx="449.3" cy="255.4" r="1.6"/><circle cx="439.7" cy="258.7" r="1.6"/><circle cx="443.9" cy="267.2" r="1.6"/><circle cx="458.9" cy="243.0" r="1.6"/><circle cx="425.9" cy="261.3" r="1.6"/><circle cx="404.9" cy="263.5" r="1.6"/><circle cx="413.5" cy="271.5" r="1.6"/><circle cx="406.4" cy="251.2" r="1.6"/><circle cx="459.7" cy="237.0" r="1.6"/><circle cx="414.9" cy="269.6" r="1.6"/><circle cx="414.1" cy="263.6" r="1.6"/><circle cx="424.2" cy="263.1" r="1.6"/><circle cx="447.3" cy="251.8" r="1.6"/><circle cx="427.2" cy="271.8" r="1.6"/><circle cx="455.7" cy="271.5" r="1.6"/><circle cx="411.7" cy="266.6" r="1.6"/><circle cx="413.8" cy="267.6" r="1.6"/><circle cx="462.4" cy="267.2" r="1.6"/><circle cx="392.7" cy="271.0" r="1.6"/><circle cx="421.8" cy="244.0" r="1.6"/><circle cx="455.6" cy="266.6" r="1.6"/><circle cx="420.8" cy="255.7" r="1.6"/><circle cx="423.6" cy="268.3" r="1.6"/><circle cx="440.8" cy="254.6" r="1.6"/><circle cx="429.7" cy="253.9" r="1.6"/><circle cx="445.1" cy="260.6" r="1.6"/><circle cx="401.2" cy="255.3" r="1.6"/><circle cx="438.6" cy="268.4" r="1.6"/><circle cx="461.6" cy="251.0" r="1.6"/><circle cx="436.7" cy="271.2" r="1.6"/><circle cx="409.2" cy="266.6" r="1.6"/><circle cx="426.6" cy="266.9" r="1.6"/><circle cx="434.9" cy="270.2" r="1.6"/><circle cx="418.1" cy="263.1" r="1.6"/><circle cx="450.4" cy="271.6" r="1.6"/><circle cx="455.1" cy="254.5" r="1.6"/><circle cx="426.7" cy="241.2" r="1.6"/><circle cx="409.7" cy="266.5" r="1.6"/><circle cx="422.9" cy="266.6" r="1.6"/><circle cx="401.9" cy="239.3" r="1.6"/><circle cx="402.2" cy="262.5" r="1.6"/><circle cx="434.9" cy="271.7" r="1.6"/><circle cx="453.1" cy="254.7" r="1.6"/><circle cx="405.3" cy="262.6" r="1.6"/><circle cx="423.1" cy="271.4" r="1.6"/><circle cx="436.9" cy="268.1" r="1.6"/><circle cx="436.7" cy="270.2" r="1.6"/><circle cx="422.7" cy="243.7" r="1.6"/><circle cx="420.0" cy="248.5" r="1.6"/><circle cx="449.0" cy="257.1" r="1.6"/><circle cx="447.4" cy="255.1" r="1.6"/><circle cx="408.7" cy="251.6" r="1.6"/><circle cx="406.5" cy="248.7" r="1.6"/><circle cx="439.1" cy="238.2" r="1.6"/><circle cx="426.7" cy="267.5" r="1.6"/><circle cx="457.9" cy="271.1" r="1.6"/><circle cx="396.5" cy="269.7" r="1.6"/><circle cx="427.7" cy="242.7" r="1.6"/><circle cx="399.7" cy="260.7" r="1.6"/><circle cx="443.8" cy="271.0" r="1.6"/><circle cx="452.9" cy="262.5" r="1.6"/><circle cx="448.6" cy="262.4" r="1.6"/><circle cx="442.7" cy="270.4" r="1.6"/><circle cx="397.2" cy="265.4" r="1.6"/><circle cx="430.5" cy="248.2" r="1.6"/><circle cx="398.8" cy="263.6" r="1.6"/><circle cx="449.1" cy="264.6" r="1.6"/><circle cx="399.9" cy="268.8" r="1.6"/><circle cx="455.2" cy="253.5" r="1.6"/><circle cx="417.5" cy="261.4" r="1.6"/><circle cx="420.5" cy="266.0" r="1.6"/><circle cx="439.4" cy="252.4" r="1.6"/><circle cx="439.1" cy="271.1" r="1.6"/><circle cx="457.1" cy="270.4" r="1.6"/><circle cx="397.0" cy="253.5" r="1.6"/><circle cx="452.9" cy="260.8" r="1.6"/><circle cx="426.2" cy="269.1" r="1.6"/><circle cx="455.2" cy="257.0" r="1.6"/><circle cx="460.9" cy="248.8" r="1.6"/><circle cx="432.4" cy="270.8" r="1.6"/><circle cx="413.7" cy="264.0" r="1.6"/><circle cx="453.3" cy="270.2" r="1.6"/><circle cx="437.4" cy="271.3" r="1.6"/><circle cx="423.6" cy="265.2" r="1.6"/><circle cx="436.3" cy="248.5" r="1.6"/><circle cx="408.3" cy="259.6" r="1.6"/><circle cx="446.8" cy="269.6" r="1.6"/><circle cx="452.5" cy="253.5" r="1.6"/><circle cx="423.9" cy="269.1" r="1.6"/><circle cx="419.6" cy="267.6" r="1.6"/><circle cx="447.8" cy="269.3" r="1.6"/><circle cx="407.3" cy="265.1" r="1.6"/><circle cx="420.8" cy="265.2" r="1.6"/><circle cx="406.6" cy="256.6" r="1.6"/><circle cx="456.7" cy="252.9" r="1.6"/><circle cx="450.2" cy="272.4" r="1.6"/><circle cx="429.9" cy="271.0" r="1.6"/><circle cx="423.7" cy="238.6" r="1.6"/><circle cx="460.7" cy="259.8" r="1.6"/><circle cx="421.7" cy="270.7" r="1.6"/><circle cx="428.5" cy="264.9" r="1.6"/><circle cx="441.5" cy="258.9" r="1.6"/><circle cx="441.1" cy="265.8" r="1.6"/><circle cx="439.8" cy="243.8" r="1.6"/><circle cx="415.3" cy="270.3" r="1.6"/><circle cx="413.1" cy="244.1" r="1.6"/><circle cx="431.7" cy="264.4" r="1.6"/><circle cx="419.9" cy="267.7" r="1.6"/><circle cx="407.5" cy="264.8" r="1.6"/><circle cx="441.7" cy="270.1" r="1.6"/><circle cx="404.7" cy="270.0" r="1.6"/><circle cx="397.0" cy="265.2" r="1.6"/><circle cx="442.3" cy="267.9" r="1.6"/><circle cx="458.9" cy="254.5" r="1.6"/><circle cx="426.5" cy="245.5" r="1.6"/><circle cx="417.6" cy="270.4" r="1.6"/><circle cx="456.5" cy="248.6" r="1.6"/><circle cx="455.1" cy="259.9" r="1.6"/><circle cx="420.5" cy="252.2" r="1.6"/><circle cx="412.2" cy="271.3" r="1.6"/><circle cx="430.0" cy="272.2" r="1.6"/><circle cx="445.2" cy="269.9" r="1.6"/><circle cx="416.5" cy="247.6" r="1.6"/><circle cx="442.6" cy="265.3" r="1.6"/><circle cx="462.4" cy="272.3" r="1.6"/><circle cx="434.1" cy="253.9" r="1.6"/><circle cx="432.7" cy="257.6" r="1.6"/><circle cx="412.9" cy="265.4" r="1.6"/><circle cx="441.0" cy="263.3" r="1.6"/><circle cx="434.8" cy="254.8" r="1.6"/><circle cx="412.6" cy="257.1" r="1.6"/><circle cx="411.6" cy="270.0" r="1.6"/><circle cx="430.5" cy="271.5" r="1.6"/><circle cx="455.0" cy="264.9" r="1.6"/><circle cx="405.4" cy="238.3" r="1.6"/><circle cx="430.0" cy="248.5" r="1.6"/><circle cx="389.5" cy="260.1" r="1.6"/><circle cx="447.0" cy="265.9" r="1.6"/><circle cx="422.9" cy="239.0" r="1.6"/><circle cx="425.5" cy="270.1" r="1.6"/><circle cx="445.3" cy="252.8" r="1.6"/><circle cx="417.1" cy="251.5" r="1.6"/><circle cx="444.2" cy="268.8" r="1.6"/><circle cx="450.1" cy="264.4" r="1.6"/><circle cx="408.6" cy="263.3" r="1.6"/><circle cx="454.5" cy="240.3" r="1.6"/><circle cx="443.3" cy="263.9" r="1.6"/><circle cx="430.1" cy="270.2" r="1.6"/><circle cx="441.7" cy="266.8" r="1.6"/><circle cx="405.7" cy="259.7" r="1.6"/><circle cx="413.2" cy="270.7" r="1.6"/><circle cx="431.6" cy="271.6" r="1.6"/><circle cx="451.7" cy="260.4" r="1.6"/><circle cx="460.5" cy="264.2" r="1.6"/><circle cx="391.6" cy="261.5" r="1.6"/><circle cx="446.6" cy="270.3" r="1.6"/><circle cx="413.5" cy="247.2" r="1.6"/><circle cx="411.9" cy="250.5" r="1.6"/><circle cx="430.7" cy="271.0" r="1.6"/><circle cx="457.1" cy="268.5" r="1.6"/><circle cx="392.9" cy="249.2" r="1.6"/><circle cx="394.8" cy="256.8" r="1.6"/><circle cx="461.3" cy="255.3" r="1.6"/><circle cx="458.9" cy="253.0" r="1.6"/><circle cx="398.2" cy="264.4" r="1.6"/><circle cx="453.7" cy="247.7" r="1.6"/><circle cx="409.5" cy="262.9" r="1.6"/><circle cx="405.0" cy="256.8" r="1.6"/><circle cx="458.8" cy="263.6" r="1.6"/><circle cx="434.5" cy="268.1" r="1.6"/><circle cx="439.4" cy="270.4" r="1.6"/><circle cx="443.3" cy="268.0" r="1.6"/><circle cx="440.8" cy="265.9" r="1.6"/><circle cx="393.2" cy="267.5" r="1.6"/><circle cx="454.2" cy="263.4" r="1.6"/><circle cx="430.6" cy="269.8" r="1.6"/><circle cx="431.5" cy="263.3" r="1.6"/><circle cx="442.9" cy="270.5" r="1.6"/><circle cx="433.0" cy="270.8" r="1.6"/><circle cx="421.6" cy="256.3" r="1.6"/><circle cx="435.2" cy="270.2" r="1.6"/><circle cx="457.2" cy="244.9" r="1.6"/><circle cx="448.1" cy="255.6" r="1.6"/><circle cx="400.8" cy="252.8" r="1.6"/><circle cx="423.0" cy="243.8" r="1.6"/><circle cx="412.0" cy="256.2" r="1.6"/><circle cx="403.5" cy="253.7" r="1.6"/><circle cx="390.2" cy="256.0" r="1.6"/><circle cx="410.8" cy="248.1" r="1.6"/><circle cx="434.2" cy="264.8" r="1.6"/><circle cx="427.9" cy="254.2" r="1.6"/><circle cx="393.3" cy="271.1" r="1.6"/><circle cx="457.7" cy="262.7" r="1.6"/><circle cx="461.5" cy="267.3" r="1.6"/><circle cx="451.5" cy="270.1" r="1.6"/><circle cx="406.8" cy="268.2" r="1.6"/><circle cx="425.9" cy="267.6" r="1.6"/><circle cx="407.3" cy="263.1" r="1.6"/><circle cx="454.3" cy="271.5" r="1.6"/><circle cx="456.2" cy="258.8" r="1.6"/><circle cx="439.7" cy="266.7" r="1.6"/><circle cx="452.6" cy="269.3" r="1.6"/><circle cx="451.0" cy="242.9" r="1.6"/><circle cx="443.3" cy="255.6" r="1.6"/><circle cx="429.5" cy="261.8" r="1.6"/><circle cx="421.0" cy="252.5" r="1.6"/><circle cx="452.6" cy="271.2" r="1.6"/><circle cx="443.0" cy="256.6" r="1.6"/><circle cx="462.7" cy="264.8" r="1.6"/><circle cx="415.7" cy="263.8" r="1.6"/><circle cx="406.5" cy="252.1" r="1.6"/><circle cx="437.2" cy="262.3" r="1.6"/><circle cx="409.1" cy="268.6" r="1.6"/><circle cx="447.2" cy="261.7" r="1.6"/><circle cx="400.3" cy="262.8" r="1.6"/><circle cx="427.3" cy="246.8" r="1.6"/><circle cx="424.7" cy="242.3" r="1.6"/><circle cx="440.3" cy="266.8" r="1.6"/><circle cx="418.2" cy="270.8" r="1.6"/><circle cx="394.3" cy="268.3" r="1.6"/><circle cx="417.7" cy="271.5" r="1.6"/><circle cx="451.4" cy="268.4" r="1.6"/><circle cx="424.0" cy="269.2" r="1.6"/><circle cx="422.4" cy="259.1" r="1.6"/><circle cx="403.2" cy="245.7" r="1.6"/><circle cx="399.6" cy="267.1" r="1.6"/><circle cx="453.3" cy="270.5" r="1.6"/><circle cx="415.8" cy="240.7" r="1.6"/><circle cx="427.8" cy="236.5" r="1.6"/><circle cx="461.7" cy="260.3" r="1.6"/><circle cx="454.5" cy="243.5" r="1.6"/><circle cx="400.3" cy="251.4" r="1.6"/><circle cx="391.3" cy="270.8" r="1.6"/><circle cx="458.6" cy="247.9" r="1.6"/><circle cx="427.0" cy="259.4" r="1.6"/><circle cx="456.3" cy="268.6" r="1.6"/><circle cx="437.2" cy="243.7" r="1.6"/><circle cx="438.4" cy="262.6" r="1.6"/><circle cx="422.9" cy="270.1" r="1.6"/><circle cx="420.7" cy="268.2" r="1.6"/><circle cx="455.5" cy="270.7" r="1.6"/><circle cx="430.9" cy="260.8" r="1.6"/><circle cx="415.7" cy="258.9" r="1.6"/><circle cx="426.0" cy="248.3" r="1.6"/><circle cx="460.1" cy="244.8" r="1.6"/><circle cx="460.6" cy="270.4" r="1.6"/><circle cx="425.2" cy="259.1" r="1.6"/><circle cx="412.3" cy="270.8" r="1.6"/><circle cx="449.7" cy="253.1" r="1.6"/><circle cx="436.2" cy="271.4" r="1.6"/><circle cx="441.9" cy="237.6" r="1.6"/><circle cx="412.9" cy="270.0" r="1.6"/><circle cx="450.8" cy="254.4" r="1.6"/><circle cx="449.1" cy="264.6" r="1.6"/><circle cx="436.6" cy="266.9" r="1.6"/><circle cx="451.7" cy="259.7" r="1.6"/><circle cx="433.9" cy="269.9" r="1.6"/><circle cx="434.6" cy="257.7" r="1.6"/><circle cx="433.3" cy="264.9" r="1.6"/><circle cx="460.3" cy="262.7" r="1.6"/><circle cx="398.4" cy="254.2" r="1.6"/><circle cx="445.4" cy="269.4" r="1.6"/><circle cx="453.0" cy="246.1" r="1.6"/><circle cx="461.5" cy="269.3" r="1.6"/><circle cx="445.0" cy="267.6" r="1.6"/><circle cx="392.7" cy="267.5" r="1.6"/><circle cx="437.5" cy="266.1" r="1.6"/><circle cx="402.0" cy="254.0" r="1.6"/><circle cx="451.7" cy="244.7" r="1.6"/><circle cx="431.6" cy="272.0" r="1.6"/><circle cx="446.2" cy="257.2" r="1.6"/><circle cx="431.2" cy="250.9" r="1.6"/><circle cx="412.3" cy="237.1" r="1.6"/><circle cx="460.6" cy="264.4" r="1.6"/><circle cx="420.2" cy="248.4" r="1.6"/><circle cx="434.1" cy="256.3" r="1.6"/><circle cx="399.7" cy="252.4" r="1.6"/><circle cx="401.7" cy="243.7" r="1.6"/><circle cx="399.7" cy="269.6" r="1.6"/><circle cx="459.3" cy="263.6" r="1.6"/><circle cx="449.8" cy="256.2" r="1.6"/><circle cx="432.0" cy="256.2" r="1.6"/><circle cx="407.6" cy="269.0" r="1.6"/><circle cx="456.6" cy="247.9" r="1.6"/><circle cx="456.8" cy="243.6" r="1.6"/><circle cx="427.4" cy="269.4" r="1.6"/><circle cx="421.7" cy="252.5" r="1.6"/><circle cx="422.2" cy="258.1" r="1.6"/><circle cx="429.4" cy="239.9" r="1.6"/><circle cx="424.4" cy="243.4" r="1.6"/><circle cx="439.9" cy="245.5" r="1.6"/><circle cx="433.8" cy="268.7" r="1.6"/><circle cx="443.0" cy="239.9" r="1.6"/><circle cx="402.0" cy="251.1" r="1.6"/><circle cx="430.6" cy="267.2" r="1.6"/><circle cx="426.0" cy="271.4" r="1.6"/><circle cx="438.5" cy="266.9" r="1.6"/><circle cx="419.4" cy="247.0" r="1.6"/><circle cx="434.9" cy="240.7" r="1.6"/><circle cx="449.3" cy="261.8" r="1.6"/><circle cx="429.6" cy="258.2" r="1.6"/><circle cx="440.4" cy="251.3" r="1.6"/><circle cx="457.8" cy="240.3" r="1.6"/><circle cx="429.9" cy="253.5" r="1.6"/><circle cx="447.8" cy="257.1" r="1.6"/><circle cx="460.2" cy="250.9" r="1.6"/><circle cx="389.7" cy="237.3" r="1.6"/><circle cx="440.3" cy="261.5" r="1.6"/><circle cx="417.8" cy="268.7" r="1.6"/><circle cx="428.0" cy="272.0" r="1.6"/><circle cx="413.7" cy="240.4" r="1.6"/><circle cx="433.7" cy="271.3" r="1.6"/><circle cx="431.8" cy="269.0" r="1.6"/><circle cx="449.8" cy="264.7" r="1.6"/><circle cx="420.7" cy="266.8" r="1.6"/><circle cx="444.3" cy="239.0" r="1.6"/><circle cx="419.4" cy="267.2" r="1.6"/><circle cx="436.1" cy="269.6" r="1.6"/><circle cx="462.4" cy="261.3" r="1.6"/><circle cx="455.4" cy="258.9" r="1.6"/><circle cx="449.1" cy="269.9" r="1.6"/><circle cx="416.7" cy="268.7" r="1.6"/><circle cx="426.1" cy="268.6" r="1.6"/><circle cx="416.2" cy="268.9" r="1.6"/><circle cx="397.5" cy="235.7" r="1.6"/><circle cx="444.9" cy="265.6" r="1.6"/><circle cx="426.7" cy="264.0" r="1.6"/><circle cx="434.6" cy="252.1" r="1.6"/><circle cx="427.8" cy="262.9" r="1.6"/><circle cx="443.4" cy="252.9" r="1.6"/><circle cx="432.6" cy="267.0" r="1.6"/><circle cx="457.5" cy="267.1" r="1.6"/><circle cx="461.8" cy="268.2" r="1.6"/><circle cx="454.8" cy="269.4" r="1.6"/><circle cx="410.2" cy="270.5" r="1.6"/><circle cx="455.6" cy="269.9" r="1.6"/><circle cx="443.1" cy="258.5" r="1.6"/><circle cx="421.2" cy="236.3" r="1.6"/><circle cx="428.7" cy="270.7" r="1.6"/><circle cx="460.2" cy="247.5" r="1.6"/><circle cx="459.1" cy="250.1" r="1.6"/><circle cx="433.9" cy="255.7" r="1.6"/><circle cx="452.0" cy="268.8" r="1.6"/><circle cx="441.0" cy="258.9" r="1.6"/><circle cx="459.9" cy="272.2" r="1.6"/><circle cx="462.5" cy="255.8" r="1.6"/><circle cx="441.3" cy="257.4" r="1.6"/><circle cx="435.6" cy="267.8" r="1.6"/><circle cx="416.2" cy="270.4" r="1.6"/><circle cx="412.7" cy="251.3" r="1.6"/><circle cx="429.2" cy="251.1" r="1.6"/><circle cx="449.5" cy="271.6" r="1.6"/><circle cx="463.4" cy="270.3" r="1.6"/><circle cx="412.7" cy="264.9" r="1.6"/><circle cx="445.9" cy="270.7" r="1.6"/><circle cx="457.8" cy="267.1" r="1.6"/><circle cx="415.6" cy="264.0" r="1.6"/><circle cx="422.3" cy="264.0" r="1.6"/><circle cx="450.2" cy="260.3" r="1.6"/><circle cx="432.4" cy="271.5" r="1.6"/><circle cx="460.1" cy="272.0" r="1.6"/><circle cx="430.5" cy="254.4" r="1.6"/><circle cx="426.8" cy="270.0" r="1.6"/><circle cx="459.0" cy="272.2" r="1.6"/><circle cx="421.7" cy="271.5" r="1.6"/><circle cx="408.6" cy="267.9" r="1.6"/><circle cx="409.5" cy="272.0" r="1.6"/><circle cx="434.7" cy="265.9" r="1.6"/><circle cx="447.7" cy="271.7" r="1.6"/><circle cx="456.5" cy="257.5" r="1.6"/><circle cx="432.3" cy="269.9" r="1.6"/><circle cx="455.8" cy="267.0" r="1.6"/><circle cx="434.2" cy="263.6" r="1.6"/><circle cx="413.2" cy="268.8" r="1.6"/><circle cx="442.0" cy="265.2" r="1.6"/><circle cx="463.4" cy="253.4" r="1.6"/><circle cx="448.0" cy="264.0" r="1.6"/><circle cx="439.7" cy="256.7" r="1.6"/><circle cx="436.2" cy="268.7" r="1.6"/><circle cx="446.2" cy="271.0" r="1.6"/><circle cx="433.8" cy="268.8" r="1.6"/><circle cx="447.7" cy="268.2" r="1.6"/><circle cx="438.8" cy="271.9" r="1.6"/><circle cx="420.0" cy="272.4" r="1.6"/><circle cx="450.3" cy="268.4" r="1.6"/><circle cx="460.9" cy="262.5" r="1.6"/><circle cx="462.4" cy="255.8" r="1.6"/><circle cx="456.5" cy="270.0" r="1.6"/><circle cx="412.4" cy="258.0" r="1.6"/><circle cx="440.1" cy="252.9" r="1.6"/><circle cx="440.1" cy="271.5" r="1.6"/><circle cx="409.5" cy="269.1" r="1.6"/><circle cx="461.8" cy="271.0" r="1.6"/><circle cx="426.9" cy="263.0" r="1.6"/><circle cx="412.7" cy="255.5" r="1.6"/><circle cx="429.7" cy="271.6" r="1.6"/><circle cx="413.5" cy="271.9" r="1.6"/><circle cx="447.9" cy="267.0" r="1.6"/><circle cx="449.6" cy="257.9" r="1.6"/><circle cx="408.7" cy="268.4" r="1.6"/><circle cx="436.7" cy="271.7" r="1.6"/><circle cx="413.3" cy="262.6" r="1.6"/><circle cx="408.1" cy="251.0" r="1.6"/><circle cx="448.9" cy="268.8" r="1.6"/><circle cx="426.8" cy="272.0" r="1.6"/><circle cx="444.7" cy="266.6" r="1.6"/><circle cx="446.6" cy="254.8" r="1.6"/><circle cx="421.8" cy="252.7" r="1.6"/><circle cx="428.3" cy="270.6" r="1.6"/><circle cx="447.7" cy="261.6" r="1.6"/><circle cx="424.0" cy="268.2" r="1.6"/><circle cx="437.6" cy="270.3" r="1.6"/><circle cx="419.6" cy="255.8" r="1.6"/><circle cx="455.2" cy="268.3" r="1.6"/><circle cx="410.7" cy="271.3" r="1.6"/><circle cx="429.5" cy="268.1" r="1.6"/><circle cx="410.9" cy="269.5" r="1.6"/><circle cx="422.3" cy="271.3" r="1.6"/><circle cx="461.0" cy="262.9" r="1.6"/><circle cx="459.7" cy="268.1" r="1.6"/><circle cx="424.0" cy="265.1" r="1.6"/><circle cx="452.6" cy="267.6" r="1.6"/><circle cx="453.6" cy="266.0" r="1.6"/><circle cx="461.7" cy="269.6" r="1.6"/><circle cx="414.3" cy="259.7" r="1.6"/><circle cx="445.4" cy="257.1" r="1.6"/><circle cx="424.9" cy="261.7" r="1.6"/><circle cx="424.1" cy="267.5" r="1.6"/><circle cx="451.9" cy="256.1" r="1.6"/><circle cx="444.1" cy="268.7" r="1.6"/><circle cx="459.2" cy="266.5" r="1.6"/><circle cx="446.0" cy="258.1" r="1.6"/><circle cx="439.6" cy="266.0" r="1.6"/><circle cx="411.7" cy="264.1" r="1.6"/><circle cx="441.5" cy="267.1" r="1.6"/><circle cx="453.9" cy="270.6" r="1.6"/><circle cx="443.8" cy="261.5" r="1.6"/><circle cx="447.2" cy="272.2" r="1.6"/><circle cx="460.4" cy="268.9" r="1.6"/><circle cx="452.2" cy="253.6" r="1.6"/><circle cx="446.7" cy="263.0" r="1.6"/><circle cx="449.1" cy="264.7" r="1.6"/><circle cx="454.8" cy="268.8" r="1.6"/><circle cx="422.6" cy="270.2" r="1.6"/><circle cx="423.2" cy="272.2" r="1.6"/><circle cx="410.7" cy="270.5" r="1.6"/><circle cx="458.1" cy="262.1" r="1.6"/><circle cx="447.4" cy="266.8" r="1.6"/><circle cx="433.0" cy="271.3" r="1.6"/><circle cx="457.9" cy="262.2" r="1.6"/><circle cx="426.8" cy="270.9" r="1.6"/><circle cx="459.1" cy="268.9" r="1.6"/><circle cx="452.5" cy="255.6" r="1.6"/><circle cx="416.4" cy="261.5" r="1.6"/><circle cx="413.7" cy="265.7" r="1.6"/><circle cx="448.9" cy="272.3" r="1.6"/><circle cx="448.1" cy="272.2" r="1.6"/><circle cx="426.1" cy="270.6" r="1.6"/><circle cx="451.1" cy="263.8" r="1.6"/><circle cx="433.3" cy="258.4" r="1.6"/><circle cx="431.9" cy="261.1" r="1.6"/><circle cx="444.6" cy="264.2" r="1.6"/><circle cx="420.4" cy="262.4" r="1.6"/><circle cx="455.1" cy="265.8" r="1.6"/><circle cx="456.6" cy="271.5" r="1.6"/><circle cx="448.7" cy="267.3" r="1.6"/><circle cx="416.8" cy="268.3" r="1.6"/><circle cx="427.7" cy="270.9" r="1.6"/><circle cx="425.2" cy="264.0" r="1.6"/><circle cx="455.0" cy="263.5" r="1.6"/><circle cx="422.8" cy="260.6" r="1.6"/><circle cx="413.3" cy="269.3" r="1.6"/><circle cx="456.6" cy="266.0" r="1.6"/><circle cx="447.3" cy="267.9" r="1.6"/><circle cx="419.8" cy="272.4" r="1.6"/><circle cx="455.7" cy="267.6" r="1.6"/><circle cx="452.1" cy="268.2" r="1.6"/><circle cx="413.8" cy="269.9" r="1.6"/><circle cx="432.2" cy="264.9" r="1.6"/><circle cx="439.3" cy="263.5" r="1.6"/><circle cx="461.3" cy="263.7" r="1.6"/><circle cx="454.7" cy="270.7" r="1.6"/><circle cx="454.3" cy="271.0" r="1.6"/><circle cx="448.2" cy="270.6" r="1.6"/><circle cx="459.7" cy="265.5" r="1.6"/><circle cx="419.7" cy="261.3" r="1.6"/><circle cx="443.5" cy="264.7" r="1.6"/><circle cx="427.2" cy="268.6" r="1.6"/><circle cx="452.3" cy="269.0" r="1.6"/><circle cx="453.5" cy="257.5" r="1.6"/><circle cx="448.0" cy="269.1" r="1.6"/><circle cx="458.4" cy="262.0" r="1.6"/><circle cx="417.0" cy="266.3" r="1.6"/><circle cx="459.9" cy="254.3" r="1.6"/><circle cx="417.6" cy="272.2" r="1.6"/><circle cx="436.6" cy="268.1" r="1.6"/><circle cx="435.4" cy="265.3" r="1.6"/><circle cx="433.6" cy="262.4" r="1.6"/><circle cx="455.3" cy="270.2" r="1.6"/><circle cx="424.3" cy="272.1" r="1.6"/><circle cx="448.7" cy="260.2" r="1.6"/><circle cx="453.7" cy="271.6" r="1.6"/><circle cx="461.0" cy="259.3" r="1.6"/><circle cx="418.4" cy="265.6" r="1.6"/><circle cx="443.9" cy="260.5" r="1.6"/><circle cx="450.4" cy="269.3" r="1.6"/><circle cx="438.9" cy="265.5" r="1.6"/><circle cx="426.7" cy="266.5" r="1.6"/><circle cx="430.7" cy="268.3" r="1.6"/><circle cx="457.4" cy="263.9" r="1.6"/><circle cx="428.4" cy="266.4" r="1.6"/><circle cx="446.6" cy="271.9" r="1.6"/><circle cx="454.3" cy="266.7" r="1.6"/><circle cx="419.5" cy="263.0" r="1.6"/><circle cx="418.7" cy="270.2" r="1.6"/><circle cx="441.4" cy="257.5" r="1.6"/><circle cx="465.5" cy="269.9" r="1.6"/><circle cx="464.5" cy="271.1" r="1.6"/><circle cx="465.5" cy="266.8" r="1.6"/><circle cx="465.3" cy="264.6" r="1.6"/><circle cx="465.4" cy="271.3" r="1.6"/><circle cx="466.0" cy="240.3" r="1.6"/><circle cx="466.0" cy="238.4" r="1.6"/><circle cx="465.5" cy="254.5" r="1.6"/><circle cx="465.8" cy="234.5" r="1.6"/><circle cx="466.3" cy="265.9" r="1.6"/><circle cx="465.4" cy="264.9" r="1.6"/><circle cx="466.1" cy="260.2" r="1.6"/><circle cx="465.2" cy="249.6" r="1.6"/><circle cx="465.3" cy="271.0" r="1.6"/><circle cx="466.1" cy="270.3" r="1.6"/><circle cx="464.9" cy="250.6" r="1.6"/><circle cx="465.7" cy="252.9" r="1.6"/><circle cx="464.1" cy="270.6" r="1.6"/><circle cx="465.5" cy="248.8" r="1.6"/><circle cx="466.0" cy="245.9" r="1.6"/><circle cx="465.2" cy="271.4" r="1.6"/><circle cx="465.6" cy="260.3" r="1.6"/><circle cx="464.9" cy="248.2" r="1.6"/><circle cx="465.3" cy="242.2" r="1.6"/><circle cx="465.6" cy="267.4" r="1.6"/><circle cx="465.4" cy="267.3" r="1.6"/><circle cx="465.5" cy="258.5" r="1.6"/><circle cx="466.0" cy="243.2" r="1.6"/><circle cx="465.3" cy="262.8" r="1.6"/><circle cx="465.5" cy="259.5" r="1.6"/><circle cx="465.5" cy="271.9" r="1.6"/><circle cx="465.4" cy="271.2" r="1.6"/><circle cx="466.0" cy="271.0" r="1.6"/><circle cx="466.2" cy="271.5" r="1.6"/><circle cx="465.8" cy="271.6" r="1.6"/><circle cx="466.2" cy="237.5" r="1.6"/><circle cx="465.4" cy="269.8" r="1.6"/><circle cx="465.2" cy="266.6" r="1.6"/><circle cx="465.5" cy="271.9" r="1.6"/><circle cx="465.1" cy="238.4" r="1.6"/><circle cx="466.2" cy="259.8" r="1.6"/><circle cx="464.9" cy="264.0" r="1.6"/><circle cx="466.6" cy="233.9" r="1.6"/><circle cx="464.9" cy="254.0" r="1.6"/><circle cx="465.6" cy="249.8" r="1.6"/><circle cx="464.8" cy="265.3" r="1.6"/><circle cx="465.3" cy="272.0" r="1.6"/><circle cx="466.1" cy="256.5" r="1.6"/><circle cx="466.0" cy="239.3" r="1.6"/><circle cx="465.5" cy="237.0" r="1.6"/><circle cx="464.7" cy="247.8" r="1.6"/><circle cx="465.0" cy="248.2" r="1.6"/><circle cx="465.3" cy="268.4" r="1.6"/><circle cx="465.0" cy="251.4" r="1.6"/><circle cx="465.8" cy="249.4" r="1.6"/><circle cx="465.9" cy="243.7" r="1.6"/><circle cx="465.4" cy="260.8" r="1.6"/><circle cx="465.1" cy="248.4" r="1.6"/><circle cx="464.6" cy="239.8" r="1.6"/><circle cx="465.3" cy="254.3" r="1.6"/><circle cx="380.4" cy="170.7" r="1.6"/></g>
<line x1="348.9" y1="272.4" x2="589.4" y2="272.4" stroke="#231f20" stroke-width="1.1" stroke-dasharray="1.2 1.6"/>
<line x1="348.9" y1="156.4" x2="348.9" y2="294.5" stroke="#231f20" stroke-width="1.3"/>
<line x1="348.3" y1="293.9" x2="589.4" y2="293.9" stroke="#231f20" stroke-width="1.3"/>
<text x="347.3" y="182.1" text-anchor="end">30</text>
<text x="347.3" y="218.0" text-anchor="end">20</text>
<text x="347.3" y="253.3" text-anchor="end">10</text>
<text x="347.3" y="289.2" text-anchor="end">0</text>
<text x="399.0" y="301.8" text-anchor="middle">−10</text>
<text x="468.0" y="301.8" text-anchor="middle">0</text>
<text x="542.9" y="301.8" text-anchor="middle">10</text>
<text x="442.5" y="311">log<tspan font-size="6" dy="2">2</tspan><tspan dy="-2">fold change</tspan></text>
<text transform="translate(329.4,226.8) rotate(-90)" text-anchor="middle">−log<tspan font-size="6" dy="2">2</tspan><tspan dy="-2">(</tspan><tspan font-style="italic">p</tspan>−value)</text>
<text x="361.7" y="207.3">n=1027</text>
<text x="542.2" y="207.3">n=245</text>
<text x="398.4" y="191.7" font-size="6.7">SRSF7</text>
<text x="415.9" y="198.2" font-size="6.7">RNPS1</text>
<text x="419.9" y="215.1" font-size="6.7">SMU1</text>
<text x="439.9" y="223.6" font-size="6.7">CWC15</text>
<text x="414.2" y="232.0" font-size="6.7">SF3A3</text>
<text x="409.8" y="238.4" font-size="6.7">SRSF4</text>
<text x="442.2" y="254.5" font-size="6.7">SF1</text>
<text x="422.0" y="263.6" font-size="6.7">SF3A1</text>
<text x="411.5" y="268.9" font-size="6.7">SRSF6</text>
<text x="488.0" y="195.6" font-size="6.7" fill="#f37f70">RPS26</text>
<text x="474.0" y="220.6" font-size="6.7" fill="#f37f70">RPL36</text>
<text x="496.8" y="220.6" font-size="6.7" fill="#f37f70">RPL35</text>
<text x="494.2" y="230.6" font-size="6.7" fill="#f37f70">RPS18</text>
<text x="499.4" y="248.1" font-size="6.7" fill="#f37f70">SMARCA4</text>
<text x="473.1" y="253.4" font-size="6.7" fill="#f37f70">SMARCA5</text>
<text x="477.2" y="259.2" font-size="6.7" fill="#f37f70">MECP2</text>
<text x="459.0" y="264.4" font-size="6.7" fill="#f37f70">SMARCC2</text>
<text x="478.4" y="270.0" font-size="6.7" fill="#f37f70">SMARCB1</text>
<text x="494.2" y="276.1" font-size="6.7" fill="#f37f70">CTCF</text>
<circle cx="599.5" cy="202.0" r="4.6" fill="#fbd9d3"/>
<circle cx="599.5" cy="218.5" r="4.6" fill="#b0b0b0"/>
<circle cx="599.5" cy="235.2" r="4.6" fill="#eeeeee"/>
<text x="611.1" y="204.6">up</text>
<text x="611.1" y="221.5">down</text>
<text x="611.1" y="238.3">N/S</text>
<text x="1.5" y="332.7" font-size="20">D</text>
<text x="177.2" y="326.7">oligo1: old 5hmC vs young C and young mC</text>
<rect x="176.6" y="341.9" width="88.8" height="96.3" fill="none" stroke="#333" stroke-width="1.3"/>
<rect x="267.7" y="341.9" width="88.6" height="96.3" fill="none" stroke="#333" stroke-width="1.3"/>
<rect x="176.6" y="330.2" width="88.8" height="11.7" fill="#d9d9d9" stroke="#333" stroke-width="1.3"/>
<text x="221.0" y="339.4" text-anchor="middle">5hmC depleted</text>
<rect x="267.7" y="330.2" width="88.6" height="11.7" fill="#d9d9d9" stroke="#333" stroke-width="1.3"/>
<text x="312.0" y="339.4" text-anchor="middle">5hmC enriched</text>
<text x="172.9" y="349.9" font-size="6.72" text-anchor="end">phosphocreatine metabolic process</text>
<line x1="175.0" y1="347.5" x2="176.6" y2="347.5" stroke="#231f20" stroke-width="0.8"/>
<text x="172.9" y="359.4" font-size="6.72" text-anchor="end">phosphocreatine biosynthetic process</text>
<line x1="175.0" y1="357.0" x2="176.6" y2="357.0" stroke="#231f20" stroke-width="0.8"/>
<text x="172.9" y="368.8" font-size="6.72" text-anchor="end">chromatin silencing</text>
<line x1="175.0" y1="366.4" x2="176.6" y2="366.4" stroke="#231f20" stroke-width="0.8"/>
<text x="172.9" y="378.3" font-size="6.72" text-anchor="end">mitochondrial respiratory chain complex I assembly</text>
<line x1="175.0" y1="375.9" x2="176.6" y2="375.9" stroke="#231f20" stroke-width="0.8"/>
<text x="172.9" y="387.7" font-size="6.72" text-anchor="end">mitochondrial ATP synthesis coupled proton transport</text>
<line x1="175.0" y1="385.3" x2="176.6" y2="385.3" stroke="#231f20" stroke-width="0.8"/>
<text x="172.9" y="397.2" font-size="6.72" text-anchor="end">mRNA processing</text>
<line x1="175.0" y1="394.8" x2="176.6" y2="394.8" stroke="#231f20" stroke-width="0.8"/>
<text x="172.9" y="406.7" font-size="6.72" text-anchor="end">RNA splicing</text>
<line x1="175.0" y1="404.3" x2="176.6" y2="404.3" stroke="#231f20" stroke-width="0.8"/>
<text x="172.9" y="416.1" font-size="6.72" text-anchor="end">fatty acid metabolic process</text>
<line x1="175.0" y1="413.7" x2="176.6" y2="413.7" stroke="#231f20" stroke-width="0.8"/>
<text x="172.9" y="425.6" font-size="6.72" text-anchor="end">translation</text>
<line x1="175.0" y1="423.2" x2="176.6" y2="423.2" stroke="#231f20" stroke-width="0.8"/>
<text x="172.9" y="435.0" font-size="6.72" text-anchor="end">lipid metabolic process</text>
<line x1="175.0" y1="432.6" x2="176.6" y2="432.6" stroke="#231f20" stroke-width="0.8"/>
<text transform="translate(9.3,389.9) rotate(-90)" font-size="9.2" text-anchor="middle" fill="#2a2a2a">GO biological process</text>
<circle cx="261.2" cy="347.5" r="1.2" fill="#7b4fb0"/>
<circle cx="220.6" cy="357.0" r="1.2" fill="#3f51b5"/>
<circle cx="184.0" cy="366.4" r="2.1" fill="#4053b0"/>
<circle cx="181.5" cy="394.8" r="3.0" fill="#ee2a2a"/>
<circle cx="181.5" cy="404.3" r="2.7" fill="#c21e9e"/>
<circle cx="274.2" cy="375.9" r="2.3" fill="#8a48a8"/>
<circle cx="273.8" cy="385.3" r="2.3" fill="#8a48a8"/>
<circle cx="272.6" cy="413.7" r="2.6" fill="#8d3fa3"/>
<circle cx="272.3" cy="423.2" r="2.7" fill="#8d3fa3"/>
<circle cx="272.0" cy="432.6" r="3.7" fill="#d6267d"/>
<line x1="179.6" y1="438.2" x2="179.6" y2="439.8" stroke="#231f20" stroke-width="0.8"/>
<line x1="199.8" y1="438.2" x2="199.8" y2="439.8" stroke="#231f20" stroke-width="0.8"/>
<line x1="220.0" y1="438.2" x2="220.0" y2="439.8" stroke="#231f20" stroke-width="0.8"/>
<line x1="240.2" y1="438.2" x2="240.2" y2="439.8" stroke="#231f20" stroke-width="0.8"/>
<line x1="260.4" y1="438.2" x2="260.4" y2="439.8" stroke="#231f20" stroke-width="0.8"/>
<line x1="271.0" y1="438.2" x2="271.0" y2="439.8" stroke="#231f20" stroke-width="0.8"/>
<line x1="291.2" y1="438.2" x2="291.2" y2="439.8" stroke="#231f20" stroke-width="0.8"/>
<line x1="311.4" y1="438.2" x2="311.4" y2="439.8" stroke="#231f20" stroke-width="0.8"/>
<line x1="331.6" y1="438.2" x2="331.6" y2="439.8" stroke="#231f20" stroke-width="0.8"/>
<line x1="351.8" y1="438.2" x2="351.8" y2="439.8" stroke="#231f20" stroke-width="0.8"/>
<text x="176.7" y="447.6" text-anchor="middle">0</text>
<text x="199.7" y="447.6" text-anchor="middle">100</text>
<text x="219.8" y="447.6" text-anchor="middle">200</text>
<text x="240.0" y="447.6" text-anchor="middle">300</text>
<text x="259.6" y="447.6" text-anchor="middle">400</text>
<text x="271.0" y="447.6" text-anchor="middle">0</text>
<text x="291.4" y="447.6" text-anchor="middle">100</text>
<text x="311.4" y="447.6" text-anchor="middle">200</text>
<text x="331.5" y="447.6" text-anchor="middle">300</text>
<text x="351.7" y="447.6" text-anchor="middle">400</text>
<text x="275.3" y="457.7" text-anchor="middle">fold enrichment</text>
<rect x="361.3" y="330.3" width="63.4" height="53.6" fill="none" stroke="#222" stroke-width="1.3"/>
<text x="362.1" y="338.3">−log<tspan font-size="6" dy="2">10</tspan><tspan dy="-2">(</tspan><tspan font-style="italic">p</tspan> value)</text>
<rect x="364.2" y="342.2" width="7.9" height="39.3" fill="url(#cbar1)"/>
<line x1="364.2" y1="346.1" x2="365.8" y2="346.1" stroke="#fff" stroke-width="0.6"/>
<line x1="370.5" y1="346.1" x2="372.1" y2="346.1" stroke="#fff" stroke-width="0.6"/>
<text x="374.0" y="349.3">4.5</text>
<line x1="364.2" y1="353.6" x2="365.8" y2="353.6" stroke="#fff" stroke-width="0.6"/>
<line x1="370.5" y1="353.6" x2="372.1" y2="353.6" stroke="#fff" stroke-width="0.6"/>
<text x="374.0" y="356.8">4.0</text>
<line x1="364.2" y1="361.2" x2="365.8" y2="361.2" stroke="#fff" stroke-width="0.6"/>
<line x1="370.5" y1="361.2" x2="372.1" y2="361.2" stroke="#fff" stroke-width="0.6"/>
<text x="374.0" y="364.4">3.5</text>
<line x1="364.2" y1="368.3" x2="365.8" y2="368.3" stroke="#fff" stroke-width="0.6"/>
<line x1="370.5" y1="368.3" x2="372.1" y2="368.3" stroke="#fff" stroke-width="0.6"/>
<text x="374.0" y="371.5">3.0</text>
<line x1="364.2" y1="375.8" x2="365.8" y2="375.8" stroke="#fff" stroke-width="0.6"/>
<line x1="370.5" y1="375.8" x2="372.1" y2="375.8" stroke="#fff" stroke-width="0.6"/>
<text x="374.0" y="379.0">2.5</text>
<rect x="361.3" y="388.5" width="63.4" height="58.8" fill="none" stroke="#222" stroke-width="1.3"/>
<text x="364.0" y="397.7">count</text>
<circle cx="368.2" cy="402.4" r="0.8" fill="#000"/>
<text x="374.8" y="405.6">2</text>
<circle cx="368.2" cy="410.0" r="1.8" fill="#000"/>
<text x="374.8" y="413.2">4</text>
<circle cx="368.2" cy="417.8" r="2.3" fill="#000"/>
<text x="374.8" y="421.0">6</text>
<circle cx="368.2" cy="425.1" r="2.7" fill="#000"/>
<text x="374.8" y="428.3">8</text>
<circle cx="368.2" cy="433.3" r="3.0" fill="#000"/>
<text x="374.8" y="436.5">10</text>
<circle cx="368.2" cy="441.2" r="3.3" fill="#000"/>
<text x="374.8" y="444.4">12</text>
<text x="1.4" y="482.7" font-size="20">E</text>
<text x="176.2" y="472.1">oligo 2: old 5hmC vs young C and young mC</text>
<rect x="185.4" y="489.3" width="74.0" height="62.5" fill="none" stroke="#333" stroke-width="1.3"/>
<rect x="261.1" y="489.3" width="74.0" height="62.5" fill="none" stroke="#333" stroke-width="1.3"/>
<rect x="185.4" y="554.7" width="74.0" height="63.1" fill="none" stroke="#333" stroke-width="1.3"/>
<rect x="261.1" y="554.7" width="74.0" height="63.1" fill="none" stroke="#333" stroke-width="1.3"/>
<rect x="185.4" y="477.0" width="74.0" height="12.3" fill="#d9d9d9" stroke="#333" stroke-width="1.3"/>
<text x="222.4" y="485.7" text-anchor="middle">5hmC depleted</text>
<rect x="261.1" y="477.0" width="74.0" height="12.3" fill="#d9d9d9" stroke="#333" stroke-width="1.3"/>
<text x="298.1" y="485.7" text-anchor="middle">5hmC enriched</text>
<rect x="335.3" y="489.3" width="21.8" height="62.5" fill="#d9d9d9" stroke="#333" stroke-width="1.3"/>
<rect x="335.3" y="554.7" width="21.8" height="63.1" fill="#d9d9d9" stroke="#333" stroke-width="1.3"/>
<text transform="translate(348.6,520.7) rotate(90)" font-size="7.8" text-anchor="middle" fill="#2a2a2a">old 5hmC vs</text>
<text transform="translate(339.3,520.7) rotate(90)" font-size="7.8" text-anchor="middle" fill="#2a2a2a">old C and mC</text>
<text transform="translate(348.6,585.6) rotate(90)" font-size="7.8" text-anchor="middle" fill="#2a2a2a">old &#160;5hmC vs</text>
<text transform="translate(339.3,585.8) rotate(90)" font-size="7.8" text-anchor="middle" fill="#2a2a2a">young C and mC</text>
<text x="183.6" y="497.6" font-size="6.72" text-anchor="end">regulation of cell fate specification</text>
<line x1="183.6" y1="495.2" x2="185.4" y2="495.2" stroke="#231f20" stroke-width="0.8"/>
<text x="183.6" y="509.6" font-size="6.72" text-anchor="end">regulation of stem cell differentiation</text>
<line x1="183.6" y1="507.2" x2="185.4" y2="507.2" stroke="#231f20" stroke-width="0.8"/>
<text x="183.6" y="521.5" font-size="6.72" text-anchor="end">chromatin remodeling</text>
<line x1="183.6" y1="519.1" x2="185.4" y2="519.1" stroke="#231f20" stroke-width="0.8"/>
<text x="183.6" y="533.7" font-size="6.72" text-anchor="end">RNA splicing</text>
<line x1="183.6" y1="531.3" x2="185.4" y2="531.3" stroke="#231f20" stroke-width="0.8"/>
<text x="183.6" y="545.6" font-size="6.72" text-anchor="end">mRNA processing</text>
<line x1="183.6" y1="543.2" x2="185.4" y2="543.2" stroke="#231f20" stroke-width="0.8"/>
<text x="183.6" y="552.7" font-size="6.72" text-anchor="end">positive regulation of substrate</text>
<line x1="183.6" y1="550.3" x2="185.4" y2="550.3" stroke="#231f20" stroke-width="0.8"/>
<text x="183.6" y="559.6" font-size="6.72" text-anchor="end">adhesion−dependent cell spreading</text>
<line x1="183.6" y1="557.2" x2="185.4" y2="557.2" stroke="#231f20" stroke-width="0.8"/>
<text x="183.6" y="566.8" font-size="6.72" text-anchor="end">negative regulation of mRNA splicing, via spliceosome</text>
<line x1="183.6" y1="564.4" x2="185.4" y2="564.4" stroke="#231f20" stroke-width="0.8"/>
<text x="183.6" y="572.4" font-size="6.72" text-anchor="end">wound healing</text>
<line x1="183.6" y1="570.0" x2="185.4" y2="570.0" stroke="#231f20" stroke-width="0.8"/>
<text x="183.6" y="578.7" font-size="6.72" text-anchor="end">transmembrane RTK signaling pathway</text>
<line x1="183.6" y1="576.3" x2="185.4" y2="576.3" stroke="#231f20" stroke-width="0.8"/>
<text x="183.6" y="584.8" font-size="6.72" text-anchor="end">cytoplasmic translation</text>
<line x1="183.6" y1="582.4" x2="185.4" y2="582.4" stroke="#231f20" stroke-width="0.8"/>
<text x="183.6" y="591.2" font-size="6.72" text-anchor="end">mRNA splicing, via spliceosome</text>
<line x1="183.6" y1="588.8" x2="185.4" y2="588.8" stroke="#231f20" stroke-width="0.8"/>
<text x="183.6" y="597.3" font-size="6.72" text-anchor="end">RNA splicing</text>
<line x1="183.6" y1="594.9" x2="185.4" y2="594.9" stroke="#231f20" stroke-width="0.8"/>
<text x="183.6" y="603.4" font-size="6.72" text-anchor="end">mRNA processing</text>
<line x1="183.6" y1="601.0" x2="185.4" y2="601.0" stroke="#231f20" stroke-width="0.8"/>
<text x="183.6" y="609.8" font-size="6.72" text-anchor="end">phosphorylation</text>
<line x1="183.6" y1="607.4" x2="185.4" y2="607.4" stroke="#231f20" stroke-width="0.8"/>
<text x="183.6" y="616.5" font-size="6.72" text-anchor="end">protein phosphorylation</text>
<line x1="183.6" y1="614.1" x2="185.4" y2="614.1" stroke="#231f20" stroke-width="0.8"/>
<text transform="translate(9.3,555.4) rotate(-90)" text-anchor="middle" fill="#2a2a2a">GO biological process</text>
<circle cx="255.6" cy="495.2" r="1.2" fill="#5a4fb8"/>
<circle cx="230.6" cy="507.2" r="1.2" fill="#5b4fb8"/>
<circle cx="195.8" cy="519.1" r="2.1" fill="#6a3fb0"/>
<circle cx="194.1" cy="531.3" r="2.2" fill="#7a3fb0"/>
<circle cx="191.9" cy="543.2" r="2.2" fill="#6a3fb0"/>
<circle cx="208.4" cy="564.4" r="2.3" fill="#9b3fa8"/>
<circle cx="197.6" cy="582.4" r="2.7" fill="#d81b8a"/>
<circle cx="195.0" cy="588.8" r="3.0" fill="#ea1f4a"/>
<circle cx="193.4" cy="594.9" r="3.2" fill="#ee2238"/>
<circle cx="192.1" cy="601.0" r="3.5" fill="#ee2222"/>
<circle cx="304.0" cy="557.2" r="1.1" fill="#4a55b8"/>
<circle cx="277.5" cy="570.0" r="1.2" fill="#4a55b8"/>
<circle cx="276.2" cy="576.3" r="1.2" fill="#4a55b8"/>
<circle cx="266.2" cy="607.4" r="2.0" fill="#3f51b5"/>
<circle cx="264.9" cy="614.1" r="2.0" fill="#3f51b5"/>
<line x1="205.6" y1="617.8" x2="205.6" y2="620.0" stroke="#231f20" stroke-width="0.8"/>
<line x1="226.2" y1="617.8" x2="226.2" y2="620.0" stroke="#231f20" stroke-width="0.8"/>
<line x1="246.8" y1="617.8" x2="246.8" y2="620.0" stroke="#231f20" stroke-width="0.8"/>
<line x1="281.3" y1="617.8" x2="281.3" y2="620.0" stroke="#231f20" stroke-width="0.8"/>
<line x1="301.9" y1="617.8" x2="301.9" y2="620.0" stroke="#231f20" stroke-width="0.8"/>
<line x1="322.5" y1="617.8" x2="322.5" y2="620.0" stroke="#231f20" stroke-width="0.8"/>
<text x="205.2" y="627.2" text-anchor="middle">20</text>
<text x="226.2" y="627.2" text-anchor="middle">40</text>
<text x="246.5" y="627.2" text-anchor="middle">60</text>
<text x="281.4" y="627.2" text-anchor="middle">20</text>
<text x="302.4" y="627.2" text-anchor="middle">40</text>
<text x="322.7" y="627.2" text-anchor="middle">60</text>
<text x="261.7" y="635.3" text-anchor="middle">fold enrichment</text>
<rect x="360.7" y="499.5" width="63.9" height="55.1" fill="none" stroke="#222" stroke-width="1.3"/>
<text x="362.1" y="509.9">−log<tspan font-size="6" dy="2">10</tspan><tspan dy="-2">(</tspan><tspan font-style="italic">p</tspan> value)</text>
<rect x="363.4" y="513.5" width="8.3" height="39.5" fill="url(#cbar2)"/>
<line x1="363.4" y1="519.3" x2="365.0" y2="519.3" stroke="#fff" stroke-width="0.6"/>
<line x1="370.1" y1="519.3" x2="371.7" y2="519.3" stroke="#fff" stroke-width="0.6"/>
<text x="373.6" y="522.5">20</text>
<line x1="363.4" y1="528.9" x2="365.0" y2="528.9" stroke="#fff" stroke-width="0.6"/>
<line x1="370.1" y1="528.9" x2="371.7" y2="528.9" stroke="#fff" stroke-width="0.6"/>
<text x="373.6" y="532.1">15</text>
<line x1="363.4" y1="538.3" x2="365.0" y2="538.3" stroke="#fff" stroke-width="0.6"/>
<line x1="370.1" y1="538.3" x2="371.7" y2="538.3" stroke="#fff" stroke-width="0.6"/>
<text x="373.6" y="541.5">10</text>
<line x1="363.4" y1="547.0" x2="365.0" y2="547.0" stroke="#fff" stroke-width="0.6"/>
<line x1="370.1" y1="547.0" x2="371.7" y2="547.0" stroke="#fff" stroke-width="0.6"/>
<text x="373.6" y="550.2">5</text>
<rect x="360.7" y="559.7" width="63.9" height="42.9" fill="none" stroke="#222" stroke-width="1.3"/>
<text x="362.7" y="567.8">count</text>
<circle cx="366.7" cy="573.6" r="1.5" fill="#000"/>
<text x="373.6" y="576.8">10</text>
<circle cx="366.7" cy="581.4" r="2.4" fill="#000"/>
<text x="373.6" y="584.6">20</text>
<circle cx="366.7" cy="589.2" r="3.0" fill="#000"/>
<text x="373.6" y="592.4">30</text>
<circle cx="366.7" cy="596.8" r="3.5" fill="#000"/>
<text x="373.6" y="600.0">40</text>
<text x="428.8" y="333.0" font-size="20">F</text>
<line x1="446.8" y1="318.5" x2="679.1" y2="318.5" stroke="#231f20" stroke-width="1.3"/>
<text x="623.5" y="326.9" text-anchor="middle">events detected</text>
<text x="625" y="337.1" text-anchor="middle">(old vs young, <tspan font-style="italic">p</tspan>&lt;0.05)</text>
<line x1="574.0" y1="340.5" x2="679.1" y2="340.5" stroke="#231f20" stroke-width="1.0"/>
<text x="558.9" y="349.5">lower inclusion;higher inclusion</text>
<line x1="574.0" y1="353.0" x2="679.1" y2="353.0" stroke="#231f20" stroke-width="1.0"/>
<text x="581.9" y="360.9">event countunique genes</text>
<text x="458.8" y="361.3">event types</text>
<line x1="444.9" y1="363.8" x2="679.1" y2="363.8" stroke="#231f20" stroke-width="1.5"/>
<line x1="442.8" y1="487.8" x2="678.6" y2="487.8" stroke="#231f20" stroke-width="1.5"/>
<rect x="500.7" y="373.3" width="22.9" height="7.0" fill="#3a3a3a" stroke="#111" stroke-width="0.9"/>
<rect x="564.5" y="373.3" width="23.2" height="7.0" fill="#3a3a3a" stroke="#111" stroke-width="0.9"/>
<rect x="536.5" y="373.9" width="15.2" height="6.4" fill="#fff" stroke="#111" stroke-width="0.9"/>
<path d="M523.6,373.3 L530.0,365.8 L536.5,373.9" fill="none" stroke="#111" stroke-width="0.9"/>
<path d="M551.7,373.9 L558.3,365.8 L564.5,373.3" fill="none" stroke="#111" stroke-width="0.9"/>
<path d="M523.6,380.3 L542.8,390.4 L564.5,380.3" fill="none" stroke="#111" stroke-width="0.9"/>
<text x="498.0" y="379.2" text-anchor="end">skipped exon</text>
<rect x="500.7" y="396.2" width="22.9" height="7.0" fill="#3a3a3a" stroke="#111" stroke-width="0.9"/>
<rect x="564.5" y="396.2" width="23.2" height="7.0" fill="#3a3a3a" stroke="#111" stroke-width="0.9"/>
<rect x="523.6" y="396.2" width="15.7" height="7.0" fill="#fff" stroke="#111" stroke-width="0.9"/>
<path d="M539.3,396.2 L553.3,389.2 L564.5,396.2" fill="none" stroke="#111" stroke-width="0.9"/>
<path d="M523.6,403.2 L542.8,413.3 L564.5,403.2" fill="none" stroke="#111" stroke-width="0.9"/>
<text x="498.0" y="399.8" text-anchor="end">alternative 5'</text>
<text x="498.0" y="408.7" text-anchor="end">splice site</text>
<rect x="500.7" y="421.9" width="22.9" height="7.7" fill="#3a3a3a" stroke="#111" stroke-width="0.9"/>
<rect x="564.5" y="421.9" width="23.2" height="7.7" fill="#3a3a3a" stroke="#111" stroke-width="0.9"/>
<rect x="548.6" y="421.9" width="15.9" height="7.7" fill="#fff" stroke="#111" stroke-width="0.9"/>
<path d="M523.6,421.9 L535.8,414.9 L548.6,421.9" fill="none" stroke="#111" stroke-width="0.9"/>
<path d="M523.6,429.6 L541.6,439.2 L564.5,429.6" fill="none" stroke="#111" stroke-width="0.9"/>
<text x="498.0" y="425.5" text-anchor="end">alternative 3'</text>
<text x="498.0" y="434.4" text-anchor="end">splice site</text>
<rect x="500.7" y="448.5" width="11.7" height="7.0" fill="#3a3a3a" stroke="#111" stroke-width="0.9"/>
<rect x="576.2" y="448.5" width="11.5" height="7.0" fill="#3a3a3a" stroke="#111" stroke-width="0.9"/>
<rect x="526.4" y="448.5" width="8.2" height="7.0" fill="#fff" stroke="#111" stroke-width="0.9"/>
<rect x="554.0" y="448.5" width="8.0" height="7.0" fill="#fff" stroke="#111" stroke-width="0.9"/>
<path d="M512.4,448.5 L519.0,442.2 L526.4,448.5" fill="none" stroke="#111" stroke-width="0.9"/>
<path d="M534.6,448.5 L553.3,439.2 L576.2,448.5" fill="none" stroke="#111" stroke-width="0.9"/>
<path d="M512.4,455.5 L531.6,466.0 L554.0,455.5" fill="none" stroke="#111" stroke-width="0.9"/>
<path d="M562.0,455.5 L569.2,463.2 L576.2,455.5" fill="none" stroke="#111" stroke-width="0.9"/>
<text x="498.0" y="448.6" text-anchor="end">mutually</text>
<text x="498.0" y="457.5" text-anchor="end">exclusive</text>
<text x="498.0" y="465.7" text-anchor="end">exon</text>
<rect x="500.7" y="473.3" width="29.3" height="7.0" fill="#3a3a3a" stroke="#111" stroke-width="0.9"/>
<rect x="558.0" y="473.3" width="29.7" height="7.0" fill="#3a3a3a" stroke="#111" stroke-width="0.9"/>
<rect x="530.0" y="473.3" width="28.0" height="7.0" fill="#fff" stroke="#111" stroke-width="0.9"/>
<path d="M530.0,473.3 L544.4,465.1 L558.0,473.3" fill="none" stroke="#111" stroke-width="0.9"/>
<text x="498.0" y="479.0" text-anchor="end">retained intron</text>
<text x="605.5" y="379.6" text-anchor="middle">126;146</text>
<text x="656.5" y="379.6" text-anchor="middle">113;133</text>
<text x="605.5" y="402.2" text-anchor="middle">25;32</text>
<text x="656.5" y="402.2" text-anchor="middle">25;31</text>
<text x="605.5" y="425.6" text-anchor="middle">69;62</text>
<text x="656.5" y="425.6" text-anchor="middle">65;59</text>
<text x="605.5" y="454.4" text-anchor="middle">25;17</text>
<text x="656.5" y="454.4" text-anchor="middle">24;17</text>
<text x="605.5" y="480.3" text-anchor="middle">53;55</text>
<text x="656.5" y="480.3" text-anchor="middle">53;55</text>
<rect x="478.9" y="569.8" width="8.5" height="9.1" fill="none" stroke="#f0604f" stroke-width="1.1"/>
<rect x="478.9" y="573.6" width="8.5" height="5.3" fill="none" stroke="#111" stroke-width="1.3"/>
<line x1="483.1" y1="578.9" x2="483.1" y2="581.9" stroke="#231f20" stroke-width="1.0"/>
<rect x="490.9" y="521.1" width="7.9" height="57.8" fill="none" stroke="#f0604f" stroke-width="1.1"/>
<rect x="490.9" y="554.1" width="7.9" height="24.8" fill="none" stroke="#111" stroke-width="1.3"/>
<line x1="494.9" y1="578.9" x2="494.9" y2="581.9" stroke="#231f20" stroke-width="1.0"/>
<rect x="519.7" y="577.5" width="8.5" height="1.4" fill="none" stroke="#f0604f" stroke-width="1.1"/>
<rect x="519.7" y="578.5" width="8.5" height="0.4" fill="none" stroke="#111" stroke-width="1.3"/>
<line x1="524.0" y1="578.9" x2="524.0" y2="581.9" stroke="#231f20" stroke-width="1.0"/>
<rect x="531.1" y="566.0" width="8.5" height="12.9" fill="none" stroke="#f0604f" stroke-width="1.1"/>
<rect x="531.1" y="572.2" width="8.5" height="6.7" fill="none" stroke="#111" stroke-width="1.3"/>
<line x1="535.4" y1="578.9" x2="535.4" y2="581.9" stroke="#231f20" stroke-width="1.0"/>
<rect x="560.3" y="574.1" width="8.9" height="4.8" fill="none" stroke="#f0604f" stroke-width="1.1"/>
<rect x="560.3" y="576.5" width="8.9" height="2.4" fill="none" stroke="#111" stroke-width="1.3"/>
<line x1="564.8" y1="578.9" x2="564.8" y2="581.9" stroke="#231f20" stroke-width="1.0"/>
<rect x="572.1" y="547.9" width="8.5" height="31.0" fill="none" stroke="#f0604f" stroke-width="1.1"/>
<rect x="572.1" y="561.2" width="8.5" height="17.7" fill="none" stroke="#111" stroke-width="1.3"/>
<line x1="576.4" y1="578.9" x2="576.4" y2="581.9" stroke="#231f20" stroke-width="1.0"/>
<rect x="601.5" y="577.5" width="8.5" height="1.4" fill="none" stroke="#f0604f" stroke-width="1.1"/>
<rect x="601.5" y="577.9" width="8.5" height="1.0" fill="none" stroke="#111" stroke-width="1.3"/>
<line x1="605.8" y1="578.9" x2="605.8" y2="581.9" stroke="#231f20" stroke-width="1.0"/>
<rect x="612.5" y="570.3" width="8.9" height="8.6" fill="none" stroke="#f0604f" stroke-width="1.1"/>
<rect x="612.5" y="572.7" width="8.9" height="6.2" fill="none" stroke="#111" stroke-width="1.3"/>
<line x1="617.0" y1="578.9" x2="617.0" y2="581.9" stroke="#231f20" stroke-width="1.0"/>
<rect x="642.3" y="573.2" width="8.5" height="5.7" fill="none" stroke="#f0604f" stroke-width="1.1"/>
<rect x="642.3" y="576.0" width="8.5" height="2.9" fill="none" stroke="#111" stroke-width="1.3"/>
<line x1="646.5" y1="578.9" x2="646.5" y2="581.9" stroke="#231f20" stroke-width="1.0"/>
<rect x="653.3" y="544.1" width="8.9" height="34.8" fill="none" stroke="#f0604f" stroke-width="1.1"/>
<rect x="653.3" y="562.2" width="8.9" height="16.7" fill="none" stroke="#111" stroke-width="1.3"/>
<line x1="657.8" y1="578.9" x2="657.8" y2="581.9" stroke="#231f20" stroke-width="1.0"/>
<line x1="473.8" y1="506.7" x2="473.8" y2="579.5" stroke="#231f20" stroke-width="1.3"/>
<line x1="473.8" y1="578.9" x2="676.4" y2="578.9" stroke="#231f20" stroke-width="1.3"/>
<line x1="471.3" y1="578.9" x2="473.8" y2="578.9" stroke="#231f20" stroke-width="1.0"/>
<text x="470.8" y="582.1" text-anchor="end">0</text>
<line x1="471.3" y1="555.0" x2="473.8" y2="555.0" stroke="#231f20" stroke-width="1.0"/>
<text x="470.8" y="558.2" text-anchor="end">50</text>
<line x1="471.3" y1="531.2" x2="473.8" y2="531.2" stroke="#231f20" stroke-width="1.0"/>
<text x="470.8" y="534.4" text-anchor="end">100</text>
<line x1="471.3" y1="507.3" x2="473.8" y2="507.3" stroke="#231f20" stroke-width="1.0"/>
<text x="470.8" y="510.5" text-anchor="end">150</text>
<text transform="translate(452.3,544.1) rotate(-90)" text-anchor="middle" fill="#2a2a2a">unique genes</text>
<text x="475.1" y="517.5" letter-spacing="-0.45">skipped exon</text>
<text x="511.7" y="559.6">A5' splice site</text>
<text x="581.0" y="541.6" text-anchor="middle">A3' splice site</text>
<text x="612.9" y="549.2" text-anchor="middle">mutually</text>
<text x="612.9" y="557.3" text-anchor="middle">exclusive</text>
<text x="612.9" y="565.3" text-anchor="middle">exon</text>
<text x="655.6" y="528.3" text-anchor="middle">retained</text>
<text x="655.6" y="535.9" text-anchor="middle">intron</text>
<text transform="translate(484.6,587.0) rotate(-45)" text-anchor="end">low</text>
<text transform="translate(496.4,587.0) rotate(-45)" text-anchor="end">high</text>
<text transform="translate(525.5,587.0) rotate(-45)" text-anchor="end">low</text>
<text transform="translate(536.9,587.0) rotate(-45)" text-anchor="end">high</text>
<text transform="translate(566.2,587.0) rotate(-45)" text-anchor="end">low</text>
<text transform="translate(577.9,587.0) rotate(-45)" text-anchor="end">high</text>
<text transform="translate(607.2,587.0) rotate(-45)" text-anchor="end">low</text>
<text transform="translate(618.5,587.0) rotate(-45)" text-anchor="end">high</text>
<text transform="translate(648.0,587.0) rotate(-45)" text-anchor="end">low</text>
<text transform="translate(659.2,587.0) rotate(-45)" text-anchor="end">high</text>
<text x="578.6" y="608.1" text-anchor="middle">gene body 5hmC (old)</text>
<rect x="479.3" y="633.2" width="8.5" height="59.7" fill="none" stroke="#f0604f" stroke-width="1.1"/>
<rect x="479.3" y="666.8" width="8.5" height="26.1" fill="none" stroke="#111" stroke-width="1.3"/>
<line x1="483.6" y1="692.9" x2="483.6" y2="695.9" stroke="#231f20" stroke-width="1.0"/>
<rect x="490.3" y="688.2" width="8.9" height="4.7" fill="none" stroke="#f0604f" stroke-width="1.1"/>
<rect x="490.3" y="691.0" width="8.9" height="1.9" fill="none" stroke="#111" stroke-width="1.3"/>
<line x1="494.8" y1="692.9" x2="494.8" y2="695.9" stroke="#231f20" stroke-width="1.0"/>
<rect x="519.7" y="681.0" width="8.5" height="11.9" fill="none" stroke="#f0604f" stroke-width="1.1"/>
<rect x="519.7" y="688.2" width="8.5" height="4.7" fill="none" stroke="#111" stroke-width="1.3"/>
<line x1="524.0" y1="692.9" x2="524.0" y2="695.9" stroke="#231f20" stroke-width="1.0"/>
<rect x="531.1" y="692.4" width="8.5" height="0.5" fill="none" stroke="#f0604f" stroke-width="1.1"/>
<line x1="535.4" y1="692.9" x2="535.4" y2="695.9" stroke="#231f20" stroke-width="1.0"/>
<rect x="560.3" y="658.3" width="8.6" height="34.6" fill="none" stroke="#f0604f" stroke-width="1.1"/>
<rect x="560.3" y="675.8" width="8.6" height="17.1" fill="none" stroke="#111" stroke-width="1.3"/>
<line x1="564.6" y1="692.9" x2="564.6" y2="695.9" stroke="#231f20" stroke-width="1.0"/>
<rect x="571.5" y="691.0" width="8.7" height="1.9" fill="none" stroke="#f0604f" stroke-width="1.1"/>
<rect x="571.5" y="692.0" width="8.7" height="0.9" fill="none" stroke="#111" stroke-width="1.3"/>
<line x1="575.9" y1="692.9" x2="575.9" y2="695.9" stroke="#231f20" stroke-width="1.0"/>
<rect x="600.9" y="682.5" width="8.7" height="10.4" fill="none" stroke="#f0604f" stroke-width="1.1"/>
<rect x="600.9" y="688.2" width="8.7" height="4.7" fill="none" stroke="#111" stroke-width="1.3"/>
<line x1="605.2" y1="692.9" x2="605.2" y2="695.9" stroke="#231f20" stroke-width="1.0"/>
<line x1="616.4" y1="692.9" x2="616.4" y2="695.9" stroke="#231f20" stroke-width="1.0"/>
<rect x="641.3" y="670.1" width="8.6" height="22.8" fill="none" stroke="#f0604f" stroke-width="1.1"/>
<rect x="641.3" y="680.1" width="8.6" height="12.8" fill="none" stroke="#111" stroke-width="1.3"/>
<line x1="645.6" y1="692.9" x2="645.6" y2="695.9" stroke="#231f20" stroke-width="1.0"/>
<rect x="652.7" y="690.1" width="8.6" height="2.8" fill="none" stroke="#f0604f" stroke-width="1.1"/>
<rect x="652.7" y="692.0" width="8.6" height="0.9" fill="none" stroke="#111" stroke-width="1.3"/>
<line x1="657.0" y1="692.9" x2="657.0" y2="695.9" stroke="#231f20" stroke-width="1.0"/>
<line x1="474.2" y1="621.2" x2="474.2" y2="693.5" stroke="#231f20" stroke-width="1.3"/>
<line x1="474.2" y1="692.9" x2="675.5" y2="692.9" stroke="#231f20" stroke-width="1.3"/>
<line x1="471.7" y1="692.9" x2="474.2" y2="692.9" stroke="#231f20" stroke-width="1.0"/>
<text x="471.2" y="696.1" text-anchor="end">0</text>
<line x1="471.7" y1="669.2" x2="474.2" y2="669.2" stroke="#231f20" stroke-width="1.0"/>
<text x="471.2" y="672.4" text-anchor="end">50</text>
<line x1="471.7" y1="645.5" x2="474.2" y2="645.5" stroke="#231f20" stroke-width="1.0"/>
<text x="471.2" y="648.7" text-anchor="end">100</text>
<line x1="471.7" y1="621.8" x2="474.2" y2="621.8" stroke="#231f20" stroke-width="1.0"/>
<text x="471.2" y="625.0" text-anchor="end">150</text>
<text transform="translate(452.7,658.3) rotate(-90)" text-anchor="middle" fill="#2a2a2a">unique genes</text>
<text x="475.7" y="629.5" letter-spacing="-0.45">skipped exon</text>
<text x="501.7" y="675.2">A5' splice site</text>
<text x="575.0" y="651.5" text-anchor="middle">A3' splice site</text>
<text x="610.6" y="661.0" text-anchor="middle">mutually</text>
<text x="610.6" y="668.0" text-anchor="middle">exclusive</text>
<text x="610.6" y="675.6" text-anchor="middle">exon</text>
<text x="656.5" y="655.3" text-anchor="middle">retained</text>
<text x="656.5" y="662.9" text-anchor="middle">intron</text>
<text transform="translate(485.1,701.0) rotate(-45)" text-anchor="end">minimal</text>
<text transform="translate(496.2,701.0) rotate(-45)" text-anchor="end">maximal</text>
<text transform="translate(525.5,701.0) rotate(-45)" text-anchor="end">minimal</text>
<text transform="translate(536.9,701.0) rotate(-45)" text-anchor="end">maximal</text>
<text transform="translate(566.1,701.0) rotate(-45)" text-anchor="end">minimal</text>
<text transform="translate(577.4,701.0) rotate(-45)" text-anchor="end">maximal</text>
<text transform="translate(606.8,701.0) rotate(-45)" text-anchor="end">minimal</text>
<text transform="translate(617.9,701.0) rotate(-45)" text-anchor="end">maximal</text>
<text transform="translate(647.1,701.0) rotate(-45)" text-anchor="end">minimal</text>
<text transform="translate(658.5,701.0) rotate(-45)" text-anchor="end">maximal</text>
<text x="578.1" y="737.5" text-anchor="middle">mRNA |old/young|</text>
<text x="580.0" y="762.8" text-anchor="middle">inclusion difference (old vs young)</text>
<rect x="499.9" y="770.2" width="8.2" height="2.8" fill="none" stroke="#111" stroke-width="1.3"/>
<text x="512.8" y="773.5">lower inclusion</text>
<rect x="582.8" y="770.2" width="8.4" height="2.8" fill="none" stroke="#f0604f" stroke-width="1.2"/>
<text x="595.5" y="773.5">higher inclusion</text>
<text x="1.2" y="660.6" font-size="20">G</text>
<line x1="27.9" y1="671.0" x2="27.9" y2="753.2" stroke="#231f20" stroke-width="1.3"/>
<line x1="27.9" y1="752.6" x2="149.3" y2="752.6" stroke="#231f20" stroke-width="1.3"/>
<line x1="25.4" y1="752.6" x2="27.9" y2="752.6" stroke="#231f20" stroke-width="1.0"/>
<text x="24.9" y="755.8" text-anchor="end">0</text>
<line x1="25.4" y1="732.4" x2="27.9" y2="732.4" stroke="#231f20" stroke-width="1.0"/>
<text x="24.9" y="735.6" text-anchor="end">50</text>
<line x1="25.4" y1="712.1" x2="27.9" y2="712.1" stroke="#231f20" stroke-width="1.0"/>
<text x="24.9" y="715.3" text-anchor="end">100</text>
<line x1="25.4" y1="691.9" x2="27.9" y2="691.9" stroke="#231f20" stroke-width="1.0"/>
<text x="24.9" y="695.1" text-anchor="end">150</text>
<line x1="25.4" y1="671.6" x2="27.9" y2="671.6" stroke="#231f20" stroke-width="1.0"/>
<text x="24.9" y="674.8" text-anchor="end">200</text>
<text transform="translate(7.4,711.2) rotate(-90)" text-anchor="middle" fill="#2a2a2a">unique genes</text>
<rect x="31.6" y="750.6" width="4.8" height="2.0" fill="none" stroke="#111" stroke-width="1.3"/>
<rect x="37.0" y="749.4" width="5.4" height="3.2" fill="none" stroke="#f7a8a8" stroke-width="1.0"/>
<rect x="43.2" y="745.7" width="5.4" height="6.9" fill="none" stroke="#e8202a" stroke-width="1.6"/>
<rect x="55.5" y="740.5" width="5.0" height="12.2" fill="none" stroke="#111" stroke-width="1.3"/>
<rect x="61.2" y="715.3" width="5.2" height="37.3" fill="none" stroke="#f7a8a8" stroke-width="1.0"/>
<rect x="67.3" y="683.8" width="5.7" height="68.9" fill="none" stroke="#e8202a" stroke-width="1.6"/>
<rect x="103.5" y="744.1" width="6.1" height="8.5" fill="none" stroke="#111" stroke-width="1.3"/>
<rect x="109.6" y="726.3" width="5.6" height="26.3" fill="none" stroke="#f7a8a8" stroke-width="1.0"/>
<rect x="115.5" y="706.0" width="6.1" height="46.6" fill="none" stroke="#e8202a" stroke-width="1.6"/>
<rect x="128.3" y="748.6" width="5.4" height="4.1" fill="none" stroke="#111" stroke-width="1.3"/>
<rect x="134.2" y="744.5" width="5.7" height="8.1" fill="none" stroke="#f7a8a8" stroke-width="1.0"/>
<rect x="140.3" y="742.5" width="5.5" height="10.1" fill="none" stroke="#e8202a" stroke-width="1.6"/>
<line x1="40.1" y1="752.6" x2="40.1" y2="755.6" stroke="#231f20" stroke-width="1.0"/>
<line x1="64.2" y1="752.6" x2="64.2" y2="755.6" stroke="#231f20" stroke-width="1.0"/>
<line x1="88.5" y1="752.6" x2="88.5" y2="755.6" stroke="#231f20" stroke-width="1.0"/>
<line x1="112.8" y1="752.6" x2="112.8" y2="755.6" stroke="#231f20" stroke-width="1.0"/>
<line x1="137.1" y1="752.6" x2="137.1" y2="755.6" stroke="#231f20" stroke-width="1.0"/>
<text transform="translate(40.7,760) rotate(-45)" text-anchor="end">low</text>
<text transform="translate(64.7,760) rotate(-45)" text-anchor="end">high</text>
<text transform="translate(115.4,760) rotate(-45)" text-anchor="end">minimal</text>
<text transform="translate(139.7,760) rotate(-45)" text-anchor="end">maximal</text>
<line x1="27.6" y1="786.9" x2="70.6" y2="786.9" stroke="#231f20" stroke-width="1.3"/>
<line x1="102.1" y1="786.9" x2="144.9" y2="786.9" stroke="#231f20" stroke-width="1.3"/>
<text x="49.1" y="800.3" text-anchor="middle">gene body 5hmC</text>
<text x="49.1" y="810.4" text-anchor="middle">(old)</text>
<text x="121.0" y="798.7" text-anchor="middle">mRNA</text>
<text x="121.0" y="809.7" text-anchor="middle">|old vs young|</text>
<text x="85.3" y="825.2" text-anchor="middle">differential isoform usage</text>
<rect x="65.8" y="839.5" width="7.5" height="3.2" fill="none" stroke="#111" stroke-width="1.3"/>
<text x="78.3" y="843.9"><tspan font-style="italic">p</tspan>&lt;0.01</text>
<rect x="65.8" y="850.5" width="7.5" height="3.2" fill="none" stroke="#f7a8a8" stroke-width="1.0"/>
<text x="78.3" y="854.9"><tspan font-style="italic">p</tspan>&lt;0.05</text>
<rect x="65.8" y="861.7" width="7.5" height="3.2" fill="none" stroke="#e8202a" stroke-width="1.6"/>
<text x="78.3" y="866.1"><tspan font-style="italic">p</tspan>&lt;0.1</text>
<text x="167.3" y="659.3" font-size="20">H</text>
<line x1="212.1" y1="648.4" x2="430.0" y2="648.4" stroke="#231f20" stroke-width="1.3"/>
<text x="323.5" y="645.4" text-anchor="middle">|old/young|</text>
<text x="202.9" y="658.7">genes with <tspan font-style="italic">minimal change</tspan></text>
<text x="258.0" y="666.6" text-anchor="middle">with age</text>
<text x="330.3" y="658.7">genes with <tspan font-style="italic">maximal change</tspan></text>
<text x="386.0" y="666.5" text-anchor="middle">with age</text>
<path d="M217.5,744.3 L217.9,743.7 L218.4,742.9 L218.9,741.9 L219.6,740.7 L220.2,739.2 L220.8,737.5 L221.3,735.5 L221.9,733.1 L222.4,730.6 L222.9,727.8 L223.5,724.9 L224.0,722.0 L224.6,718.9 L225.1,715.5 L225.7,712.0 L226.2,708.5 L226.8,705.1 L227.3,702.0 L227.8,699.1 L228.2,696.2 L228.7,693.5 L229.1,691.0 L229.6,688.8 L230.0,687.0 L230.4,685.5 L230.9,684.4 L231.3,683.5 L231.7,682.9 L232.2,682.6 L232.6,682.5 L233.1,682.6 L233.5,682.9 L234.0,683.5 L234.5,684.4 L235.0,685.5 L235.4,687.0 L235.8,688.8 L236.2,691.1 L236.6,693.6 L237.0,696.3 L237.4,699.1 L237.8,702.0 L238.3,705.0 L238.7,708.1 L239.2,711.3 L239.7,714.6 L240.2,717.9 L240.8,721.0 L241.4,724.2 L242.1,727.4 L242.8,730.6 L243.5,733.7 L244.1,736.3 L244.8,738.5 L245.3,740.1 L245.7,741.2 L246.0,741.9 L246.5,742.4 L247.3,742.8 L248.5,743.2 L250.0,743.6 L251.8,743.8 L253.8,743.9 L256.2,744.0 L259.1,744.0 L262.6,744.1 L267.3,744.2 L273.2,744.2 L279.6,744.2 L285.8,744.2 L291.1,744.2 L294.8,744.2 L294.8,744.3 L217.5,744.3 Z" fill="rgba(60,60,60,0.6)" stroke="none" stroke-width="1"/>
<path d="M217.5,744.3 L217.9,743.7 L218.4,742.9 L218.9,741.9 L219.6,740.7 L220.2,739.2 L220.8,737.5 L221.3,735.5 L221.9,733.1 L222.4,730.6 L222.9,727.8 L223.5,724.9 L224.0,722.0 L224.6,718.9 L225.1,715.5 L225.7,712.0 L226.2,708.5 L226.8,705.1 L227.3,702.0 L227.8,699.1 L228.2,696.2 L228.7,693.5 L229.1,691.0 L229.6,688.8 L230.0,687.0 L230.4,685.5 L230.9,684.4 L231.3,683.5 L231.7,682.9 L232.2,682.6 L232.6,682.5 L233.1,682.6 L233.5,682.9 L234.0,683.5 L234.5,684.4 L235.0,685.5 L235.4,687.0 L235.8,688.8 L236.2,691.1 L236.6,693.6 L237.0,696.3 L237.4,699.1 L237.8,702.0 L238.3,705.0 L238.7,708.1 L239.2,711.3 L239.7,714.6 L240.2,717.9 L240.8,721.0 L241.4,724.2 L242.1,727.4 L242.8,730.6 L243.5,733.7 L244.1,736.3 L244.8,738.5 L245.3,740.1 L245.7,741.2 L246.0,741.9 L246.5,742.4 L247.3,742.8 L248.5,743.2 L250.0,743.6 L251.8,743.8 L253.8,743.9 L256.2,744.0 L259.1,744.0 L262.6,744.1 L267.3,744.2 L273.2,744.2 L279.6,744.2 L285.8,744.2 L291.1,744.2 L294.8,744.2" fill="none" stroke="#111" stroke-width="1.0" stroke-linejoin="round"/>
<path d="M217.2,744.3 L217.6,743.5 L218.1,742.5 L218.6,741.3 L219.3,739.8 L219.9,738.2 L220.5,736.3 L221.1,734.2 L221.6,731.8 L222.2,729.2 L222.7,726.4 L223.2,723.5 L223.8,720.6 L224.4,717.5 L224.9,714.2 L225.5,710.8 L226.1,707.4 L226.6,704.1 L227.1,700.9 L227.6,697.8 L228.0,694.6 L228.4,691.6 L228.9,688.7 L229.3,686.1 L229.7,683.8 L230.1,681.9 L230.6,680.1 L231.0,678.7 L231.4,677.6 L231.9,676.8 L232.3,676.5 L232.7,676.6 L233.2,677.1 L233.7,677.9 L234.1,679.1 L234.6,680.6 L235.0,682.5 L235.4,684.8 L235.9,687.7 L236.3,690.8 L236.7,694.2 L237.2,697.6 L237.6,700.9 L238.0,704.2 L238.4,707.5 L238.9,710.9 L239.3,714.3 L239.7,717.5 L240.2,720.6 L240.7,723.6 L241.2,726.5 L241.7,729.3 L242.3,731.9 L242.9,734.2 L243.5,736.3 L244.1,738.0 L244.6,739.5 L245.1,740.7 L245.8,741.7 L246.7,742.5 L248.1,743.2 L249.7,743.7 L251.5,743.9 L253.6,744.0 L256.1,743.9 L259.0,743.9 L262.6,743.9 L267.3,743.9 L273.2,744.0 L279.6,743.9 L285.8,743.9 L291.1,743.9 L294.8,743.9 L294.8,744.3 L217.2,744.3 Z" fill="rgba(240,90,50,0.33)" stroke="none" stroke-width="1"/>
<path d="M217.2,744.3 L217.6,743.5 L218.1,742.5 L218.6,741.3 L219.3,739.8 L219.9,738.2 L220.5,736.3 L221.1,734.2 L221.6,731.8 L222.2,729.2 L222.7,726.4 L223.2,723.5 L223.8,720.6 L224.4,717.5 L224.9,714.2 L225.5,710.8 L226.1,707.4 L226.6,704.1 L227.1,700.9 L227.6,697.8 L228.0,694.6 L228.4,691.6 L228.9,688.7 L229.3,686.1 L229.7,683.8 L230.1,681.9 L230.6,680.1 L231.0,678.7 L231.4,677.6 L231.9,676.8 L232.3,676.5 L232.7,676.6 L233.2,677.1 L233.7,677.9 L234.1,679.1 L234.6,680.6 L235.0,682.5 L235.4,684.8 L235.9,687.7 L236.3,690.8 L236.7,694.2 L237.2,697.6 L237.6,700.9 L238.0,704.2 L238.4,707.5 L238.9,710.9 L239.3,714.3 L239.7,717.5 L240.2,720.6 L240.7,723.6 L241.2,726.5 L241.7,729.3 L242.3,731.9 L242.9,734.2 L243.5,736.3 L244.1,738.0 L244.6,739.5 L245.1,740.7 L245.8,741.7 L246.7,742.5 L248.1,743.2 L249.7,743.7 L251.5,743.9 L253.6,744.0 L256.1,743.9 L259.0,743.9 L262.6,743.9 L267.3,743.9 L273.2,744.0 L279.6,743.9 L285.8,743.9 L291.1,743.9 L294.8,743.9" fill="none" stroke="#f0604f" stroke-width="1.2" stroke-linejoin="round"/>
<line x1="214.4" y1="673.3" x2="214.4" y2="748.5" stroke="#231f20" stroke-width="1.3"/>
<line x1="213.8" y1="747.9" x2="298.0" y2="747.9" stroke="#231f20" stroke-width="1.3"/>
<text x="211.5" y="690.0" text-anchor="end">0.00075</text>
<text x="211.5" y="708.4" text-anchor="end">0.00050</text>
<text x="211.5" y="727.2" text-anchor="end">0.00025</text>
<text x="211.5" y="745.6" text-anchor="end">0.00000</text>
<text x="217.8" y="756.6" text-anchor="middle">0</text>
<text x="238.7" y="756.6" text-anchor="middle">2</text>
<text x="259.7" y="756.6" text-anchor="middle">4</text>
<text x="281.0" y="756.6" text-anchor="middle">6</text>
<text x="236.6" y="679.6" font-size="7.6"><tspan font-style="italic">p</tspan>&lt;0.001</text>
<text transform="translate(176.5,710.5) rotate(-90)" text-anchor="middle" fill="#2a2a2a">transcript density</text>
<text x="255.6" y="765.5" text-anchor="middle">mean length (X1000 bp)</text>
<path d="M344.4,741.3 L344.9,739.9 L345.6,738.0 L346.4,735.6 L347.3,733.1 L348.1,730.3 L348.9,727.4 L349.6,724.3 L350.3,720.7 L351.0,717.0 L351.6,713.3 L352.3,709.7 L353.0,706.6 L353.7,703.8 L354.3,701.3 L355.0,699.0 L355.7,696.8 L356.4,694.7 L357.2,692.7 L358.0,690.6 L358.9,688.5 L359.9,686.5 L360.8,684.7 L361.8,683.5 L362.7,683.0 L363.6,683.3 L364.6,684.4 L365.6,686.0 L366.5,687.8 L367.5,689.7 L368.3,691.4 L369.1,692.8 L369.8,694.2 L370.4,695.6 L371.1,697.1 L371.7,698.9 L372.4,701.1 L373.1,703.9 L373.8,707.2 L374.5,710.8 L375.2,714.4 L375.9,717.7 L376.6,720.5 L377.3,722.7 L378.0,724.6 L378.6,726.1 L379.3,727.5 L380.0,728.9 L380.8,730.2 L381.6,731.5 L382.5,732.8 L383.4,734.0 L384.3,735.1 L385.3,736.2 L386.3,737.1 L387.4,738.0 L388.6,738.8 L389.8,739.5 L391.0,740.2 L392.2,740.7 L393.3,741.0 L394.4,741.1 L395.5,741.0 L396.5,740.8 L397.6,740.5 L398.6,740.3 L399.5,740.3 L400.3,740.5 L400.9,740.7 L401.4,741.1 L402.1,741.5 L403.0,741.8 L404.3,742.0 L406.2,742.1 L408.6,742.2 L411.3,742.2 L413.9,742.2 L416.3,742.2 L418.2,742.2 L419.5,742.2 L420.6,742.3 L421.3,742.3 L421.9,742.3 L422.3,742.4 L422.7,742.4 L422.7,742.6 L344.4,742.6 Z" fill="rgba(60,60,60,0.6)" stroke="none" stroke-width="1"/>
<path d="M344.4,741.3 L344.9,739.9 L345.6,738.0 L346.4,735.6 L347.3,733.1 L348.1,730.3 L348.9,727.4 L349.6,724.3 L350.3,720.7 L351.0,717.0 L351.6,713.3 L352.3,709.7 L353.0,706.6 L353.7,703.8 L354.3,701.3 L355.0,699.0 L355.7,696.8 L356.4,694.7 L357.2,692.7 L358.0,690.6 L358.9,688.5 L359.9,686.5 L360.8,684.7 L361.8,683.5 L362.7,683.0 L363.6,683.3 L364.6,684.4 L365.6,686.0 L366.5,687.8 L367.5,689.7 L368.3,691.4 L369.1,692.8 L369.8,694.2 L370.4,695.6 L371.1,697.1 L371.7,698.9 L372.4,701.1 L373.1,703.9 L373.8,707.2 L374.5,710.8 L375.2,714.4 L375.9,717.7 L376.6,720.5 L377.3,722.7 L378.0,724.6 L378.6,726.1 L379.3,727.5 L380.0,728.9 L380.8,730.2 L381.6,731.5 L382.5,732.8 L383.4,734.0 L384.3,735.1 L385.3,736.2 L386.3,737.1 L387.4,738.0 L388.6,738.8 L389.8,739.5 L391.0,740.2 L392.2,740.7 L393.3,741.0 L394.4,741.1 L395.5,741.0 L396.5,740.8 L397.6,740.5 L398.6,740.3 L399.5,740.3 L400.3,740.5 L400.9,740.7 L401.4,741.1 L402.1,741.5 L403.0,741.8 L404.3,742.0 L406.2,742.1 L408.6,742.2 L411.3,742.2 L413.9,742.2 L416.3,742.2 L418.2,742.2 L419.5,742.2 L420.6,742.3 L421.3,742.3 L421.9,742.3 L422.3,742.4 L422.7,742.4" fill="none" stroke="#111" stroke-width="1.0" stroke-linejoin="round"/>
<path d="M345.4,742.2 L345.9,740.4 L346.5,737.9 L347.2,735.0 L348.0,731.7 L348.8,728.2 L349.6,724.6 L350.4,720.7 L351.2,716.4 L352.0,711.9 L352.8,707.5 L353.6,703.3 L354.4,699.7 L355.2,696.6 L356.1,693.9 L357.0,691.5 L357.8,689.3 L358.6,687.4 L359.3,685.8 L359.9,684.6 L360.4,683.8 L360.8,683.3 L361.2,682.9 L361.6,682.4 L362.0,681.6 L362.5,680.4 L362.9,678.9 L363.4,677.3 L363.8,675.8 L364.3,674.8 L364.8,674.4 L365.3,674.7 L365.9,675.4 L366.5,676.5 L367.1,678.0 L367.7,679.7 L368.3,681.6 L368.9,683.8 L369.5,686.4 L370.1,689.3 L370.6,692.3 L371.2,695.3 L371.8,698.3 L372.4,701.3 L373.0,704.5 L373.5,707.7 L374.1,710.9 L374.7,713.8 L375.2,716.3 L375.7,718.4 L376.1,720.2 L376.6,721.8 L377.0,723.2 L377.5,724.6 L378.0,726.0 L378.6,727.5 L379.1,728.9 L379.8,730.4 L380.4,731.7 L381.2,733.0 L382.2,734.3 L383.3,735.5 L384.5,736.7 L385.7,737.9 L387.2,738.9 L388.8,739.9 L390.5,740.6 L392.4,741.1 L394.5,741.5 L396.8,741.7 L399.2,741.8 L401.7,741.9 L404.3,742.0 L407.3,742.1 L410.7,742.2 L414.2,742.2 L417.5,742.3 L420.4,742.3 L422.4,742.3 L422.4,742.6 L345.4,742.6 Z" fill="rgba(240,90,50,0.33)" stroke="none" stroke-width="1"/>
<path d="M345.4,742.2 L345.9,740.4 L346.5,737.9 L347.2,735.0 L348.0,731.7 L348.8,728.2 L349.6,724.6 L350.4,720.7 L351.2,716.4 L352.0,711.9 L352.8,707.5 L353.6,703.3 L354.4,699.7 L355.2,696.6 L356.1,693.9 L357.0,691.5 L357.8,689.3 L358.6,687.4 L359.3,685.8 L359.9,684.6 L360.4,683.8 L360.8,683.3 L361.2,682.9 L361.6,682.4 L362.0,681.6 L362.5,680.4 L362.9,678.9 L363.4,677.3 L363.8,675.8 L364.3,674.8 L364.8,674.4 L365.3,674.7 L365.9,675.4 L366.5,676.5 L367.1,678.0 L367.7,679.7 L368.3,681.6 L368.9,683.8 L369.5,686.4 L370.1,689.3 L370.6,692.3 L371.2,695.3 L371.8,698.3 L372.4,701.3 L373.0,704.5 L373.5,707.7 L374.1,710.9 L374.7,713.8 L375.2,716.3 L375.7,718.4 L376.1,720.2 L376.6,721.8 L377.0,723.2 L377.5,724.6 L378.0,726.0 L378.6,727.5 L379.1,728.9 L379.8,730.4 L380.4,731.7 L381.2,733.0 L382.2,734.3 L383.3,735.5 L384.5,736.7 L385.7,737.9 L387.2,738.9 L388.8,739.9 L390.5,740.6 L392.4,741.1 L394.5,741.5 L396.8,741.7 L399.2,741.8 L401.7,741.9 L404.3,742.0 L407.3,742.1 L410.7,742.2 L414.2,742.2 L417.5,742.3 L420.4,742.3 L422.4,742.3" fill="none" stroke="#f0604f" stroke-width="1.2" stroke-linejoin="round"/>
<line x1="341.4" y1="671.9" x2="341.4" y2="746.9" stroke="#231f20" stroke-width="1.3"/>
<line x1="340.8" y1="746.3" x2="424.5" y2="746.3" stroke="#231f20" stroke-width="1.3"/>
<text x="338.6" y="676.1" text-anchor="end">8e−04</text>
<text x="338.6" y="693.5" text-anchor="end">6e−04</text>
<text x="338.6" y="710.5" text-anchor="end">4e−04</text>
<text x="338.6" y="727.2" text-anchor="end">2e−04</text>
<text x="338.6" y="744.0" text-anchor="end">0e+00</text>
<text x="342.1" y="755.9" text-anchor="middle">0</text>
<text x="358.1" y="755.9" text-anchor="middle">1</text>
<text x="374.2" y="755.9" text-anchor="middle">2</text>
<text x="390.8" y="755.9" text-anchor="middle">3</text>
<text x="407.1" y="755.9" text-anchor="middle">4</text>
<text x="423.9" y="755.9" text-anchor="middle">5</text>
<text x="370.3" y="679.6" font-size="7.6"><tspan font-style="italic">p</tspan>=0.834</text>
<text transform="translate(310.2,709.0) rotate(-90)" text-anchor="middle" fill="#2a2a2a">transcript density</text>
<text x="385.0" y="765.5" text-anchor="middle">mean length (X1000 bp)</text>
<path d="M216.5,845.0 L218.2,845.0 L218.8,818.0 L219.6,844.6 L225.7,844.6 L226.7,835.7 L227.7,844.5 L230.7,844.4 L231.4,841.8 L232.2,844.3 L234.6,843.3 L236.0,844.3 L250.0,844.6 L262.0,843.6 L266.0,840.0 L268.5,829.1 L269.8,809.4 L271.3,790.0 L273.1,780.2 L274.8,790.0 L276.4,809.4 L278.2,830.0 L280.5,840.0 L283.0,843.5 L297.0,845.0 L297.0,845.0 L216.5,845.0 Z" fill="rgba(60,60,60,0.6)" stroke="none" stroke-width="1"/>
<path d="M216.5,845.0 L218.2,845.0 L218.8,818.0 L219.6,844.6 L225.7,844.6 L226.7,835.7 L227.7,844.5 L230.7,844.4 L231.4,841.8 L232.2,844.3 L234.6,843.3 L236.0,844.3 L250.0,844.6 L262.0,843.6 L266.0,840.0 L268.5,829.1 L269.8,809.4 L271.3,790.0 L273.1,780.2 L274.8,790.0 L276.4,809.4 L278.2,830.0 L280.5,840.0 L283.0,843.5 L297.0,845.0" fill="none" stroke="#111" stroke-width="1.0" stroke-linejoin="round"/>
<path d="M216.5,845.1 L216.7,845.1 L216.8,845.1 L216.9,845.1 L217.4,845.1 L218.3,845.1 L219.9,845.1 L222.4,845.1 L225.7,845.1 L229.4,845.0 L233.3,845.0 L237.0,844.9 L240.0,844.9 L242.4,844.9 L244.5,844.8 L246.3,844.8 L248.0,844.7 L249.7,844.6 L251.4,844.5 L253.3,844.3 L255.2,844.1 L257.1,843.8 L258.9,843.5 L260.6,843.2 L261.9,842.9 L262.9,842.6 L263.7,842.2 L264.2,841.8 L264.7,841.4 L265.1,840.9 L265.5,840.5 L265.9,840.1 L266.2,839.8 L266.5,839.4 L266.7,839.0 L267.0,838.4 L267.2,837.6 L267.4,836.6 L267.7,835.6 L267.9,834.4 L268.1,833.0 L268.3,831.2 L268.5,829.1 L268.7,826.5 L268.9,823.4 L269.1,819.9 L269.4,816.4 L269.6,812.8 L269.8,809.4 L270.0,806.0 L270.3,802.6 L270.5,799.1 L270.8,795.8 L271.0,792.7 L271.3,790.0 L271.6,787.5 L271.9,785.0 L272.2,782.7 L272.5,780.9 L272.8,779.7 L273.1,779.2 L273.4,779.7 L273.7,780.9 L274.0,782.7 L274.2,785.0 L274.5,787.5 L274.8,790.0 L275.1,792.7 L275.3,795.8 L275.6,799.1 L275.8,802.6 L276.1,806.0 L276.4,809.4 L276.7,812.8 L277.0,816.3 L277.4,819.9 L277.7,823.3 L278.1,826.4 L278.4,829.1 L278.7,831.3 L279.1,833.2 L279.4,834.8 L279.8,836.2 L280.1,837.4 L280.5,838.5 L280.8,839.5 L281.1,840.2 L281.4,840.8 L281.8,841.4 L282.3,841.8 L283.0,842.3 L284.0,842.8 L285.3,843.2 L286.6,843.7 L288.1,844.0 L289.5,844.3 L290.8,844.6 L292.0,844.8 L293.3,844.9 L294.6,844.9 L295.7,845.0 L296.7,845.0 L297.4,845.0 L297.4,845.0 L216.5,845.0 Z" fill="rgba(240,90,50,0.33)" stroke="none" stroke-width="1"/>
<path d="M216.5,845.1 L216.7,845.1 L216.8,845.1 L216.9,845.1 L217.4,845.1 L218.3,845.1 L219.9,845.1 L222.4,845.1 L225.7,845.1 L229.4,845.0 L233.3,845.0 L237.0,844.9 L240.0,844.9 L242.4,844.9 L244.5,844.8 L246.3,844.8 L248.0,844.7 L249.7,844.6 L251.4,844.5 L253.3,844.3 L255.2,844.1 L257.1,843.8 L258.9,843.5 L260.6,843.2 L261.9,842.9 L262.9,842.6 L263.7,842.2 L264.2,841.8 L264.7,841.4 L265.1,840.9 L265.5,840.5 L265.9,840.1 L266.2,839.8 L266.5,839.4 L266.7,839.0 L267.0,838.4 L267.2,837.6 L267.4,836.6 L267.7,835.6 L267.9,834.4 L268.1,833.0 L268.3,831.2 L268.5,829.1 L268.7,826.5 L268.9,823.4 L269.1,819.9 L269.4,816.4 L269.6,812.8 L269.8,809.4 L270.0,806.0 L270.3,802.6 L270.5,799.1 L270.8,795.8 L271.0,792.7 L271.3,790.0 L271.6,787.5 L271.9,785.0 L272.2,782.7 L272.5,780.9 L272.8,779.7 L273.1,779.2 L273.4,779.7 L273.7,780.9 L274.0,782.7 L274.2,785.0 L274.5,787.5 L274.8,790.0 L275.1,792.7 L275.3,795.8 L275.6,799.1 L275.8,802.6 L276.1,806.0 L276.4,809.4 L276.7,812.8 L277.0,816.3 L277.4,819.9 L277.7,823.3 L278.1,826.4 L278.4,829.1 L278.7,831.3 L279.1,833.2 L279.4,834.8 L279.8,836.2 L280.1,837.4 L280.5,838.5 L280.8,839.5 L281.1,840.2 L281.4,840.8 L281.8,841.4 L282.3,841.8 L283.0,842.3 L284.0,842.8 L285.3,843.2 L286.6,843.7 L288.1,844.0 L289.5,844.3 L290.8,844.6 L292.0,844.8 L293.3,844.9 L294.6,844.9 L295.7,845.0 L296.7,845.0 L297.4,845.0" fill="none" stroke="#f0604f" stroke-width="1.2" stroke-linejoin="round"/>
<line x1="215.2" y1="773.1" x2="215.2" y2="848.6" stroke="#231f20" stroke-width="1.3"/>
<line x1="214.6" y1="848.0" x2="300.4" y2="848.0" stroke="#231f20" stroke-width="1.3"/>
<text x="211.2" y="777.6" text-anchor="end">4</text>
<text x="211.2" y="794.7" text-anchor="end">3</text>
<text x="211.2" y="811.9" text-anchor="end">2</text>
<text x="211.2" y="828.9" text-anchor="end">1</text>
<text x="211.2" y="845.5" text-anchor="end">0</text>
<text x="220.7" y="856.6" text-anchor="middle">0</text>
<text x="246.9" y="856.6" text-anchor="middle">1</text>
<text x="273.2" y="856.6" text-anchor="middle">2</text>
<text x="299.0" y="856.6" text-anchor="middle">3</text>
<text x="236.4" y="784.1" font-size="7.6"><tspan font-style="italic">p</tspan>&lt;0.001</text>
<text transform="translate(201.0,812.0) rotate(-90)" text-anchor="middle" fill="#2a2a2a">transcript density</text>
<text x="209.3" y="866.1">log<tspan font-size="5.5" dy="1.5">10</tspan><tspan dy="-1.5">(mean polyA length)</tspan></text>
<path d="M346.1,833.7 L346.5,834.0 L347.1,834.3 L347.8,834.7 L348.6,835.1 L349.3,835.6 L350.0,836.0 L350.6,836.4 L351.3,836.8 L351.9,837.2 L352.5,837.6 L353.1,837.9 L353.8,838.3 L354.5,838.7 L355.1,839.0 L355.7,839.3 L356.4,839.7 L357.2,840.0 L358.0,840.3 L358.9,840.6 L360.0,840.9 L361.1,841.2 L362.2,841.5 L363.3,841.7 L364.3,842.0 L365.3,842.2 L366.2,842.5 L367.1,842.7 L368.0,842.9 L369.0,843.0 L370.0,843.2 L371.2,843.4 L372.4,843.5 L373.7,843.7 L375.0,843.8 L376.3,843.9 L377.4,843.9 L378.4,843.9 L379.4,843.8 L380.4,843.7 L381.3,843.6 L382.1,843.4 L383.0,843.2 L383.9,843.0 L384.8,842.8 L385.6,842.6 L386.4,842.3 L387.2,842.0 L387.9,841.6 L388.5,841.2 L389.1,840.7 L389.6,840.2 L390.1,839.7 L390.6,839.1 L391.0,838.5 L391.4,837.9 L391.8,837.2 L392.2,836.5 L392.5,835.8 L392.9,835.1 L393.2,834.4 L393.5,833.7 L393.9,833.1 L394.2,832.4 L394.5,831.7 L394.9,831.1 L395.2,830.5 L395.5,829.9 L395.8,829.3 L396.2,828.7 L396.5,828.2 L396.8,827.6 L397.1,827.2 L397.4,826.8 L397.7,826.5 L398.0,826.2 L398.2,826.0 L398.5,825.8 L398.8,825.6 L399.1,825.5 L399.3,825.3 L399.6,825.3 L399.9,825.2 L400.1,825.2 L400.4,825.2 L400.7,825.2 L400.9,825.3 L401.2,825.4 L401.5,825.5 L401.7,825.6 L402.0,825.8 L402.3,826.0 L402.6,826.3 L402.8,826.6 L403.1,827.0 L403.4,827.4 L403.7,827.8 L404.0,828.3 L404.3,828.9 L404.6,829.5 L404.9,830.1 L405.2,830.7 L405.5,831.4 L405.8,832.1 L406.2,832.8 L406.5,833.5 L406.9,834.3 L407.2,835.0 L407.6,835.7 L408.0,836.4 L408.4,837.0 L408.8,837.7 L409.2,838.3 L409.6,838.9 L410.0,839.5 L410.4,840.0 L410.8,840.5 L411.2,841.0 L411.6,841.5 L412.2,841.9 L412.9,842.3 L413.8,842.7 L414.9,843.1 L416.1,843.4 L417.3,843.7 L418.4,844.0 L419.5,844.2 L420.5,844.3 L421.5,844.4 L422.5,844.5 L423.4,844.5 L424.2,844.5 L424.7,844.5 L424.7,844.6 L346.1,844.6 Z" fill="rgba(60,60,60,0.6)" stroke="none" stroke-width="1"/>
<path d="M346.1,833.7 L346.5,834.0 L347.1,834.3 L347.8,834.7 L348.6,835.1 L349.3,835.6 L350.0,836.0 L350.6,836.4 L351.3,836.8 L351.9,837.2 L352.5,837.6 L353.1,837.9 L353.8,838.3 L354.5,838.7 L355.1,839.0 L355.7,839.3 L356.4,839.7 L357.2,840.0 L358.0,840.3 L358.9,840.6 L360.0,840.9 L361.1,841.2 L362.2,841.5 L363.3,841.7 L364.3,842.0 L365.3,842.2 L366.2,842.5 L367.1,842.7 L368.0,842.9 L369.0,843.0 L370.0,843.2 L371.2,843.4 L372.4,843.5 L373.7,843.7 L375.0,843.8 L376.3,843.9 L377.4,843.9 L378.4,843.9 L379.4,843.8 L380.4,843.7 L381.3,843.6 L382.1,843.4 L383.0,843.2 L383.9,843.0 L384.8,842.8 L385.6,842.6 L386.4,842.3 L387.2,842.0 L387.9,841.6 L388.5,841.2 L389.1,840.7 L389.6,840.2 L390.1,839.7 L390.6,839.1 L391.0,838.5 L391.4,837.9 L391.8,837.2 L392.2,836.5 L392.5,835.8 L392.9,835.1 L393.2,834.4 L393.5,833.7 L393.9,833.1 L394.2,832.4 L394.5,831.7 L394.9,831.1 L395.2,830.5 L395.5,829.9 L395.8,829.3 L396.2,828.7 L396.5,828.2 L396.8,827.6 L397.1,827.2 L397.4,826.8 L397.7,826.5 L398.0,826.2 L398.2,826.0 L398.5,825.8 L398.8,825.6 L399.1,825.5 L399.3,825.3 L399.6,825.3 L399.9,825.2 L400.1,825.2 L400.4,825.2 L400.7,825.2 L400.9,825.3 L401.2,825.4 L401.5,825.5 L401.7,825.6 L402.0,825.8 L402.3,826.0 L402.6,826.3 L402.8,826.6 L403.1,827.0 L403.4,827.4 L403.7,827.8 L404.0,828.3 L404.3,828.9 L404.6,829.5 L404.9,830.1 L405.2,830.7 L405.5,831.4 L405.8,832.1 L406.2,832.8 L406.5,833.5 L406.9,834.3 L407.2,835.0 L407.6,835.7 L408.0,836.4 L408.4,837.0 L408.8,837.7 L409.2,838.3 L409.6,838.9 L410.0,839.5 L410.4,840.0 L410.8,840.5 L411.2,841.0 L411.6,841.5 L412.2,841.9 L412.9,842.3 L413.8,842.7 L414.9,843.1 L416.1,843.4 L417.3,843.7 L418.4,844.0 L419.5,844.2 L420.5,844.3 L421.5,844.4 L422.5,844.5 L423.4,844.5 L424.2,844.5 L424.7,844.5" fill="none" stroke="#111" stroke-width="1.0" stroke-linejoin="round"/>
<path d="M345.9,844.6 L349.6,844.6 L355.0,844.6 L361.2,844.5 L367.6,844.5 L373.2,844.4 L377.4,844.2 L379.9,844.0 L381.4,843.7 L382.3,843.3 L382.7,842.9 L383.2,842.5 L384.0,842.0 L385.1,841.5 L386.3,840.9 L387.5,840.3 L388.6,839.7 L389.7,839.0 L390.6,838.3 L391.4,837.6 L392.2,836.9 L392.8,836.1 L393.4,835.3 L394.0,834.3 L394.5,833.1 L395.0,831.7 L395.3,830.3 L395.7,828.7 L396.0,826.9 L396.2,824.9 L396.5,822.6 L396.8,819.9 L397.0,816.6 L397.2,813.2 L397.4,809.8 L397.6,806.7 L397.8,804.2 L398.1,802.1 L398.3,800.2 L398.6,798.6 L398.9,797.5 L399.2,796.8 L399.5,796.9 L399.8,797.8 L400.2,799.5 L400.6,801.7 L401.0,804.3 L401.3,806.9 L401.7,809.4 L402.0,812.0 L402.4,814.8 L402.7,817.7 L403.1,820.5 L403.4,823.1 L403.7,825.2 L404.0,826.8 L404.3,828.1 L404.6,829.1 L404.9,829.9 L405.2,830.7 L405.5,831.5 L405.8,832.3 L406.2,833.1 L406.5,833.7 L406.9,834.4 L407.2,835.0 L407.6,835.7 L408.0,836.4 L408.4,837.1 L408.8,837.8 L409.2,838.5 L409.6,839.2 L410.0,839.8 L410.4,840.3 L410.8,840.8 L411.3,841.3 L411.8,841.7 L412.3,842.1 L412.9,842.5 L413.6,842.9 L414.4,843.2 L415.2,843.5 L416.1,843.8 L417.0,844.0 L418.0,844.2 L419.1,844.3 L420.4,844.4 L421.7,844.5 L422.9,844.5 L424.0,844.6 L424.7,844.6 L424.7,844.6 L345.9,844.6 Z" fill="rgba(240,90,50,0.33)" stroke="none" stroke-width="1"/>
<path d="M345.9,844.6 L349.6,844.6 L355.0,844.6 L361.2,844.5 L367.6,844.5 L373.2,844.4 L377.4,844.2 L379.9,844.0 L381.4,843.7 L382.3,843.3 L382.7,842.9 L383.2,842.5 L384.0,842.0 L385.1,841.5 L386.3,840.9 L387.5,840.3 L388.6,839.7 L389.7,839.0 L390.6,838.3 L391.4,837.6 L392.2,836.9 L392.8,836.1 L393.4,835.3 L394.0,834.3 L394.5,833.1 L395.0,831.7 L395.3,830.3 L395.7,828.7 L396.0,826.9 L396.2,824.9 L396.5,822.6 L396.8,819.9 L397.0,816.6 L397.2,813.2 L397.4,809.8 L397.6,806.7 L397.8,804.2 L398.1,802.1 L398.3,800.2 L398.6,798.6 L398.9,797.5 L399.2,796.8 L399.5,796.9 L399.8,797.8 L400.2,799.5 L400.6,801.7 L401.0,804.3 L401.3,806.9 L401.7,809.4 L402.0,812.0 L402.4,814.8 L402.7,817.7 L403.1,820.5 L403.4,823.1 L403.7,825.2 L404.0,826.8 L404.3,828.1 L404.6,829.1 L404.9,829.9 L405.2,830.7 L405.5,831.5 L405.8,832.3 L406.2,833.1 L406.5,833.7 L406.9,834.4 L407.2,835.0 L407.6,835.7 L408.0,836.4 L408.4,837.1 L408.8,837.8 L409.2,838.5 L409.6,839.2 L410.0,839.8 L410.4,840.3 L410.8,840.8 L411.3,841.3 L411.8,841.7 L412.3,842.1 L412.9,842.5 L413.6,842.9 L414.4,843.2 L415.2,843.5 L416.1,843.8 L417.0,844.0 L418.0,844.2 L419.1,844.3 L420.4,844.4 L421.7,844.5 L422.9,844.5 L424.0,844.6 L424.7,844.6" fill="none" stroke="#f0604f" stroke-width="1.2" stroke-linejoin="round"/>
<line x1="342.4" y1="772.9" x2="342.4" y2="848.5" stroke="#231f20" stroke-width="1.3"/>
<line x1="341.8" y1="847.9" x2="425.3" y2="847.9" stroke="#231f20" stroke-width="1.3"/>
<text x="337.6" y="777.4" text-anchor="end">4</text>
<text x="337.6" y="793.6" text-anchor="end">3</text>
<text x="337.6" y="811.0" text-anchor="end">2</text>
<text x="337.6" y="827.7" text-anchor="end">1</text>
<text x="337.6" y="844.8" text-anchor="end">0</text>
<text x="347.8" y="856.0" text-anchor="middle">0</text>
<text x="373.6" y="856.0" text-anchor="middle">1</text>
<text x="399.6" y="856.0" text-anchor="middle">2</text>
<text x="424.9" y="856.0" text-anchor="middle">3</text>
<text x="370.2" y="784.2" font-size="7.6"><tspan font-style="italic">p</tspan>&lt;0.001</text>
<text transform="translate(327.8,810.0) rotate(-90)" text-anchor="middle" fill="#2a2a2a">transcript density</text>
<text x="338" y="866.1">log<tspan font-size="5.5" dy="1.5">10</tspan><tspan dy="-1.5">(mean polyA length)</tspan></text>
<rect x="292.8" y="875.1" width="5.6" height="6.2" fill="#8c8c8c" stroke="#111" stroke-width="1.1"/>
<text x="301.6" y="880.5">young</text>
<rect x="330.6" y="875.1" width="6.0" height="6.2" fill="#f8c0b0" stroke="#f0604f" stroke-width="1.1"/>
<text x="339.8" y="880.5">old</text>
</svg></body></html>
